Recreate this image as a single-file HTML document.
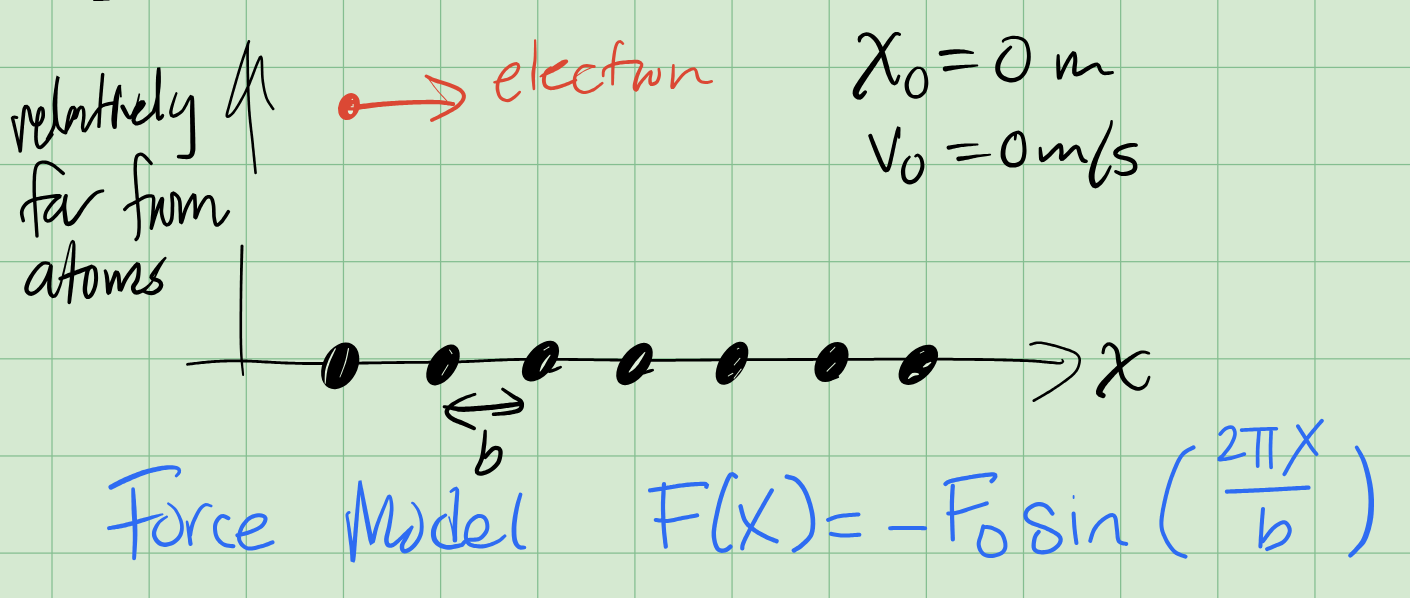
<!DOCTYPE html><html><head><meta charset="utf-8"><title>notes</title><style>html,body{margin:0;padding:0;background:#d5e9d1;overflow:hidden;font-family:"Liberation Sans",sans-serif}svg{display:block}</style></head><body>
<svg width="1410" height="598" viewBox="0 0 1410 598">
<rect width="1410" height="598" fill="#d5e9d1"/>
<rect x="51.38" y="0" width="1.25" height="598" fill="#84be90"/><rect x="148.53" y="0" width="1.25" height="598" fill="#84be90"/><rect x="245.68" y="0" width="1.25" height="598" fill="#84be90"/><rect x="342.83" y="0" width="1.25" height="598" fill="#84be90"/><rect x="439.98" y="0" width="1.25" height="598" fill="#84be90"/><rect x="537.12" y="0" width="1.25" height="598" fill="#84be90"/><rect x="634.28" y="0" width="1.25" height="598" fill="#84be90"/><rect x="731.43" y="0" width="1.25" height="598" fill="#84be90"/><rect x="828.58" y="0" width="1.25" height="598" fill="#84be90"/><rect x="925.73" y="0" width="1.25" height="598" fill="#84be90"/><rect x="1022.88" y="0" width="1.25" height="598" fill="#84be90"/><rect x="1120.03" y="0" width="1.25" height="598" fill="#84be90"/><rect x="1217.18" y="0" width="1.25" height="598" fill="#84be90"/><rect x="1314.33" y="0" width="1.25" height="598" fill="#84be90"/><rect x="0" y="66.78" width="1410" height="1.25" fill="#84be90"/><rect x="0" y="163.92" width="1410" height="1.25" fill="#84be90"/><rect x="0" y="261.06" width="1410" height="1.25" fill="#84be90"/><rect x="0" y="358.20" width="1410" height="1.25" fill="#84be90"/><rect x="0" y="455.34" width="1410" height="1.25" fill="#84be90"/><rect x="0" y="552.48" width="1410" height="1.25" fill="#84be90"/>
<rect x="102" y="0" width="7.5" height="1" fill="#3a3f3a" opacity="0.8"/>
<ellipse cx="349" cy="106.6" rx="10.5" ry="13.9" transform="rotate(22 349 106.6)" fill="#db4834"/>
<path fill="#e3f3dc" d="M352.3 98.6l1 1.4h-2zM352.6 104.1h1v3.2h-2.8v-1h1.8zM347.8 110.4h5.3c0 2-1.2 3.8-2.6 3.8s-2.7-1.8-2.7-3.8z"/>
<ellipse cx="340.2" cy="365.9" rx="17.2" ry="24.8" transform="rotate(28.0 340.2 365.9)" fill="#000000"/>
<ellipse cx="443.0" cy="365.0" rx="13.0" ry="23.0" transform="rotate(34.0 443.0 365.0)" fill="#000000"/>
<ellipse cx="540.5" cy="361.1" rx="13.5" ry="24.0" transform="rotate(40.0 540.5 361.1)" fill="#000000"/>
<ellipse cx="634.5" cy="364.0" rx="13.5" ry="24.5" transform="rotate(37.0 634.5 364.0)" fill="#000000"/>
<ellipse cx="732.0" cy="363.3" rx="12.5" ry="24.0" transform="rotate(31.0 732.0 363.3)" fill="#000000"/>
<ellipse cx="831.5" cy="362.0" rx="14.5" ry="22.0" transform="rotate(33.0 831.5 362.0)" fill="#000000"/>
<ellipse cx="918.3" cy="364.8" rx="14.0" ry="24.5" transform="rotate(44.0 918.3 364.8)" fill="#000000"/>
<path fill="#000000" d="M94.0 1.0 95.3 1.0 97.2 1.0 99.3 1.0 101.2 1.0 102.5 1.0 A1.0 1.0 0 0 0 102.5 -1.0 L102.5 -1.0 101.2 -1.0 99.3 -1.0 97.2 -1.0 95.3 -1.0 94.0 -1.0 A1.0 1.0 0 0 0 94.0 1.0 Z M16.9 115.9 14.6 115.6 12.2 115.9 10.7 117.7 11.0 119.0 11.9 122.4 12.2 123.3 12.4 124.5 12.7 125.9 13.1 127.3 13.5 129.0 13.9 130.7 14.3 132.5 14.7 134.3 15.1 136.2 15.6 138.0 16.0 139.9 16.4 141.7 16.8 143.4 17.2 145.1 17.6 146.6 17.9 148.1 18.2 149.3 18.4 150.4 18.6 151.3 A1.6 1.6 0 0 0 21.8 150.5 L21.8 150.5 21.6 149.7 21.3 148.6 21.0 147.3 20.7 145.9 20.3 144.4 19.9 142.7 19.5 141.0 19.1 139.2 18.7 137.3 18.2 135.4 17.8 133.6 17.4 131.7 17.0 129.9 16.6 128.2 16.2 126.6 15.9 125.1 15.6 123.8 15.3 122.6 15.1 121.6 14.1 118.1 13.9 117.8 13.0 119.1 14.6 118.8 16.5 119.1 A1.6 1.6 0 0 0 16.9 115.9 Z M22.0 151.1 22.1 150.2 22.2 149.1 22.3 147.8 22.4 146.4 22.5 144.9 22.6 143.2 22.8 141.5 22.9 139.7 23.1 137.9 23.2 136.0 23.4 134.2 23.6 132.3 23.7 130.5 23.9 128.8 24.0 127.2 24.1 125.6 24.3 124.2 24.4 123.0 24.6 120.7 24.8 118.7 25.0 116.8 25.2 115.1 25.3 113.6 25.5 112.2 25.7 111.1 25.8 110.0 26.0 109.4 26.7 107.7 26.1 108.1 26.3 108.3 27.3 110.6 27.6 111.7 27.9 113.2 28.2 114.9 28.5 116.7 28.9 118.5 29.2 120.2 29.7 121.7 31.2 124.5 32.4 125.8 A1.8 1.8 0 0 0 35.0 123.2 L35.0 123.2 34.1 122.4 32.9 120.3 32.7 119.3 32.4 117.8 32.1 116.1 31.8 114.3 31.4 112.5 31.1 110.8 30.7 109.4 29.4 106.4 27.3 104.7 24.2 105.1 22.6 108.0 22.3 109.3 22.1 110.5 21.9 111.8 21.7 113.2 21.6 114.7 21.4 116.4 21.2 118.3 21.0 120.4 20.8 122.6 20.7 123.9 20.6 125.3 20.4 126.8 20.3 128.5 20.1 130.2 20.0 132.0 19.8 133.9 19.7 135.7 19.5 137.6 19.3 139.4 19.2 141.2 19.1 142.9 18.9 144.6 18.8 146.1 18.7 147.5 18.6 148.8 18.5 149.9 18.4 150.7 A1.8 1.8 0 0 0 22.0 151.1 Z M33.4 126.3 34.8 126.6 37.3 126.9 39.9 126.1 41.4 124.6 42.5 123.0 43.4 121.2 44.2 119.3 44.8 117.4 45.0 115.4 45.0 113.2 44.9 111.2 44.6 109.4 43.8 107.5 40.8 106.1 38.1 108.1 37.4 109.7 36.9 111.1 36.5 112.7 36.1 114.6 35.7 116.7 35.4 119.1 35.3 120.3 35.1 121.8 35.0 123.3 34.8 124.9 34.7 126.6 34.5 128.4 34.4 130.1 34.3 131.8 34.2 133.5 34.2 135.2 34.1 136.7 34.2 138.1 34.2 139.4 34.5 142.1 35.0 144.4 35.8 146.3 36.8 147.9 38.4 149.1 40.7 149.2 42.7 148.2 44.4 146.7 46.1 145.1 47.2 143.8 48.3 142.4 49.5 140.8 50.7 139.2 51.7 137.7 52.6 136.4 53.3 135.6 A1.8 1.8 0 0 0 50.3 133.4 L50.3 133.4 49.7 134.3 48.8 135.6 47.8 137.1 46.6 138.7 45.5 140.2 44.4 141.5 43.5 142.5 42.0 144.1 40.6 145.2 39.8 145.7 39.6 145.7 39.5 145.5 39.0 144.7 38.5 143.4 38.1 141.5 37.8 139.0 37.8 138.0 37.7 136.7 37.8 135.3 37.8 133.7 37.9 132.0 38.0 130.3 38.1 128.6 38.3 126.9 38.4 125.2 38.6 123.6 38.7 122.1 38.8 120.7 39.0 119.5 39.3 117.2 39.6 115.2 40.0 113.5 40.4 112.1 40.7 110.9 40.9 110.5 41.5 109.6 41.2 109.9 41.1 110.2 41.3 111.6 41.4 113.4 41.4 115.1 41.2 116.6 40.8 118.1 40.2 119.7 39.4 121.2 38.5 122.4 38.1 122.9 37.0 123.3 35.4 123.0 34.0 122.7 A1.8 1.8 0 0 0 33.4 126.3 Z M49.0 139.8 49.4 139.0 49.9 138.1 50.5 137.0 51.3 135.8 52.0 134.4 52.9 132.9 53.6 131.3 54.4 129.6 55.1 127.9 55.6 126.1 56.1 124.3 56.3 122.9 56.4 121.4 56.5 119.9 56.5 118.3 56.5 116.7 56.5 115.1 56.4 113.5 56.3 111.9 56.2 110.3 56.1 108.7 56.1 107.2 56.0 105.6 56.0 104.1 56.1 102.7 56.2 101.1 56.4 99.5 56.5 97.8 56.7 96.1 56.9 94.4 57.1 92.7 57.4 91.1 57.6 89.5 57.8 87.9 58.0 86.5 58.2 85.2 58.4 83.9 58.6 82.9 59.1 80.0 59.5 77.9 59.7 77.0 56.4 76.6 56.2 77.6 55.9 79.0 55.5 80.8 55.2 82.9 54.8 85.1 54.6 87.4 54.5 88.7 54.4 90.1 54.3 91.5 54.3 93.0 54.2 94.6 54.1 96.2 54.1 97.9 54.0 99.6 54.0 101.2 54.0 102.9 53.9 104.5 53.9 106.0 54.0 107.5 54.0 109.0 54.1 110.8 54.2 112.7 54.3 114.6 54.4 116.4 54.6 118.2 54.7 119.8 55.0 121.5 55.2 123.0 55.5 124.4 55.9 125.8 56.8 128.0 58.1 129.8 59.4 131.1 60.6 132.0 61.7 132.9 63.9 134.1 65.4 134.4 A1.7 1.7 0 0 0 66.0 131.0 L66.0 131.0 65.1 130.9 63.5 130.1 62.7 129.4 61.7 128.6 60.7 127.6 59.8 126.4 59.1 124.6 58.8 123.6 58.6 122.3 58.3 120.9 58.1 119.4 57.9 117.8 57.8 116.1 57.7 114.4 57.6 112.6 57.5 110.7 57.4 108.8 57.4 107.5 57.3 106.0 57.3 104.5 57.4 102.9 57.4 101.3 57.4 99.6 57.5 98.0 57.5 96.4 57.6 94.7 57.7 93.2 57.7 91.7 57.8 90.3 57.9 88.9 58.0 87.8 58.2 85.5 58.5 83.4 58.9 81.4 59.2 79.7 59.5 78.3 59.8 77.2 56.6 75.6 56.2 77.1 55.7 79.3 55.2 82.3 55.1 83.4 54.9 84.7 54.7 86.0 54.5 87.4 54.2 89.0 54.0 90.6 53.8 92.3 53.5 94.0 53.3 95.7 53.1 97.4 53.0 99.1 52.8 100.8 52.7 102.5 52.6 104.1 52.6 105.7 52.7 107.3 52.7 108.9 52.8 110.5 52.9 112.1 53.0 113.7 53.1 115.3 53.1 116.8 53.1 118.3 53.1 119.8 53.0 121.1 52.9 122.5 52.7 123.7 52.4 125.2 51.9 126.7 51.3 128.3 50.6 129.8 49.8 131.3 49.1 132.7 48.3 134.1 47.6 135.3 47.0 136.4 46.4 137.4 46.0 138.2 A1.7 1.7 0 0 0 49.0 139.8 Z M67.4 133.0 67.5 132.0 67.8 130.7 68.0 129.2 68.3 127.5 68.6 125.6 68.9 123.8 69.2 121.9 69.5 120.0 69.9 118.3 70.2 116.8 70.4 115.6 71.1 113.4 71.7 111.6 72.2 110.3 72.8 109.3 72.6 109.2 73.2 108.9 73.6 109.6 73.4 109.9 73.2 111.2 72.8 112.8 72.2 114.7 71.7 115.9 71.2 117.4 70.5 118.9 69.8 120.4 69.1 121.9 68.5 123.2 67.7 124.8 66.8 126.4 65.9 127.9 65.1 129.2 64.5 130.1 A1.7 1.7 0 0 0 67.5 131.9 L67.5 131.9 68.0 130.9 68.8 129.7 69.7 128.1 70.6 126.4 71.5 124.8 72.2 123.3 72.9 121.8 73.6 120.2 74.3 118.7 74.9 117.1 75.4 115.7 76.0 113.8 76.5 112.0 76.8 110.2 76.6 108.2 74.5 105.8 71.4 106.0 69.9 107.5 69.2 108.8 68.5 110.4 67.8 112.4 67.2 114.8 66.8 116.1 66.5 117.7 66.2 119.4 65.9 121.3 65.5 123.2 65.2 125.1 64.9 126.9 64.6 128.7 64.4 130.2 64.2 131.5 64.0 132.4 A1.7 1.7 0 0 0 67.4 133.0 Z M72.0 119.6 74.1 120.1 76.7 119.1 77.8 117.3 78.4 115.6 78.9 113.8 79.4 112.1 79.9 110.7 80.2 110.0 81.4 108.8 81.8 109.1 81.5 109.1 81.8 110.1 82.0 111.6 82.1 113.3 82.2 115.2 82.1 116.5 82.0 118.0 81.8 119.7 81.5 121.5 81.2 123.3 81.0 124.9 80.9 126.5 80.9 128.0 82.0 131.9 85.6 132.4 87.0 131.1 87.7 130.0 88.5 128.8 89.3 127.3 90.1 125.8 91.0 124.2 91.8 122.6 92.6 121.1 93.3 119.8 94.0 118.6 95.0 117.1 95.9 115.7 96.8 114.3 97.7 113.1 98.6 112.0 99.4 110.9 100.2 110.0 101.3 108.7 102.2 107.9 103.0 107.3 104.5 106.7 105.7 106.3 107.4 105.9 109.2 105.5 111.1 105.1 112.9 104.8 114.4 104.5 115.5 104.3 A1.7 1.7 0 0 0 114.9 100.9 L114.9 100.9 113.8 101.1 112.3 101.4 110.5 101.8 108.6 102.1 106.6 102.6 104.8 103.0 103.3 103.5 101.4 104.3 100.0 105.3 98.9 106.4 97.6 107.8 96.8 108.8 95.9 109.9 95.0 111.1 94.1 112.4 93.1 113.8 92.1 115.2 91.2 116.8 90.4 118.1 89.6 119.5 88.8 121.0 87.9 122.6 87.1 124.2 86.3 125.7 85.5 127.1 84.9 128.3 84.3 129.1 84.6 129.2 84.6 129.8 84.3 127.4 84.3 126.6 84.4 125.3 84.6 123.7 84.9 122.0 85.1 120.2 85.4 118.4 85.5 116.7 85.6 115.2 85.5 113.1 85.4 111.2 85.1 109.4 84.6 107.9 83.4 106.1 80.3 105.6 77.6 107.8 76.8 109.4 76.2 111.1 75.6 112.9 75.1 114.6 74.7 116.0 74.7 116.3 73.7 116.7 73.0 116.4 A1.7 1.7 0 0 0 72.0 119.6 Z M101.0 74.3 100.9 75.1 100.8 76.1 100.7 77.2 100.6 78.5 100.5 79.9 100.4 81.4 100.2 82.9 100.1 84.6 99.9 86.2 99.8 88.0 99.6 89.7 99.5 91.5 99.3 93.2 99.2 95.0 99.1 96.7 98.9 98.3 98.8 99.9 98.7 101.5 98.6 103.1 98.5 104.8 98.4 106.6 98.2 108.4 98.1 110.2 98.0 112.0 97.9 113.8 97.8 115.6 97.7 117.3 97.6 118.9 97.5 120.4 97.5 121.9 97.4 123.2 97.3 124.4 97.3 125.4 97.2 126.3 A1.7 1.7 0 0 0 100.6 126.5 L100.6 126.5 100.6 125.6 100.7 124.6 100.8 123.4 100.9 122.1 100.9 120.6 101.0 119.1 101.1 117.5 101.2 115.8 101.3 114.0 101.4 112.2 101.5 110.4 101.6 108.6 101.7 106.8 101.9 105.1 102.0 103.3 102.1 101.7 102.2 100.1 102.3 98.6 102.4 96.9 102.6 95.2 102.7 93.5 102.9 91.8 103.0 90.0 103.2 88.3 103.3 86.5 103.5 84.9 103.6 83.2 103.8 81.7 103.9 80.2 104.0 78.8 104.1 77.5 104.2 76.4 104.3 75.4 104.4 74.5 A1.7 1.7 0 0 0 101.0 74.3 Z M120.3 84.7 118.6 84.9 117.6 86.3 117.1 87.5 116.5 88.9 115.9 90.6 115.3 92.4 114.8 94.3 114.2 96.2 113.9 97.7 113.6 99.3 113.4 100.9 113.1 102.6 112.9 104.3 112.6 105.9 112.4 107.5 112.2 109.0 112.1 110.7 111.9 112.4 111.8 114.1 111.6 115.7 111.5 117.2 111.4 118.7 111.4 120.2 111.6 122.4 111.8 124.4 112.1 126.0 112.4 127.1 A2.2 2.2 0 0 0 116.8 126.7 L116.8 126.7 116.9 125.6 116.9 124.0 116.9 122.2 117.0 120.2 117.1 119.0 117.2 117.6 117.3 116.1 117.4 114.6 117.6 112.9 117.8 111.3 118.0 109.6 118.1 108.1 118.2 106.5 118.3 104.9 118.5 103.2 118.6 101.6 118.8 100.1 119.0 98.6 119.2 97.2 119.4 95.3 119.7 93.5 120.0 91.7 120.4 90.0 120.7 88.6 120.8 87.7 121.0 86.8 119.9 87.1 A1.2 1.2 0 0 0 120.3 84.7 Z M119.2 86.0 119.3 87.0 119.4 88.6 119.5 90.4 119.7 92.3 119.8 94.2 119.9 95.7 120.0 96.8 A0.9 0.9 0 0 0 121.8 96.6 L121.8 96.6 121.7 95.6 121.6 94.0 121.5 92.2 121.3 90.3 121.2 88.4 121.1 86.9 121.0 85.8 A0.9 0.9 0 0 0 119.2 86.0 Z M120.6 107.8 121.2 109.1 122.3 111.1 123.1 112.5 124.0 114.2 125.0 115.8 126.0 117.2 127.8 119.0 130.5 119.4 132.4 118.1 133.6 116.3 134.8 114.2 135.4 113.0 135.9 111.6 136.4 110.2 136.9 108.7 137.4 107.1 137.9 105.4 138.2 103.8 138.6 102.1 139.0 100.2 139.4 98.4 139.7 96.8 139.9 95.4 140.1 94.4 A0.8 0.8 0 0 0 138.5 94.0 L138.5 94.0 138.3 95.0 137.9 96.4 137.5 98.0 137.1 99.8 136.7 101.6 136.2 103.3 135.7 104.8 135.2 106.3 134.6 107.8 134.0 109.2 133.4 110.6 132.8 111.8 132.2 112.8 131.0 114.5 130.0 115.7 129.7 116.0 129.9 115.9 129.2 114.8 128.6 113.7 127.8 112.1 127.0 110.5 126.3 109.1 125.2 107.1 124.6 105.8 A2.2 2.2 0 0 0 120.6 107.8 Z M135.1 114.3 135.7 113.3 136.6 111.8 137.6 110.2 138.6 108.9 139.7 107.7 141.1 106.4 142.3 105.3 142.8 104.9 142.1 104.7 141.0 103.3 140.9 103.4 140.2 104.7 139.2 106.2 138.5 107.2 137.5 108.3 136.4 109.6 135.3 111.0 134.3 112.5 133.3 114.3 132.4 116.3 131.7 118.3 131.4 120.5 132.6 123.6 135.3 125.5 137.5 125.6 139.2 125.1 141.0 124.4 142.7 123.6 144.2 122.7 145.6 121.6 147.1 120.4 148.4 119.3 149.7 118.2 151.2 116.7 152.7 115.2 154.0 113.9 154.8 113.0 A1.7 1.7 0 0 0 152.4 110.6 L152.4 110.6 151.5 111.5 150.2 112.8 148.8 114.1 147.3 115.4 146.1 116.4 144.7 117.5 143.4 118.5 142.0 119.4 140.9 120.0 139.4 120.7 138.0 121.2 136.9 121.4 136.7 121.5 135.9 121.1 135.6 119.9 135.7 119.2 136.2 117.7 136.9 116.1 137.7 114.5 138.5 113.5 139.5 112.4 140.6 111.3 141.8 110.1 142.8 109.0 144.1 107.2 145.2 105.6 146.0 103.5 144.2 100.2 140.8 100.3 139.1 101.6 137.7 103.0 136.3 104.6 135.0 106.3 134.0 108.1 133.1 109.9 132.4 111.6 131.9 112.7 A1.8 1.8 0 0 0 135.1 114.3 Z M155.3 112.4 155.6 111.4 156.1 110.1 156.6 108.5 157.1 106.8 157.7 105.0 158.2 103.1 158.7 101.3 159.0 99.7 159.2 98.1 159.5 96.4 159.7 94.7 159.9 93.1 160.1 91.5 160.2 90.0 160.4 88.6 160.6 86.7 160.7 85.0 160.8 83.4 160.9 81.8 160.9 80.0 160.9 78.3 160.9 76.5 160.8 74.6 160.8 72.7 160.7 71.2 160.6 69.9 160.3 67.2 157.2 67.5 157.0 68.6 156.8 69.7 156.6 71.1 156.5 72.7 156.3 74.4 156.1 76.2 156.0 78.1 155.9 79.9 155.9 81.3 155.8 82.7 155.8 84.2 155.8 85.7 155.8 87.3 155.8 88.9 155.8 90.4 155.8 92.0 155.8 93.6 155.8 95.2 155.8 96.7 155.8 98.3 155.8 99.9 155.7 101.6 155.7 103.2 155.7 104.9 155.7 106.6 155.7 108.2 155.7 109.7 155.7 111.1 155.7 112.4 155.7 113.6 155.9 116.7 156.3 118.9 158.5 121.1 161.3 120.0 163.3 118.0 164.0 116.6 164.2 115.6 A1.5 1.5 0 0 0 161.4 114.6 L161.4 114.6 161.1 115.0 160.5 115.6 159.2 117.1 158.7 117.5 159.9 117.9 159.8 116.4 159.7 113.4 159.7 112.3 159.6 111.1 159.6 109.7 159.6 108.2 159.6 106.6 159.6 105.0 159.6 103.3 159.6 101.6 159.6 99.9 159.6 98.3 159.6 96.7 159.6 95.2 159.6 93.6 159.5 92.0 159.5 90.4 159.5 88.8 159.5 87.3 159.5 85.7 159.5 84.2 159.5 82.8 159.5 81.4 159.5 80.1 159.5 78.3 159.6 76.4 159.7 74.7 159.8 73.0 159.9 71.4 159.9 70.1 160.0 69.0 160.0 68.5 157.6 68.0 157.8 70.1 157.9 71.3 157.9 72.9 157.9 74.6 158.0 76.5 157.9 78.3 157.9 80.0 157.8 81.6 157.6 83.1 157.4 84.6 157.1 86.3 156.8 88.2 156.7 89.6 156.5 91.1 156.3 92.7 156.1 94.3 155.9 95.9 155.7 97.5 155.4 99.1 155.1 100.5 154.7 102.2 154.3 103.9 153.7 105.7 153.2 107.4 152.6 109.0 152.2 110.3 151.9 111.2 A1.8 1.8 0 0 0 155.3 112.4 Z M175.5 92.6 175.1 93.5 174.6 94.7 174.0 96.2 173.4 97.8 172.8 99.4 172.2 101.1 171.7 102.6 171.1 104.3 170.5 106.1 170.0 107.9 169.6 109.6 169.2 111.3 169.1 113.0 170.1 116.5 173.2 118.0 175.2 117.6 176.8 116.9 178.4 116.0 180.2 114.8 181.9 113.5 183.4 111.9 184.4 110.6 185.3 109.2 186.2 107.6 187.1 106.0 187.9 104.4 188.6 102.8 189.3 101.4 189.9 100.2 190.5 99.4 191.9 97.3 190.5 97.8 190.3 97.9 190.4 98.9 190.3 100.0 190.3 101.4 190.3 103.0 190.2 104.7 190.1 106.6 190.1 108.5 190.0 110.6 190.0 112.7 190.0 114.0 190.0 115.4 190.0 116.8 190.1 118.3 190.1 119.9 190.1 121.6 190.1 123.3 190.2 125.0 190.2 126.7 190.2 128.4 190.2 130.1 190.2 131.7 190.3 133.3 190.3 134.8 190.3 136.3 190.3 137.6 190.3 138.9 190.3 140.0 190.3 142.6 190.4 144.6 190.4 146.3 190.4 147.7 190.4 148.8 190.3 149.8 190.2 150.8 189.8 152.5 189.5 153.5 189.2 154.0 188.4 154.5 187.8 154.7 186.4 154.8 184.8 154.8 183.0 154.8 181.3 154.7 179.8 154.7 178.8 154.7 A1.9 1.9 0 0 0 178.6 158.5 L178.6 158.5 179.6 158.6 181.0 158.8 182.8 158.9 184.6 159.1 186.6 159.2 188.4 159.1 190.2 158.7 192.2 157.6 193.7 155.8 194.5 153.9 195.0 151.8 195.3 150.5 195.4 149.1 195.4 147.7 195.4 146.2 195.4 144.5 195.3 142.5 195.3 140.0 195.3 138.8 195.3 137.6 195.2 136.2 195.2 134.7 195.2 133.2 195.1 131.6 195.1 130.0 195.0 128.3 195.0 126.6 194.9 124.9 194.9 123.2 194.8 121.5 194.8 119.8 194.8 118.3 194.7 116.7 194.7 115.3 194.6 113.9 194.6 112.7 194.5 110.6 194.5 108.5 194.4 106.6 194.4 104.7 194.3 103.0 194.3 101.4 194.2 99.9 194.1 98.6 193.9 97.5 193.5 96.0 190.2 94.7 188.1 97.8 187.5 98.8 186.8 100.1 186.1 101.5 185.3 103.1 184.5 104.7 183.6 106.2 182.8 107.7 182.0 108.9 181.2 109.9 179.9 111.1 178.4 112.2 176.8 113.1 175.3 113.8 174.1 114.2 173.8 114.4 172.8 114.3 172.5 112.4 172.5 111.6 172.7 110.3 173.0 108.6 173.4 106.9 173.9 105.1 174.3 103.4 174.8 101.9 175.3 100.3 175.8 98.6 176.3 97.0 176.8 95.5 177.2 94.3 177.5 93.4 A1.1 1.1 0 0 0 175.5 92.6 Z M247.6 41.0 247.5 41.6 247.3 42.0 247.0 42.8 246.8 44.1 246.5 45.9 246.4 48.7 246.3 52.6 246.3 53.6 246.3 54.6 246.3 55.7 246.3 56.9 246.3 58.1 246.3 59.4 246.4 60.7 246.4 62.1 246.4 63.6 246.4 65.1 246.4 66.6 246.5 68.2 246.5 69.8 246.5 71.4 246.5 73.1 246.6 74.7 246.6 76.4 246.7 78.1 246.7 79.8 246.7 81.6 246.8 83.3 246.8 85.0 246.9 86.7 246.9 88.4 247.0 90.1 247.0 91.8 247.1 93.4 247.1 95.0 247.2 96.6 247.3 98.2 247.3 99.7 247.4 101.1 247.5 102.6 247.5 103.9 247.6 105.3 247.7 107.1 247.8 108.8 247.9 110.6 248.1 112.3 248.2 113.9 248.3 115.6 248.5 117.2 248.6 118.8 248.8 120.3 248.9 121.9 249.1 123.4 249.3 124.9 249.4 126.3 249.6 127.8 249.8 129.2 249.9 130.7 250.1 132.1 250.3 133.5 250.4 134.9 250.6 136.2 250.7 137.6 250.9 139.0 251.0 140.3 251.2 141.7 251.3 143.0 251.5 144.7 251.6 146.5 251.8 148.2 252.0 150.0 252.2 151.8 252.4 153.6 252.5 155.3 252.7 157.1 252.9 158.8 253.0 160.4 253.2 162.1 253.4 163.6 253.5 165.1 253.6 166.6 253.8 167.9 253.9 169.2 254.0 170.3 254.1 171.4 254.2 172.3 254.3 173.1 A1.3 1.3 0 0 0 256.9 172.9 L256.9 172.9 256.8 172.1 256.7 171.1 256.6 170.1 256.5 168.9 256.4 167.6 256.2 166.3 256.1 164.9 255.9 163.4 255.8 161.8 255.6 160.2 255.5 158.5 255.3 156.8 255.1 155.1 254.9 153.3 254.8 151.5 254.6 149.8 254.4 148.0 254.2 146.2 254.1 144.5 253.9 142.8 253.8 141.4 253.6 140.0 253.5 138.7 253.3 137.3 253.2 135.9 253.0 134.6 252.8 133.2 252.7 131.8 252.5 130.4 252.3 128.9 252.2 127.5 252.0 126.0 251.9 124.6 251.7 123.1 251.5 121.6 251.4 120.1 251.2 118.5 251.1 116.9 250.9 115.3 250.8 113.7 250.7 112.1 250.5 110.4 250.4 108.7 250.3 106.9 250.2 105.1 250.1 103.8 250.1 102.4 250.0 101.0 249.9 99.6 249.9 98.1 249.8 96.5 249.7 94.9 249.7 93.3 249.6 91.7 249.6 90.0 249.5 88.3 249.5 86.6 249.4 84.9 249.4 83.2 249.3 81.5 249.3 79.8 249.3 78.1 249.2 76.4 249.2 74.7 249.1 73.0 249.1 71.4 249.1 69.7 249.1 68.1 249.0 66.6 249.0 65.0 249.0 63.5 249.0 62.1 249.0 60.7 248.9 59.4 248.9 58.1 248.9 56.8 248.9 55.7 248.9 54.6 248.9 53.5 248.9 52.6 249.0 48.8 249.1 46.1 249.3 44.5 249.5 43.5 249.8 43.0 250.0 42.3 250.2 41.6 A1.3 1.3 0 0 0 247.6 41.0 Z M247.7 40.9 247.4 41.7 247.1 42.6 246.7 43.6 246.3 44.8 245.9 46.0 245.4 47.4 244.9 48.8 244.4 50.3 243.9 51.8 243.4 53.4 242.8 55.1 242.2 56.8 241.6 58.5 241.1 60.3 240.5 62.0 239.9 63.8 239.4 65.5 238.9 67.2 238.5 68.5 238.0 69.9 237.6 71.3 237.2 72.8 236.7 74.3 236.3 75.9 235.8 77.5 235.3 79.1 234.8 80.7 234.4 82.3 233.9 83.9 233.4 85.6 233.0 87.2 232.5 88.8 232.1 90.4 231.6 91.9 231.2 93.4 230.8 94.9 230.4 96.3 230.0 97.6 229.7 98.9 229.3 100.2 229.0 101.3 228.7 102.4 228.0 104.9 227.4 107.2 226.8 109.3 226.3 111.1 225.9 112.6 225.6 113.9 225.5 115.1 225.5 116.2 226.1 117.4 227.6 118.1 229.2 117.7 230.8 116.7 232.5 115.3 234.3 113.4 236.0 111.1 236.7 110.1 237.4 109.1 238.1 108.0 238.8 106.8 239.6 105.6 240.3 104.3 241.1 102.9 241.9 101.5 242.7 100.1 243.5 98.6 244.3 97.1 245.1 95.6 245.9 94.1 246.6 92.6 247.4 91.1 248.1 89.7 248.8 88.3 249.4 86.9 250.1 85.4 250.7 83.9 251.3 82.4 251.9 80.8 252.6 79.2 253.2 77.7 253.8 76.1 254.4 74.5 254.9 73.0 255.5 71.5 256.0 70.0 256.6 68.6 257.1 67.3 257.5 66.1 258.0 65.0 258.4 64.0 258.8 63.1 260.2 59.8 261.2 57.8 260.3 57.7 260.2 58.1 260.3 58.5 260.4 59.4 260.5 60.5 260.6 61.8 260.6 63.3 260.7 64.9 260.7 66.6 260.8 68.4 260.8 70.2 260.9 72.1 260.9 73.9 261.0 75.6 261.1 77.3 261.3 78.9 261.4 80.4 261.6 82.2 261.9 84.0 262.2 85.7 262.5 87.4 262.8 89.1 263.1 90.7 263.5 92.3 263.8 93.8 264.3 95.3 264.7 96.8 265.2 98.2 266.0 100.0 266.9 101.9 267.9 103.6 269.0 105.2 269.9 106.6 270.8 107.9 271.6 108.9 272.1 109.7 A1.3 1.3 0 0 0 274.3 108.3 L274.3 108.3 273.7 107.4 273.0 106.4 272.1 105.1 271.1 103.7 270.1 102.2 269.2 100.6 268.3 98.9 267.6 97.2 267.2 96.0 266.8 94.6 266.4 93.2 266.0 91.7 265.6 90.2 265.3 88.6 265.0 87.0 264.7 85.3 264.5 83.6 264.2 81.8 264.0 80.0 263.8 78.7 263.7 77.1 263.6 75.5 263.5 73.8 263.5 72.0 263.4 70.2 263.4 68.4 263.3 66.6 263.3 64.9 263.2 63.2 263.2 61.7 263.1 60.3 263.0 59.1 262.8 58.1 262.6 57.1 261.2 55.2 258.9 56.4 257.9 58.8 256.4 62.1 256.0 63.0 255.6 64.0 255.1 65.2 254.6 66.4 254.1 67.7 253.6 69.1 253.1 70.6 252.5 72.1 251.9 73.6 251.3 75.2 250.7 76.7 250.1 78.3 249.5 79.9 248.9 81.4 248.3 82.9 247.7 84.4 247.0 85.8 246.4 87.1 245.7 88.6 245.0 90.0 244.3 91.5 243.6 92.9 242.8 94.4 242.0 95.9 241.2 97.4 240.4 98.8 239.6 100.3 238.9 101.6 238.1 103.0 237.3 104.3 236.6 105.5 235.9 106.6 235.2 107.7 234.6 108.7 234.0 109.5 232.3 111.7 230.7 113.4 229.2 114.6 228.1 115.3 227.7 115.5 227.9 115.6 228.1 115.8 228.1 115.3 228.2 114.4 228.5 113.2 228.8 111.7 229.3 110.0 229.9 107.9 230.5 105.6 231.3 103.0 231.5 102.0 231.9 100.8 232.2 99.6 232.5 98.3 232.9 97.0 233.3 95.6 233.7 94.1 234.1 92.6 234.6 91.1 235.0 89.5 235.5 87.9 235.9 86.3 236.4 84.7 236.9 83.0 237.3 81.4 237.8 79.8 238.3 78.2 238.7 76.6 239.2 75.1 239.7 73.6 240.1 72.1 240.5 70.7 240.9 69.3 241.3 68.0 241.9 66.3 242.4 64.5 243.0 62.8 243.5 61.1 244.1 59.3 244.7 57.6 245.3 55.9 245.8 54.3 246.4 52.7 246.9 51.1 247.4 49.6 247.9 48.2 248.4 46.9 248.8 45.6 249.2 44.5 249.5 43.4 249.9 42.5 250.1 41.7 A1.3 1.3 0 0 0 247.7 40.9 Z M64.4 172.2 63.7 171.6 62.7 170.8 61.6 169.8 60.3 168.7 58.9 167.6 57.5 166.4 56.1 165.3 54.8 164.3 53.6 163.5 51.9 162.6 50.3 161.9 48.7 161.3 47.1 160.8 45.6 160.5 44.1 160.4 42.1 160.4 40.0 160.9 38.1 161.7 36.5 163.0 35.5 164.3 34.7 165.8 34.1 167.4 33.6 169.4 33.2 171.9 33.1 173.1 32.9 174.3 32.8 175.7 32.7 177.1 32.7 178.6 32.6 180.2 32.5 181.8 32.5 183.5 32.5 185.2 32.5 187.0 32.5 188.7 32.5 190.5 32.5 191.9 32.6 193.3 32.6 194.8 32.7 196.3 32.8 197.8 32.9 199.4 33.0 200.9 33.1 202.5 33.2 204.1 33.3 205.7 33.4 207.3 33.5 208.8 33.6 210.4 33.7 211.9 33.8 213.4 33.9 214.8 34.0 216.5 34.1 218.2 34.2 219.9 34.3 221.7 34.5 223.5 34.6 225.3 34.7 227.0 34.8 228.6 34.9 230.2 35.0 231.7 35.1 233.0 35.2 234.2 35.2 235.3 35.3 236.1 A1.7 1.7 0 0 0 38.7 235.9 L38.7 235.9 38.6 235.0 38.6 234.0 38.5 232.8 38.4 231.4 38.3 230.0 38.2 228.4 38.1 226.7 38.0 225.0 37.9 223.3 37.7 221.5 37.6 219.7 37.5 218.0 37.4 216.3 37.3 214.6 37.2 213.1 37.1 211.7 37.0 210.1 36.9 208.6 36.8 207.0 36.7 205.5 36.6 203.9 36.5 202.3 36.4 200.7 36.3 199.2 36.2 197.6 36.1 196.1 36.0 194.6 36.0 193.2 35.9 191.8 35.9 190.5 35.9 188.7 35.9 187.0 35.9 185.3 35.9 183.6 35.9 181.9 36.0 180.3 36.1 178.8 36.1 177.3 36.2 176.0 36.3 174.6 36.5 173.4 36.6 172.3 36.9 170.1 37.3 168.4 37.8 167.1 38.3 166.2 38.9 165.4 39.9 164.6 41.0 164.1 42.4 163.8 44.1 163.8 45.1 163.9 46.3 164.1 47.6 164.5 48.9 165.0 50.4 165.7 51.8 166.5 52.9 167.1 54.1 168.0 55.4 169.1 56.8 170.2 58.1 171.3 59.4 172.4 60.5 173.4 61.5 174.2 62.2 174.8 A1.7 1.7 0 0 0 64.4 172.2 Z M25.1 220.6 24.8 219.4 24.4 217.7 23.9 215.9 23.6 214.1 23.5 212.7 23.7 211.2 24.2 209.6 24.9 208.2 25.7 206.9 26.5 205.9 27.6 204.9 28.8 204.1 30.1 203.3 31.5 202.6 32.9 202.0 34.6 201.4 36.4 200.9 37.9 200.6 39.5 200.2 41.2 199.9 42.9 199.6 44.6 199.3 46.3 199.0 47.9 198.7 49.6 198.5 51.2 198.3 52.8 198.1 54.6 197.9 56.5 197.7 58.2 197.5 59.3 197.5 58.5 196.5 58.6 195.3 57.4 196.1 55.6 197.4 53.9 198.8 52.8 199.9 51.7 201.1 50.7 202.3 49.6 203.5 48.7 204.8 47.7 206.1 46.7 207.5 45.8 209.0 44.9 210.5 44.2 212.0 43.5 214.4 43.2 216.7 43.4 219.0 44.8 221.5 47.2 222.7 49.3 222.6 51.1 221.9 52.9 220.8 54.1 219.7 55.3 218.6 56.6 217.3 57.8 215.9 59.0 214.6 60.1 213.3 61.2 212.0 62.3 210.6 63.4 209.1 64.3 207.5 65.1 205.9 65.7 204.1 66.2 202.4 66.6 200.9 66.9 199.7 67.5 197.5 67.8 196.3 A1.8 1.8 0 0 0 64.2 195.5 L64.2 195.5 64.0 196.7 63.5 198.7 63.1 200.0 62.7 201.4 62.3 203.0 61.7 204.5 61.1 205.9 60.4 207.1 59.4 208.4 58.4 209.7 57.3 211.0 56.2 212.2 55.1 213.5 53.9 214.8 52.8 216.0 51.7 217.1 50.7 217.8 49.4 218.7 48.4 219.2 48.0 219.3 47.3 219.0 46.8 218.0 46.8 216.9 47.0 215.1 47.6 213.2 48.1 212.1 48.8 210.9 49.7 209.6 50.6 208.2 51.5 207.0 52.5 205.8 53.4 204.6 54.4 203.5 55.4 202.4 56.3 201.4 57.7 200.3 59.5 199.1 61.1 197.9 61.9 195.3 59.7 193.9 58.0 193.9 56.1 194.1 54.2 194.3 52.4 194.5 50.8 194.7 49.1 194.9 47.4 195.2 45.7 195.4 44.0 195.7 42.3 196.0 40.5 196.3 38.8 196.7 37.1 197.0 35.4 197.5 33.5 198.0 31.7 198.6 30.0 199.3 28.3 200.1 26.8 201.1 25.3 202.1 23.9 203.4 22.7 204.9 21.7 206.5 20.9 208.3 20.2 210.3 19.9 212.5 20.0 214.5 20.4 216.6 20.9 218.6 21.4 220.3 21.7 221.4 A1.8 1.8 0 0 0 25.1 220.6 Z M63.5 196.7 63.3 197.8 63.0 199.5 62.7 201.5 62.4 203.7 62.3 205.8 62.3 207.4 62.3 209.1 62.4 210.8 62.6 212.5 62.7 214.2 62.9 215.7 63.0 217.1 63.3 219.2 63.5 221.3 64.0 223.3 65.5 225.4 68.2 226.2 70.9 225.7 73.1 224.6 74.4 223.5 75.5 222.3 76.5 221.0 77.6 219.6 78.7 218.1 79.4 217.0 80.3 215.7 81.1 214.4 81.9 213.0 82.8 211.7 83.6 210.3 84.4 209.1 85.2 207.9 86.2 206.6 87.1 205.3 88.0 204.1 89.0 203.0 89.9 201.8 90.8 200.8 91.8 199.8 93.0 198.4 94.3 197.0 95.6 195.8 96.8 194.8 97.8 194.0 99.2 193.4 100.7 192.9 102.0 192.6 103.1 192.4 A1.5 1.5 0 0 0 102.5 189.4 L102.5 189.4 101.5 189.5 100.0 189.7 98.1 190.2 96.2 191.0 94.6 191.9 93.2 193.0 91.7 194.3 90.3 195.6 88.8 197.0 87.9 198.1 86.9 199.2 85.9 200.4 84.9 201.7 83.9 202.9 83.0 204.2 82.0 205.5 81.1 206.8 80.2 208.1 79.3 209.4 78.4 210.8 77.5 212.1 76.7 213.4 75.9 214.5 75.1 215.5 74.0 217.0 73.0 218.3 72.1 219.3 71.3 220.1 70.7 220.6 69.3 221.4 68.3 221.6 68.1 221.6 68.2 221.6 67.9 220.5 67.7 218.7 67.4 216.5 67.2 215.2 67.0 213.7 66.8 212.1 66.6 210.5 66.4 208.9 66.3 207.3 66.3 206.0 66.4 204.0 66.7 202.1 67.0 200.2 67.3 198.5 67.5 197.3 A2.0 2.0 0 0 0 63.5 196.7 Z M152.4 162.4 151.7 161.6 150.7 160.4 149.5 159.1 148.3 157.6 147.0 156.2 145.8 154.9 144.5 153.9 142.4 152.7 140.3 152.5 138.5 152.9 136.9 153.7 135.4 155.3 134.5 157.8 134.2 159.0 134.0 160.2 133.9 161.5 133.7 162.9 133.6 164.5 133.6 166.2 133.5 168.2 133.5 170.3 133.6 172.7 133.6 173.8 133.7 175.1 133.8 176.5 133.9 177.9 134.0 179.4 134.1 180.9 134.2 182.5 134.3 184.1 134.5 185.7 134.6 187.4 134.8 189.1 134.9 190.7 135.0 192.4 135.2 194.0 135.3 195.6 135.4 197.2 135.6 198.7 135.7 200.1 135.8 201.5 135.9 202.7 136.1 204.6 136.2 206.4 136.4 208.1 136.5 209.8 136.6 211.3 136.8 212.8 136.9 214.3 137.0 215.7 137.1 217.1 137.2 218.4 137.3 219.7 137.4 221.0 137.4 222.2 137.4 224.0 137.4 225.8 137.4 227.4 137.3 229.1 137.2 230.6 137.1 232.0 136.9 233.3 136.8 234.4 136.7 235.1 135.6 237.6 134.8 238.3 A1.7 1.7 0 0 0 137.2 240.7 L137.2 240.7 138.6 239.3 139.9 236.3 140.1 234.9 140.3 233.7 140.5 232.3 140.6 230.8 140.7 229.2 140.8 227.6 140.8 225.8 140.8 224.0 140.8 222.2 140.8 220.9 140.7 219.5 140.6 218.2 140.5 216.8 140.4 215.4 140.3 214.0 140.2 212.5 140.0 211.0 139.9 209.4 139.7 207.8 139.6 206.1 139.4 204.3 139.3 202.5 139.2 201.2 139.1 199.8 139.0 198.4 138.8 196.9 138.7 195.3 138.6 193.7 138.4 192.1 138.3 190.4 138.1 188.8 138.0 187.1 137.9 185.5 137.7 183.8 137.6 182.2 137.5 180.6 137.4 179.1 137.3 177.6 137.2 176.2 137.1 174.9 137.0 173.7 137.0 172.5 136.9 170.2 136.9 168.2 137.0 166.3 137.0 164.7 137.1 163.2 137.2 161.9 137.4 160.7 137.6 159.6 137.7 158.8 138.4 156.9 138.9 156.4 139.7 156.1 140.5 155.8 141.3 155.9 142.7 156.7 143.4 157.4 144.5 158.5 145.7 159.9 147.0 161.3 148.1 162.6 149.1 163.8 149.8 164.6 A1.7 1.7 0 0 0 152.4 162.4 Z M126.1 210.5 126.9 209.6 127.9 208.4 129.5 207.1 130.5 206.5 132.0 205.7 133.6 205.0 135.2 204.2 136.9 203.4 138.4 202.6 140.1 201.6 141.6 200.6 143.1 199.7 144.4 198.9 145.6 198.4 147.1 197.9 148.7 197.7 150.0 197.6 151.1 197.7 151.7 197.4 151.9 198.8 152.0 199.5 152.0 200.7 151.9 202.1 151.8 203.7 151.7 205.4 151.6 207.1 151.5 208.9 151.3 210.7 151.2 212.4 151.1 213.9 150.9 215.6 150.7 217.4 150.6 219.2 150.4 221.1 150.2 222.8 150.0 224.4 149.8 225.9 149.7 227.1 149.6 228.0 A1.7 1.7 0 0 0 153.0 228.4 L153.0 228.4 153.1 227.4 153.2 226.2 153.4 224.8 153.6 223.2 153.7 221.4 153.9 219.6 154.1 217.8 154.3 215.9 154.5 214.2 154.6 212.6 154.7 210.9 154.9 209.2 155.0 207.4 155.1 205.6 155.2 203.9 155.3 202.2 155.4 200.7 155.4 199.4 155.3 198.0 154.1 195.1 151.5 194.3 150.0 194.2 148.3 194.3 146.4 194.6 144.4 195.2 142.8 195.9 141.3 196.8 139.8 197.8 138.3 198.7 136.8 199.6 135.4 200.3 133.8 201.1 132.1 201.9 130.4 202.7 128.9 203.5 127.5 204.3 125.6 205.9 124.3 207.4 123.5 208.3 A1.7 1.7 0 0 0 126.1 210.5 Z M153.0 228.7 153.3 227.8 153.6 226.7 154.1 225.3 154.5 223.8 155.0 222.1 155.5 220.3 156.1 218.6 156.6 216.8 157.2 215.1 157.7 213.4 158.2 211.9 158.7 210.6 159.4 208.7 160.2 206.7 161.0 204.7 161.7 202.9 162.4 201.4 163.0 200.2 163.2 199.8 161.5 200.0 160.7 199.0 160.7 199.8 160.5 201.1 160.4 202.9 160.1 204.8 159.9 206.9 159.7 209.0 159.6 210.9 159.7 212.7 160.0 214.6 160.3 216.6 160.8 218.4 161.4 220.2 161.9 221.8 162.5 223.3 163.4 224.8 166.3 226.7 169.4 225.9 170.8 224.8 171.9 223.4 172.8 221.5 173.5 219.2 173.7 217.8 173.8 216.4 174.0 214.8 174.1 213.0 174.2 211.3 174.2 209.5 174.2 207.8 174.3 206.2 174.3 204.7 174.3 202.8 174.1 200.8 174.0 198.9 173.8 197.2 173.7 195.7 173.7 194.7 173.4 194.8 173.0 194.8 173.9 195.4 175.2 196.5 176.0 197.3 176.7 198.3 177.3 199.5 177.9 201.1 178.1 202.3 178.2 203.8 178.3 205.5 178.4 207.3 178.4 209.1 178.5 210.9 178.6 212.6 178.7 214.6 178.7 216.9 178.8 219.3 178.9 221.3 179.1 223.0 181.8 224.4 183.2 223.0 183.6 221.8 184.1 220.2 184.7 218.5 185.2 216.5 185.8 214.5 186.4 212.6 187.0 210.8 187.6 209.3 188.3 207.7 189.1 206.1 189.9 204.4 190.8 202.8 191.6 201.3 192.4 199.9 193.1 198.7 193.7 197.8 194.7 195.9 192.9 196.1 192.9 196.4 193.0 197.7 193.1 199.4 193.2 201.3 193.3 203.3 193.4 205.2 193.4 207.1 193.5 208.6 193.5 210.6 193.4 212.7 193.3 214.7 193.2 216.5 193.3 218.0 195.8 219.7 197.3 218.4 197.9 217.0 198.6 215.3 199.3 213.3 200.1 211.3 200.9 209.4 201.6 207.8 202.4 206.4 203.3 204.8 204.2 203.3 205.1 201.9 206.0 200.6 206.8 199.6 207.3 199.1 208.5 198.4 209.1 198.4 209.8 198.9 210.2 199.6 210.7 200.9 211.2 202.7 211.6 205.0 211.8 206.3 211.9 207.8 212.0 209.6 212.0 211.4 212.1 213.3 212.1 215.1 212.2 216.8 212.4 218.3 212.8 220.8 213.3 223.1 214.1 225.2 215.8 226.8 218.2 226.7 220.1 225.6 221.8 224.1 223.4 222.4 224.4 221.1 225.4 219.6 226.5 218.0 227.5 216.4 228.5 214.8 229.3 213.6 229.8 212.7 A1.8 1.8 0 0 0 226.8 210.7 L226.8 210.7 226.2 211.7 225.4 212.9 224.5 214.4 223.5 216.0 222.4 217.6 221.5 219.0 220.6 220.0 219.2 221.6 217.9 222.8 217.0 223.3 217.2 223.4 217.2 223.3 216.8 222.1 216.4 220.1 216.0 217.7 215.8 216.4 215.7 214.9 215.7 213.1 215.6 211.3 215.6 209.4 215.5 207.6 215.4 205.9 215.2 204.4 214.7 201.9 214.2 199.8 213.4 197.9 212.2 196.3 210.2 195.0 207.6 194.9 205.3 196.1 204.1 197.2 203.1 198.5 202.1 199.9 201.1 201.4 200.2 203.0 199.3 204.6 198.4 206.2 197.6 207.9 196.7 210.0 195.9 212.0 195.2 214.0 194.6 215.6 194.1 216.6 194.8 216.3 196.8 217.3 196.8 216.5 196.9 214.9 197.0 212.9 197.1 210.7 197.1 208.6 197.0 207.0 197.0 205.1 196.9 203.1 196.8 201.1 196.7 199.2 196.6 197.4 196.5 195.9 196.1 194.3 192.7 192.9 190.7 195.8 190.1 196.8 189.3 198.1 188.5 199.5 187.6 201.1 186.7 202.7 185.8 204.4 185.0 206.2 184.2 207.9 183.6 209.6 183.0 211.5 182.3 213.5 181.8 215.5 181.2 217.5 180.7 219.2 180.3 220.6 179.9 221.4 180.6 221.0 182.5 221.8 182.4 221.0 182.4 219.2 182.3 216.9 182.3 214.5 182.2 212.4 182.1 210.8 182.0 209.0 182.0 207.2 181.9 205.3 181.8 203.5 181.6 201.8 181.3 200.3 180.7 198.1 179.7 196.4 178.7 195.0 177.6 193.9 175.9 192.4 173.4 191.3 170.8 192.4 170.1 194.3 170.1 195.8 170.2 197.5 170.4 199.2 170.5 201.1 170.7 202.9 170.7 204.7 170.7 206.2 170.6 207.8 170.6 209.4 170.6 211.2 170.5 212.9 170.4 214.5 170.3 216.0 170.1 217.4 169.9 218.4 169.4 220.3 168.8 221.5 168.2 222.3 167.8 222.7 167.0 223.2 166.0 222.2 165.8 221.7 165.3 220.5 164.8 219.1 164.3 217.5 163.9 215.8 163.5 214.0 163.3 212.3 163.2 210.9 163.3 209.2 163.5 207.3 163.7 205.2 163.9 203.3 164.1 201.5 164.3 200.0 164.2 198.7 163.1 196.8 160.6 197.3 159.9 198.4 159.2 199.8 158.4 201.5 157.6 203.4 156.8 205.4 156.0 207.4 155.3 209.4 154.8 210.8 154.3 212.3 153.8 214.0 153.2 215.7 152.6 217.5 152.1 219.3 151.6 221.1 151.1 222.7 150.6 224.3 150.2 225.6 149.9 226.8 149.6 227.7 A1.8 1.8 0 0 0 153.0 228.7 Z M49.7 262.3 48.2 261.8 45.7 261.2 43.0 261.4 41.4 262.1 40.1 263.0 38.8 264.0 37.5 265.1 36.2 266.4 35.0 267.8 34.0 268.9 33.0 270.2 32.0 271.5 31.0 272.9 30.0 274.4 29.1 275.8 28.3 277.2 27.5 278.6 26.7 280.3 25.9 282.1 25.2 283.9 24.7 285.6 24.3 287.3 24.2 289.1 24.9 291.9 26.5 294.1 28.6 295.6 31.2 295.9 33.7 295.3 36.1 294.1 37.5 293.1 38.8 292.1 40.1 290.8 41.4 289.5 42.6 288.1 43.8 286.5 44.7 285.3 45.5 284.0 46.3 282.6 47.1 281.1 47.9 279.7 48.6 278.3 49.2 276.9 49.9 275.5 50.6 273.5 51.2 271.4 51.8 269.3 52.2 267.6 52.5 266.5 50.6 267.3 49.2 265.9 49.1 266.8 48.9 268.3 48.6 270.1 48.3 272.1 48.0 274.0 47.8 275.8 47.7 277.5 47.5 279.2 47.3 281.0 47.2 282.8 47.1 284.6 47.1 286.3 47.1 287.8 47.4 290.2 47.8 292.4 48.4 294.3 49.4 296.1 52.3 298.2 55.8 297.5 57.1 296.1 57.8 294.9 58.5 293.5 59.2 291.9 59.8 290.3 60.4 288.6 61.0 286.9 61.5 285.5 61.9 283.9 62.3 282.4 62.7 280.8 63.1 279.1 63.5 277.4 63.9 275.7 64.3 273.9 64.6 272.5 65.0 271.0 65.3 269.5 65.7 267.9 66.0 266.3 66.4 264.8 66.7 263.2 67.1 261.6 67.4 260.1 67.8 258.6 68.2 256.9 68.6 255.2 69.0 253.5 69.4 251.7 69.8 250.0 70.2 248.5 70.6 247.0 70.9 245.7 71.2 244.7 72.5 242.1 72.7 242.0 72.3 242.0 72.4 244.6 72.4 245.5 72.3 246.7 72.2 248.1 72.1 249.6 72.0 251.3 71.8 253.0 71.7 254.7 71.6 256.5 71.4 258.3 71.3 259.8 71.2 261.3 71.1 262.9 71.0 264.5 70.8 266.2 70.7 267.8 70.6 269.5 70.4 271.1 70.3 272.7 70.2 274.3 70.0 275.8 69.9 277.4 69.7 279.0 69.5 280.6 69.3 282.2 69.2 283.7 69.0 285.2 68.8 286.7 68.6 288.2 68.5 289.6 68.3 291.0 68.2 292.9 68.0 294.9 67.8 296.9 67.7 298.7 67.6 300.3 67.5 301.7 67.5 302.7 A1.8 1.8 0 0 0 70.9 303.1 L70.9 303.1 71.1 302.1 71.3 300.7 71.5 299.1 71.7 297.3 72.0 295.3 72.2 293.4 72.5 291.4 72.6 290.1 72.8 288.7 73.0 287.2 73.2 285.7 73.3 284.2 73.5 282.7 73.7 281.1 73.9 279.5 74.0 277.8 74.2 276.2 74.3 274.6 74.4 273.1 74.5 271.4 74.6 269.8 74.7 268.1 74.8 266.4 74.9 264.8 75.0 263.1 75.1 261.5 75.1 260.0 75.2 258.5 75.3 256.7 75.3 255.0 75.4 253.2 75.4 251.4 75.5 249.8 75.5 248.2 75.5 246.8 75.5 245.5 75.4 244.2 74.7 241.1 72.7 239.8 70.9 241.0 69.6 244.1 69.2 245.2 68.8 246.5 68.5 248.0 68.1 249.6 67.7 251.3 67.2 253.0 66.8 254.8 66.4 256.5 66.0 258.2 65.7 259.7 65.3 261.2 64.9 262.8 64.5 264.3 64.2 265.9 63.8 267.5 63.4 269.0 63.1 270.6 62.7 272.0 62.3 273.5 61.9 275.2 61.4 276.9 61.0 278.6 60.5 280.2 60.1 281.8 59.6 283.3 59.1 284.7 58.6 286.1 58.0 287.6 57.2 289.2 56.5 290.7 55.8 292.1 55.0 293.3 54.4 294.1 54.4 294.3 53.4 294.5 52.6 293.3 52.3 292.7 51.9 291.4 51.7 289.6 51.5 287.6 51.4 286.3 51.5 284.7 51.5 283.1 51.6 281.3 51.7 279.6 51.9 277.8 52.0 276.2 52.1 274.5 52.3 272.6 52.5 270.6 52.7 268.8 52.8 267.2 52.9 266.0 51.4 263.7 49.1 265.3 48.7 266.6 48.2 268.4 47.6 270.4 47.0 272.3 46.3 274.1 45.8 275.3 45.2 276.6 44.5 278.0 43.8 279.3 43.0 280.7 42.3 282.0 41.5 283.2 40.8 284.3 39.7 285.6 38.6 286.9 37.4 288.1 36.3 289.2 35.2 290.1 34.3 290.7 32.4 291.6 31.0 291.8 30.2 291.6 29.5 291.1 28.8 290.2 28.6 288.7 28.7 287.9 28.9 286.7 29.3 285.2 29.9 283.7 30.5 282.1 31.3 280.4 31.9 279.2 32.6 277.9 33.4 276.5 34.3 275.1 35.2 273.8 36.1 272.5 37.0 271.3 37.8 270.2 39.0 269.0 40.1 267.8 41.2 266.7 42.2 265.9 43.2 265.2 43.8 264.8 45.6 264.5 47.4 264.8 48.9 265.1 A1.5 1.5 0 0 0 49.7 262.3 Z M60.5 280.5 61.4 280.2 62.8 279.8 64.3 279.2 66.0 278.7 67.7 278.1 69.1 277.6 70.6 277.0 72.2 276.4 73.8 275.8 75.4 275.2 77.0 274.6 78.6 274.0 80.2 273.4 81.9 272.7 83.5 272.1 85.0 271.5 86.4 271.0 88.2 270.2 89.9 269.4 91.2 268.8 92.1 268.3 A1.9 1.9 0 0 0 90.7 264.9 L90.7 264.9 89.7 265.2 88.3 265.7 86.7 266.4 84.8 267.0 83.5 267.5 82.0 268.1 80.4 268.6 78.7 269.2 77.0 269.8 75.4 270.4 73.8 271.0 72.2 271.6 70.6 272.2 69.0 272.8 67.5 273.3 66.1 273.9 64.4 274.7 62.8 275.4 61.3 276.2 60.0 276.8 59.1 277.3 A1.8 1.8 0 0 0 60.5 280.5 Z M90.3 264.9 89.3 265.6 87.6 266.9 86.1 269.2 85.6 270.6 85.2 272.1 84.8 273.6 84.5 275.3 84.2 276.9 83.9 278.6 83.6 280.2 83.4 281.6 83.2 283.4 83.0 285.1 82.8 286.7 82.7 288.4 82.7 289.9 82.8 291.5 83.2 293.6 83.9 295.6 84.8 297.4 86.5 298.9 89.2 299.0 91.3 297.8 93.0 295.9 93.9 294.4 94.8 292.7 95.6 290.9 96.3 288.9 96.9 287.0 97.3 285.4 97.6 283.7 97.8 282.1 98.0 280.4 98.1 278.8 98.1 277.2 98.0 275.3 97.9 273.3 97.6 271.5 97.3 269.8 96.8 268.0 95.0 266.1 93.4 265.3 A1.5 1.5 0 0 0 91.8 267.9 L91.8 267.9 92.5 268.5 93.2 270.0 93.4 270.7 93.7 272.1 93.9 273.8 94.0 275.5 94.1 277.2 94.1 278.6 94.0 280.1 93.9 281.6 93.7 283.1 93.4 284.6 93.1 286.0 92.6 287.7 91.9 289.4 91.2 291.0 90.5 292.5 89.8 293.5 88.7 294.7 87.9 295.2 88.1 295.3 88.2 295.2 87.8 294.1 87.4 292.6 87.2 290.9 87.1 289.8 87.1 288.5 87.2 287.1 87.4 285.5 87.6 283.9 87.8 282.2 88.0 280.8 88.2 279.3 88.4 277.6 88.6 276.0 88.9 274.4 89.2 273.0 89.5 271.8 89.7 271.0 90.6 269.5 91.6 268.8 92.5 268.3 A2.0 2.0 0 0 0 90.3 264.9 Z M103.7 271.1 104.0 272.2 104.3 273.7 104.7 275.5 104.8 276.7 105.0 278.2 105.2 279.8 105.3 281.5 105.5 283.3 105.6 285.0 105.7 287.1 105.9 289.3 106.0 291.3 106.2 293.0 108.0 295.3 111.0 293.6 111.5 291.8 112.0 289.7 112.5 287.5 113.0 285.7 113.6 284.1 114.2 282.5 114.8 280.8 115.4 279.2 116.0 277.8 116.7 275.6 117.3 273.9 116.9 273.9 115.7 273.8 116.2 274.8 116.5 275.9 116.7 277.5 116.9 279.4 117.1 281.3 117.2 283.1 117.3 285.0 117.3 286.9 117.4 288.4 118.0 291.1 121.8 291.7 122.8 290.2 123.4 288.9 124.0 287.4 124.7 285.7 125.4 284.0 126.1 282.4 126.9 281.1 127.6 279.8 128.4 278.5 129.3 277.1 130.2 275.8 131.1 274.6 132.0 273.4 132.8 272.3 133.9 270.9 135.0 269.5 136.0 268.3 136.9 267.3 137.6 266.5 138.4 265.6 136.6 265.2 136.5 265.6 136.7 267.1 136.8 269.0 136.7 271.0 136.6 272.3 136.4 273.8 136.2 275.3 135.9 276.8 135.5 278.1 135.1 279.3 134.5 280.6 133.6 281.9 132.6 283.3 131.6 284.8 130.9 286.8 131.0 289.6 132.1 292.3 134.0 294.2 136.4 294.7 138.4 294.4 140.3 293.8 142.0 293.0 143.6 292.1 145.2 291.0 146.7 289.7 148.2 288.2 149.2 287.1 150.2 286.0 151.2 284.8 152.2 283.5 153.1 282.1 154.0 280.6 154.8 279.3 155.5 277.9 156.2 276.5 156.9 275.0 157.6 273.5 158.3 272.0 159.0 270.5 159.8 269.1 160.6 267.6 161.5 266.0 162.4 264.4 163.3 262.9 164.1 261.5 164.8 260.4 165.3 259.5 A1.1 1.1 0 0 0 163.3 258.5 L163.3 258.5 162.9 259.3 162.3 260.5 161.5 261.9 160.7 263.4 159.8 265.1 159.0 266.7 158.1 268.3 157.4 269.7 156.6 271.2 155.9 272.7 155.2 274.2 154.5 275.7 153.8 277.1 153.1 278.4 152.4 279.6 151.4 280.8 150.4 282.0 149.3 283.1 148.3 284.2 147.2 285.1 146.2 286.0 144.7 287.1 143.2 288.1 141.8 288.8 140.4 289.4 139.0 289.8 137.5 290.2 136.5 290.2 136.4 290.2 136.0 289.8 135.5 288.7 135.5 287.4 135.7 286.9 136.4 285.8 137.3 284.4 138.4 282.7 139.3 280.9 139.7 279.2 140.1 277.6 140.3 275.9 140.5 274.3 140.6 272.7 140.7 271.2 140.8 269.0 140.7 266.8 140.5 264.9 139.8 263.0 136.6 262.0 134.8 263.7 133.9 264.6 133.0 265.7 131.9 267.0 130.7 268.4 129.6 269.9 128.8 271.0 127.9 272.3 126.9 273.5 126.0 274.9 125.1 276.3 124.2 277.7 123.3 279.1 122.5 280.7 121.8 282.4 121.0 284.2 120.3 285.8 119.7 287.3 119.2 288.4 119.4 288.5 121.7 289.2 121.8 287.8 121.6 286.5 121.4 284.8 121.3 282.8 121.1 280.9 120.9 279.0 120.7 277.0 120.4 275.1 120.0 273.4 118.6 270.9 115.3 270.3 113.6 272.3 113.0 274.3 112.2 276.4 111.7 277.8 111.1 279.4 110.4 281.0 109.8 282.8 109.2 284.5 108.6 286.5 108.0 288.7 107.4 290.7 107.0 291.9 109.2 291.1 110.5 292.1 110.3 290.9 110.2 289.0 110.0 286.9 109.9 284.7 109.7 282.9 109.5 281.1 109.3 279.4 109.1 277.7 108.8 276.1 108.5 274.7 107.8 272.6 107.1 271.0 106.5 270.1 A1.5 1.5 0 0 0 103.7 271.1 Z M164.4 257.2 163.5 258.0 162.3 259.2 161.0 260.6 159.8 262.0 158.7 263.1 157.8 264.3 156.8 265.5 155.7 267.0 154.8 268.1 153.8 269.4 152.7 270.9 151.6 272.4 150.6 273.9 149.8 275.3 149.3 277.7 151.4 280.5 154.4 281.4 156.5 282.1 157.9 282.8 158.7 283.8 159.0 285.1 158.7 285.9 157.9 287.2 156.7 288.5 155.9 289.1 154.7 289.8 153.5 290.4 152.2 290.9 151.1 291.1 149.8 291.1 148.2 290.9 146.4 290.4 144.8 290.0 143.7 289.8 A1.5 1.5 0 0 0 142.7 292.6 L142.7 292.6 143.8 293.1 145.3 293.8 147.2 294.5 149.2 295.1 151.3 295.3 153.3 295.0 155.1 294.4 156.8 293.6 158.3 292.7 159.7 291.7 161.4 289.9 162.7 287.7 163.4 285.1 162.6 281.9 160.5 279.4 157.9 278.3 155.6 277.6 153.5 277.1 153.1 276.5 153.4 277.0 153.9 275.9 154.8 274.6 155.8 273.2 156.9 271.7 157.9 270.4 158.7 269.2 159.8 267.6 160.6 266.3 161.4 265.2 162.2 264.0 163.3 262.6 164.5 261.1 165.5 259.8 166.2 258.8 A1.2 1.2 0 0 0 164.4 257.2 Z M240.5 245.9 240.5 246.7 240.5 247.6 240.5 248.6 240.4 249.6 240.4 250.8 240.4 252.0 240.4 253.3 240.3 254.6 240.3 256.0 240.3 257.5 240.2 259.0 240.2 260.6 240.2 262.2 240.2 263.8 240.1 265.5 240.1 267.2 240.0 268.9 240.0 270.7 240.0 272.4 240.0 274.2 239.9 276.0 239.9 277.8 239.9 279.6 239.8 281.4 239.8 283.2 239.8 284.9 239.8 286.7 239.7 288.4 239.7 290.2 239.7 291.8 239.7 293.5 239.7 294.9 239.7 296.4 239.7 297.9 239.6 299.5 239.6 301.0 239.6 302.6 239.6 304.2 239.6 305.8 239.6 307.5 239.6 309.1 239.6 310.7 239.5 312.4 239.5 314.0 239.5 315.7 239.5 317.3 239.5 319.0 239.5 320.7 239.5 322.3 239.5 323.9 239.5 325.5 239.5 327.2 239.5 328.7 239.5 330.3 239.5 331.9 239.5 333.4 239.5 334.9 239.5 336.4 239.5 337.8 239.6 339.3 239.6 340.7 239.6 342.0 239.6 343.3 239.6 344.6 239.7 345.8 239.7 347.0 239.8 349.3 239.9 351.4 240.0 353.5 240.1 355.5 240.3 357.5 240.4 359.3 240.6 361.1 240.7 362.8 240.9 364.4 241.1 366.0 241.2 367.4 241.4 368.8 241.5 370.1 241.7 371.3 241.8 372.4 241.9 373.4 242.0 374.3 242.1 375.1 A1.0 1.0 0 0 0 244.1 374.9 L244.1 374.9 244.0 374.1 244.0 373.2 243.9 372.1 243.8 371.0 243.7 369.8 243.6 368.6 243.4 367.2 243.3 365.8 243.2 364.2 243.1 362.6 242.9 360.9 242.8 359.2 242.7 357.3 242.6 355.4 242.5 353.4 242.4 351.3 242.4 349.2 242.3 347.0 242.3 345.8 242.2 344.6 242.2 343.3 242.2 342.0 242.2 340.6 242.2 339.2 242.1 337.8 242.1 336.4 242.1 334.9 242.1 333.4 242.1 331.9 242.1 330.3 242.1 328.7 242.1 327.2 242.1 325.5 242.1 323.9 242.1 322.3 242.1 320.7 242.1 319.0 242.1 317.4 242.1 315.7 242.1 314.1 242.1 312.4 242.2 310.8 242.2 309.1 242.2 307.5 242.2 305.9 242.2 304.2 242.2 302.6 242.2 301.1 242.2 299.5 242.3 298.0 242.3 296.5 242.3 295.0 242.3 293.5 242.3 291.9 242.4 290.2 242.4 288.5 242.4 286.7 242.4 285.0 242.5 283.2 242.5 281.4 242.6 279.6 242.6 277.9 242.6 276.1 242.7 274.3 242.7 272.5 242.8 270.7 242.8 269.0 242.9 267.2 242.9 265.5 243.0 263.9 243.0 262.2 243.1 260.6 243.1 259.1 243.2 257.6 243.2 256.1 243.2 254.7 243.3 253.3 243.3 252.1 243.4 250.8 243.4 249.7 243.4 248.6 243.4 247.7 243.5 246.7 243.5 245.9 A1.5 1.5 0 0 0 240.5 245.9 Z M187.7 365.7 188.5 365.6 189.5 365.5 190.7 365.3 192.0 365.2 193.3 365.0 194.8 364.8 196.4 364.6 198.1 364.4 199.8 364.2 201.5 364.0 203.3 363.9 205.1 363.7 206.9 363.5 208.6 363.4 210.4 363.2 212.1 363.1 213.5 363.0 214.9 362.9 216.3 362.8 217.7 362.8 219.1 362.7 220.5 362.6 221.9 362.5 223.3 362.5 224.8 362.4 226.2 362.4 227.7 362.3 229.3 362.3 230.9 362.3 232.5 362.3 234.2 362.2 235.9 362.2 237.7 362.3 239.5 362.3 241.5 362.3 242.7 362.3 244.1 362.4 245.4 362.4 246.8 362.4 248.2 362.5 249.7 362.6 251.2 362.6 252.7 362.7 254.2 362.8 255.8 362.8 257.4 362.9 259.0 363.0 260.6 363.1 262.2 363.2 263.8 363.3 265.5 363.4 267.1 363.4 268.7 363.5 270.4 363.6 272.0 363.7 273.6 363.8 275.2 363.9 276.7 364.0 278.3 364.0 279.8 364.1 281.3 364.2 282.8 364.2 284.2 364.3 285.6 364.4 287.0 364.4 288.6 364.5 290.2 364.5 291.7 364.6 293.1 364.6 294.4 364.6 295.7 364.7 296.9 364.7 298.1 364.8 299.3 364.8 300.5 364.8 301.7 364.8 302.9 364.9 304.1 364.9 305.4 364.9 306.8 364.9 308.3 364.9 309.8 364.9 311.5 364.9 313.2 364.9 315.1 364.9 317.1 364.9 319.3 364.9 321.7 364.9 322.8 364.9 324.0 364.9 325.1 364.9 326.4 364.9 327.6 364.9 328.9 364.9 330.2 364.8 331.6 364.8 332.9 364.8 334.3 364.8 335.8 364.8 337.2 364.8 338.7 364.7 340.2 364.7 341.7 364.7 343.2 364.7 344.8 364.7 346.4 364.7 347.9 364.6 349.5 364.6 351.1 364.6 352.8 364.6 354.4 364.5 356.0 364.5 357.7 364.5 359.4 364.5 361.0 364.5 362.7 364.4 364.3 364.4 366.0 364.4 367.7 364.4 369.3 364.3 371.0 364.3 372.6 364.3 374.3 364.3 375.9 364.2 377.6 364.2 379.2 364.2 380.8 364.2 382.4 364.1 384.0 364.1 385.5 364.1 387.1 364.1 388.6 364.1 390.1 364.0 391.6 364.0 393.1 364.0 394.5 364.0 395.9 364.0 397.3 363.9 398.7 363.9 400.0 363.9 401.8 363.9 403.5 363.9 405.2 363.8 406.8 363.8 408.4 363.8 410.0 363.8 411.6 363.8 413.2 363.8 414.7 363.8 416.2 363.7 417.7 363.7 419.2 363.7 420.7 363.7 422.1 363.7 423.6 363.7 425.0 363.7 426.4 363.7 427.8 363.7 429.3 363.6 430.7 363.6 432.1 363.6 433.5 363.6 434.9 363.6 436.3 363.6 437.7 363.6 439.2 363.6 440.6 363.5 442.1 363.5 443.5 363.5 445.0 363.5 446.5 363.5 448.0 363.4 449.5 363.4 451.0 363.4 452.6 363.3 454.2 363.3 455.8 363.3 457.4 363.2 459.0 363.2 460.4 363.2 461.8 363.1 463.1 363.1 464.5 363.0 465.8 363.0 467.2 362.9 468.5 362.9 469.9 362.8 471.2 362.8 472.5 362.7 473.8 362.7 475.2 362.6 476.5 362.5 477.8 362.5 479.1 362.4 480.5 362.3 481.8 362.3 483.2 362.2 484.5 362.1 485.9 362.1 487.3 362.0 488.7 361.9 490.1 361.9 491.5 361.8 492.9 361.7 494.3 361.7 495.8 361.6 497.3 361.5 498.8 361.5 500.3 361.4 501.8 361.4 503.4 361.3 504.9 361.2 506.5 361.2 508.2 361.1 509.8 361.1 511.5 361.0 513.2 361.0 514.9 360.9 516.7 360.9 518.5 360.9 520.3 360.8 522.2 360.8 524.1 360.8 526.0 360.7 528.0 360.7 530.0 360.7 531.2 360.7 532.4 360.7 533.7 360.7 534.9 360.7 536.2 360.7 537.5 360.7 538.8 360.7 540.1 360.7 541.4 360.7 542.8 360.7 544.2 360.7 545.5 360.7 546.9 360.7 548.3 360.7 549.7 360.7 551.2 360.7 552.6 360.7 554.1 360.7 555.5 360.7 557.0 360.7 558.5 360.8 560.0 360.8 561.5 360.8 563.0 360.8 564.5 360.8 566.1 360.8 567.6 360.8 569.2 360.9 570.7 360.9 572.3 360.9 573.8 360.9 575.4 360.9 577.0 360.9 578.6 361.0 580.2 361.0 581.8 361.0 583.4 361.0 585.0 361.0 586.6 361.1 588.2 361.1 589.8 361.1 591.4 361.1 593.0 361.1 594.6 361.2 596.2 361.2 597.8 361.2 599.5 361.2 601.1 361.2 602.7 361.3 604.3 361.3 605.9 361.3 607.5 361.3 609.1 361.3 610.7 361.4 612.3 361.4 613.9 361.4 615.5 361.4 617.1 361.4 618.7 361.5 620.2 361.5 621.8 361.5 623.4 361.5 624.9 361.5 626.5 361.5 628.0 361.6 629.6 361.6 631.1 361.6 632.6 361.6 634.1 361.6 635.6 361.6 637.1 361.6 638.6 361.6 640.0 361.7 641.5 361.7 643.0 361.7 644.4 361.7 645.8 361.7 647.2 361.7 648.6 361.7 650.0 361.7 651.6 361.7 653.3 361.7 654.9 361.7 656.4 361.7 658.0 361.7 659.5 361.7 661.0 361.7 662.5 361.7 663.9 361.7 665.4 361.7 666.8 361.7 668.2 361.7 669.6 361.7 670.9 361.7 672.3 361.7 673.6 361.7 675.0 361.7 676.3 361.6 677.6 361.6 678.9 361.6 680.2 361.6 681.5 361.6 682.8 361.6 684.1 361.6 685.3 361.6 686.6 361.6 687.9 361.6 689.2 361.6 690.5 361.5 691.7 361.5 693.0 361.5 694.3 361.5 695.6 361.5 696.9 361.5 698.3 361.5 699.6 361.5 700.9 361.4 702.3 361.4 703.7 361.4 705.0 361.4 706.4 361.4 707.9 361.4 709.3 361.4 710.8 361.4 712.2 361.3 713.7 361.3 715.2 361.3 716.8 361.3 718.4 361.3 720.0 361.3 721.6 361.3 723.2 361.2 724.9 361.2 726.6 361.2 728.4 361.2 730.1 361.2 732.0 361.2 733.8 361.2 735.7 361.2 737.6 361.2 739.6 361.1 741.6 361.1 743.6 361.1 745.7 361.1 747.8 361.1 750.0 361.1 751.2 361.1 752.3 361.1 753.5 361.1 754.8 361.1 756.0 361.1 757.2 361.1 758.5 361.1 759.8 361.1 761.1 361.1 762.4 361.1 763.7 361.0 765.0 361.0 766.4 361.0 767.8 361.0 769.1 361.0 770.5 361.0 772.0 361.0 773.4 361.0 774.8 361.0 776.3 361.0 777.7 361.0 779.2 361.0 780.7 361.0 782.2 361.0 783.7 361.0 785.2 361.0 786.7 361.0 788.3 360.9 789.8 360.9 791.4 360.9 792.9 360.9 794.5 360.9 796.1 360.9 797.7 360.9 799.3 360.9 800.9 360.9 802.5 360.9 804.1 360.9 805.8 360.9 807.4 360.9 809.0 360.9 810.7 360.9 812.3 360.9 814.0 360.8 815.7 360.8 817.3 360.8 819.0 360.8 820.7 360.8 822.4 360.8 824.1 360.8 825.7 360.8 827.4 360.8 829.1 360.8 830.8 360.8 832.5 360.8 834.2 360.8 835.9 360.8 837.6 360.8 839.3 360.8 841.0 360.7 842.7 360.7 844.4 360.7 846.2 360.7 847.9 360.7 849.6 360.7 851.3 360.7 853.0 360.7 854.7 360.7 856.4 360.7 858.1 360.7 859.7 360.7 861.4 360.7 863.1 360.7 864.8 360.7 866.5 360.7 868.2 360.7 869.8 360.7 871.5 360.7 873.2 360.7 874.8 360.6 876.5 360.6 878.1 360.6 879.7 360.6 881.4 360.6 883.0 360.6 884.6 360.6 886.2 360.6 887.8 360.6 889.4 360.6 891.0 360.6 892.6 360.6 894.1 360.6 895.7 360.6 897.2 360.6 898.8 360.6 900.3 360.6 901.8 360.6 903.3 360.6 904.8 360.6 906.3 360.6 907.8 360.6 909.3 360.6 910.7 360.6 912.1 360.6 913.6 360.6 915.0 360.6 916.4 360.6 917.8 360.6 919.1 360.6 920.5 360.6 921.8 360.6 923.2 360.6 924.5 360.6 925.8 360.6 927.0 360.6 928.3 360.6 929.6 360.6 930.8 360.6 932.0 360.6 933.2 360.6 934.4 360.6 935.5 360.6 936.7 360.6 937.8 360.6 938.9 360.6 940.0 360.6 942.5 360.6 944.9 360.6 947.3 360.6 949.6 360.6 951.9 360.6 954.1 360.7 956.3 360.7 958.4 360.7 960.5 360.7 962.5 360.7 964.5 360.7 966.4 360.8 968.3 360.8 970.2 360.8 972.0 360.8 973.8 360.8 975.5 360.9 977.2 360.9 978.8 360.9 980.5 360.9 982.0 360.9 983.6 361.0 985.1 361.0 986.6 361.0 988.1 361.0 989.5 361.1 990.9 361.1 992.2 361.1 993.6 361.1 994.9 361.2 996.2 361.2 997.5 361.2 998.7 361.3 999.9 361.3 1001.1 361.3 1002.3 361.3 1003.5 361.4 1004.6 361.4 1005.8 361.4 1006.9 361.5 1008.0 361.5 1009.1 361.5 1010.2 361.6 1011.2 361.6 1012.3 361.6 1013.3 361.7 1014.4 361.7 1015.4 361.7 1016.5 361.7 1017.5 361.8 1018.5 361.8 1019.5 361.8 1020.5 361.9 1021.6 361.9 1024.5 362.0 1027.1 362.1 1029.6 362.2 1031.8 362.3 1033.8 362.4 1035.6 362.6 1037.2 362.7 1038.8 362.8 1040.1 362.9 1041.4 363.1 1042.6 363.2 1043.7 363.3 1044.8 363.4 1045.8 363.5 1046.8 363.6 1047.8 363.7 1048.8 363.8 1049.9 363.9 1052.7 364.1 1054.8 364.3 1056.4 364.4 1057.8 364.5 1058.9 364.6 1060.3 364.5 1062.9 363.6 1064.3 361.8 1063.6 359.9 1062.6 359.0 A0.8 0.8 0 0 0 1061.4 360.0 L1061.4 360.0 1062.0 360.9 1062.1 361.2 1061.7 361.5 1059.7 361.9 1058.9 361.9 1057.9 361.9 1056.7 361.7 1055.1 361.6 1052.9 361.3 1050.1 361.1 1049.1 361.0 1048.1 360.9 1047.1 360.8 1046.1 360.7 1045.1 360.6 1044.0 360.5 1042.9 360.4 1041.7 360.3 1040.4 360.1 1039.0 360.0 1037.5 359.9 1035.8 359.8 1033.9 359.6 1031.9 359.5 1029.7 359.4 1027.2 359.3 1024.6 359.2 1021.6 359.1 1020.6 359.1 1019.6 359.0 1018.6 359.0 1017.6 359.0 1016.5 358.9 1015.5 358.9 1014.5 358.9 1013.4 358.9 1012.4 358.8 1011.3 358.8 1010.2 358.8 1009.2 358.7 1008.1 358.7 1007.0 358.7 1005.8 358.6 1004.7 358.6 1003.6 358.6 1002.4 358.5 1001.2 358.5 1000.0 358.5 998.8 358.5 997.5 358.4 996.3 358.4 995.0 358.4 993.6 358.3 992.3 358.3 990.9 358.3 989.5 358.3 988.1 358.2 986.6 358.2 985.2 358.2 983.6 358.2 982.1 358.1 980.5 358.1 978.9 358.1 977.2 358.1 975.5 358.1 973.8 358.0 972.0 358.0 970.2 358.0 968.4 358.0 966.5 358.0 964.5 357.9 962.5 357.9 960.5 357.9 958.4 357.9 956.3 357.9 954.1 357.9 951.9 357.8 949.6 357.8 947.3 357.8 944.9 357.8 942.5 357.8 940.0 357.8 938.9 357.8 937.8 357.8 936.7 357.8 935.5 357.8 934.4 357.8 933.2 357.8 932.0 357.8 930.8 357.8 929.6 357.8 928.3 357.8 927.0 357.8 925.8 357.8 924.5 357.8 923.2 357.8 921.8 357.8 920.5 357.8 919.1 357.8 917.8 357.8 916.4 357.8 915.0 357.8 913.6 357.8 912.1 357.8 910.7 357.8 909.3 357.8 907.8 357.8 906.3 357.8 904.8 357.8 903.3 357.8 901.8 357.8 900.3 357.8 898.8 357.8 897.2 357.8 895.7 357.8 894.1 357.8 892.6 357.8 891.0 357.8 889.4 357.8 887.8 357.8 886.2 357.8 884.6 357.8 883.0 357.8 881.4 357.8 879.7 357.8 878.1 357.8 876.4 357.8 874.8 357.8 873.1 357.9 871.5 357.9 869.8 357.9 868.2 357.9 866.5 357.9 864.8 357.9 863.1 357.9 861.4 357.9 859.7 357.9 858.0 357.9 856.4 357.9 854.7 357.9 853.0 357.9 851.3 357.9 849.6 357.9 847.8 357.9 846.1 357.9 844.4 357.9 842.7 357.9 841.0 357.9 839.3 358.0 837.6 358.0 835.9 358.0 834.2 358.0 832.5 358.0 830.8 358.0 829.1 358.0 827.4 358.0 825.7 358.0 824.0 358.0 822.4 358.0 820.7 358.0 819.0 358.0 817.3 358.0 815.7 358.0 814.0 358.0 812.3 358.1 810.7 358.1 809.0 358.1 807.4 358.1 805.7 358.1 804.1 358.1 802.5 358.1 800.9 358.1 799.3 358.1 797.7 358.1 796.1 358.1 794.5 358.1 792.9 358.1 791.4 358.1 789.8 358.1 788.2 358.1 786.7 358.2 785.2 358.2 783.7 358.2 782.2 358.2 780.7 358.2 779.2 358.2 777.7 358.2 776.2 358.2 774.8 358.2 773.4 358.2 771.9 358.2 770.5 358.2 769.1 358.2 767.7 358.2 766.4 358.2 765.0 358.2 763.7 358.2 762.4 358.3 761.1 358.3 759.8 358.3 758.5 358.3 757.2 358.3 756.0 358.3 754.7 358.3 753.5 358.3 752.3 358.3 751.2 358.3 750.0 358.3 747.8 358.3 745.7 358.3 743.6 358.3 741.6 358.3 739.6 358.3 737.6 358.4 735.7 358.4 733.8 358.4 731.9 358.4 730.1 358.4 728.3 358.4 726.6 358.4 724.9 358.4 723.2 358.4 721.6 358.5 719.9 358.5 718.3 358.5 716.8 358.5 715.2 358.5 713.7 358.5 712.2 358.5 710.7 358.6 709.3 358.6 707.8 358.6 706.4 358.6 705.0 358.6 703.6 358.6 702.3 358.6 700.9 358.6 699.6 358.7 698.2 358.7 696.9 358.7 695.6 358.7 694.3 358.7 693.0 358.7 691.7 358.7 690.4 358.7 689.2 358.8 687.9 358.8 686.6 358.8 685.3 358.8 684.0 358.8 682.8 358.8 681.5 358.8 680.2 358.8 678.9 358.8 677.6 358.8 676.3 358.8 675.0 358.9 673.6 358.9 672.3 358.9 670.9 358.9 669.6 358.9 668.2 358.9 666.8 358.9 665.4 358.9 663.9 358.9 662.5 358.9 661.0 358.9 659.5 358.9 658.0 358.9 656.4 358.9 654.9 358.9 653.3 358.9 651.7 358.9 650.0 358.9 648.6 358.9 647.2 358.9 645.8 358.9 644.4 358.9 643.0 358.9 641.5 358.9 640.1 358.9 638.6 358.8 637.1 358.8 635.6 358.8 634.1 358.8 632.6 358.8 631.1 358.8 629.6 358.8 628.1 358.8 626.5 358.7 625.0 358.7 623.4 358.7 621.8 358.7 620.3 358.7 618.7 358.7 617.1 358.6 615.5 358.6 613.9 358.6 612.3 358.6 610.8 358.6 609.1 358.5 607.5 358.5 605.9 358.5 604.3 358.5 602.7 358.5 601.1 358.4 599.5 358.4 597.9 358.4 596.3 358.4 594.7 358.4 593.0 358.3 591.4 358.3 589.8 358.3 588.2 358.3 586.6 358.3 585.0 358.2 583.4 358.2 581.8 358.2 580.2 358.2 578.6 358.2 577.0 358.1 575.4 358.1 573.9 358.1 572.3 358.1 570.7 358.1 569.2 358.1 567.6 358.0 566.1 358.0 564.6 358.0 563.0 358.0 561.5 358.0 560.0 358.0 558.5 358.0 557.0 357.9 555.6 357.9 554.1 357.9 552.6 357.9 551.2 357.9 549.8 357.9 548.3 357.9 546.9 357.9 545.5 357.9 544.2 357.9 542.8 357.9 541.4 357.9 540.1 357.9 538.8 357.9 537.5 357.9 536.2 357.9 534.9 357.9 533.7 357.9 532.4 357.9 531.2 357.9 530.0 357.9 528.0 357.9 526.0 357.9 524.1 358.0 522.1 358.0 520.3 358.0 518.4 358.1 516.6 358.1 514.9 358.1 513.1 358.2 511.4 358.2 509.7 358.3 508.1 358.3 506.4 358.4 504.8 358.4 503.2 358.5 501.7 358.6 500.2 358.6 498.6 358.7 497.1 358.7 495.7 358.8 494.2 358.9 492.8 358.9 491.3 359.0 489.9 359.1 488.5 359.1 487.1 359.2 485.8 359.3 484.4 359.3 483.0 359.4 481.7 359.5 480.3 359.6 479.0 359.6 477.7 359.7 476.3 359.7 475.0 359.8 473.7 359.9 472.4 359.9 471.1 360.0 469.7 360.0 468.4 360.1 467.1 360.1 465.7 360.2 464.4 360.2 463.1 360.3 461.7 360.3 460.3 360.4 459.0 360.4 457.3 360.4 455.7 360.5 454.1 360.5 452.5 360.5 451.0 360.6 449.4 360.6 447.9 360.6 446.4 360.7 444.9 360.7 443.5 360.7 442.0 360.7 440.6 360.7 439.1 360.8 437.7 360.8 436.3 360.8 434.9 360.8 433.5 360.8 432.1 360.8 430.7 360.8 429.2 360.8 427.8 360.9 426.4 360.9 425.0 360.9 423.5 360.9 422.1 360.9 420.6 360.9 419.2 360.9 417.7 360.9 416.2 360.9 414.7 361.0 413.1 361.0 411.6 361.0 410.0 361.0 408.4 361.0 406.8 361.0 405.1 361.0 403.4 361.1 401.7 361.1 400.0 361.1 398.6 361.1 397.3 361.1 395.9 361.2 394.5 361.2 393.0 361.2 391.6 361.2 390.1 361.2 388.6 361.3 387.0 361.3 385.5 361.3 383.9 361.3 382.3 361.3 380.7 361.4 379.1 361.4 377.5 361.4 375.9 361.4 374.2 361.5 372.6 361.5 370.9 361.5 369.3 361.5 367.6 361.6 366.0 361.6 364.3 361.6 362.6 361.6 361.0 361.7 359.3 361.7 357.7 361.7 356.0 361.7 354.4 361.7 352.7 361.8 351.1 361.8 349.5 361.8 347.9 361.8 346.3 361.9 344.7 361.9 343.2 361.9 341.7 361.9 340.1 361.9 338.6 361.9 337.2 362.0 335.7 362.0 334.3 362.0 332.9 362.0 331.5 362.0 330.2 362.0 328.9 362.1 327.6 362.1 326.3 362.1 325.1 362.1 323.9 362.1 322.8 362.1 321.7 362.1 319.3 362.1 317.1 362.1 315.1 362.1 313.2 362.1 311.5 362.1 309.8 362.1 308.3 362.1 306.8 362.1 305.5 362.1 304.2 362.1 302.9 362.1 301.7 362.0 300.5 362.0 299.4 362.0 298.2 362.0 297.0 361.9 295.8 361.9 294.5 361.8 293.2 361.8 291.8 361.8 290.3 361.7 288.7 361.7 287.0 361.6 285.7 361.6 284.3 361.5 282.9 361.4 281.4 361.4 279.9 361.3 278.4 361.2 276.9 361.2 275.3 361.1 273.7 361.0 272.1 360.9 270.5 360.8 268.9 360.7 267.3 360.6 265.6 360.6 264.0 360.5 262.4 360.4 260.8 360.3 259.1 360.2 257.5 360.1 256.0 360.0 254.4 360.0 252.8 359.9 251.3 359.8 249.8 359.8 248.3 359.7 246.9 359.6 245.5 359.6 244.1 359.6 242.8 359.5 241.5 359.5 239.6 359.5 237.7 359.5 235.9 359.4 234.1 359.4 232.5 359.5 230.8 359.5 229.2 359.5 227.7 359.5 226.1 359.6 224.7 359.6 223.2 359.7 221.8 359.8 220.3 359.8 218.9 359.9 217.5 360.0 216.1 360.0 214.7 360.1 213.3 360.2 211.9 360.3 210.2 360.4 208.4 360.6 206.6 360.7 204.8 360.9 203.0 361.1 201.2 361.3 199.5 361.5 197.7 361.7 196.1 361.9 194.5 362.0 193.0 362.2 191.6 362.4 190.3 362.6 189.2 362.7 188.2 362.8 187.3 362.9 A1.4 1.4 0 0 0 187.7 365.7 Z M1030.8 345.8 1031.7 345.5 1032.8 345.2 1034.0 344.7 1035.4 344.4 1037.0 344.1 1038.8 344.0 1041.0 344.1 1042.1 344.2 1043.4 344.5 1044.8 344.7 1046.3 345.1 1047.9 345.4 1049.5 345.8 1051.2 346.2 1052.9 346.7 1054.6 347.1 1056.3 347.6 1057.9 348.0 1059.5 348.5 1061.0 348.9 1062.4 349.3 1063.6 349.7 1065.5 350.4 1067.3 351.0 1069.0 351.6 1070.5 352.2 1072.0 352.7 1073.2 353.3 1074.3 354.0 1075.3 354.6 1076.1 355.2 1077.3 356.5 1077.9 357.7 1078.3 359.0 1078.4 360.5 1078.2 362.2 1078.0 363.4 1077.7 364.6 1077.3 365.9 1076.8 367.2 1076.2 368.5 1075.3 369.9 1074.2 371.4 1072.8 372.9 1072.1 373.7 1071.2 374.5 1070.2 375.4 1069.1 376.3 1067.9 377.2 1066.7 378.1 1065.5 379.1 1064.2 380.0 1062.8 381.0 1061.5 382.0 1060.1 382.9 1058.7 383.9 1057.4 384.8 1056.1 385.7 1054.7 386.6 1053.5 387.4 1052.1 388.3 1050.7 389.2 1049.2 390.2 1047.6 391.1 1046.0 392.1 1044.5 393.0 1042.9 393.9 1041.4 394.8 1039.9 395.7 1038.5 396.5 1037.2 397.3 1035.9 398.0 1034.9 398.6 1033.9 399.1 1033.1 399.6 A1.3 1.3 0 0 0 1034.5 401.8 L1034.5 401.8 1035.2 401.4 1036.2 400.8 1037.2 400.2 1038.4 399.5 1039.8 398.8 1041.2 397.9 1042.7 397.1 1044.2 396.2 1045.8 395.3 1047.4 394.3 1049.0 393.4 1050.5 392.4 1052.1 391.4 1053.5 390.5 1054.9 389.6 1056.2 388.7 1057.5 387.8 1058.9 386.9 1060.2 386.0 1061.6 385.0 1063.0 384.1 1064.3 383.1 1065.7 382.2 1067.0 381.2 1068.3 380.2 1069.5 379.3 1070.7 378.3 1071.8 377.4 1072.9 376.5 1073.9 375.6 1074.8 374.7 1076.2 373.0 1077.5 371.4 1078.5 369.8 1079.2 368.2 1079.8 366.7 1080.2 365.3 1080.5 363.9 1080.8 362.6 1081.0 360.6 1080.9 358.6 1080.3 356.7 1079.3 354.9 1077.9 353.4 1076.8 352.5 1075.7 351.7 1074.4 351.0 1073.0 350.4 1071.5 349.7 1069.9 349.1 1068.2 348.5 1066.3 347.9 1064.4 347.3 1063.1 346.9 1061.7 346.4 1060.2 346.0 1058.6 345.5 1057.0 345.1 1055.3 344.6 1053.6 344.1 1051.9 343.7 1050.2 343.3 1048.5 342.9 1046.9 342.5 1045.3 342.2 1043.8 341.9 1042.5 341.7 1041.2 341.5 1038.8 341.4 1036.7 341.5 1034.9 341.8 1033.3 342.3 1032.0 342.7 1031.0 343.0 1030.2 343.2 A1.3 1.3 0 0 0 1030.8 345.8 Z M1104.5 352.9 1104.8 351.4 1105.2 349.4 1105.8 347.9 1107.0 346.7 1108.3 345.8 1109.5 345.8 1109.9 346.1 1110.9 346.7 1111.9 347.5 1112.9 348.5 1113.8 349.6 1114.5 351.0 1114.8 351.8 1115.1 353.0 1115.4 354.3 1115.6 355.7 1115.7 357.3 1115.9 358.9 1116.1 360.5 1116.3 362.2 1116.7 363.9 1117.0 365.4 1117.3 366.8 1117.7 368.4 1118.0 370.0 1118.4 371.6 1118.8 373.2 1119.2 374.7 1119.7 376.2 1120.3 377.7 1121.0 379.1 1122.0 380.8 1123.3 382.4 1124.6 383.8 1125.9 385.0 1127.3 386.1 1128.6 387.1 1129.9 388.0 1131.6 389.0 1133.5 389.8 1135.4 390.4 1137.3 390.7 1139.2 390.7 1141.0 390.3 1142.8 389.5 1144.4 388.5 1145.8 387.3 1147.1 385.9 1148.1 384.1 1148.9 382.1 1149.6 380.1 1150.1 378.4 1150.4 377.2 A1.3 1.3 0 0 0 1148.0 376.4 L1148.0 376.4 1147.5 377.5 1146.9 379.2 1146.2 381.0 1145.4 382.7 1144.5 383.9 1143.6 384.8 1142.4 385.7 1141.2 386.3 1140.0 386.7 1138.8 386.9 1137.7 386.9 1136.4 386.6 1135.0 386.1 1133.6 385.4 1132.1 384.4 1131.1 383.7 1129.9 382.8 1128.8 381.8 1127.7 380.7 1126.7 379.5 1125.8 378.3 1125.0 376.9 1124.6 375.9 1124.1 374.7 1123.7 373.4 1123.3 372.0 1122.9 370.5 1122.6 369.0 1122.3 367.4 1122.0 365.9 1121.7 364.3 1121.3 362.9 1121.0 361.4 1120.7 359.9 1120.5 358.3 1120.2 356.7 1120.0 355.1 1119.7 353.5 1119.3 351.9 1118.9 350.5 1118.3 349.0 1117.2 347.3 1115.8 345.8 1114.4 344.5 1112.9 343.5 1111.5 342.7 1109.7 342.2 1107.0 342.6 1104.8 344.2 1103.2 346.1 1102.2 348.5 1101.7 350.9 1101.5 352.5 A1.5 1.5 0 0 0 1104.5 352.9 Z M1149.6 352.2 1148.6 351.8 1147.3 351.3 1145.6 350.7 1143.6 350.4 1141.6 350.4 1139.9 350.8 1138.2 351.4 1136.6 352.1 1134.9 353.0 1133.2 354.0 1131.4 355.1 1130.2 355.9 1129.0 356.6 1127.8 357.5 1126.5 358.4 1125.2 359.3 1123.9 360.3 1122.6 361.2 1121.3 362.2 1120.1 363.2 1118.8 364.2 1117.6 365.2 1116.4 366.3 1115.3 367.3 1114.1 368.4 1112.9 369.5 1111.8 370.6 1110.7 371.7 1109.6 372.7 1108.6 373.8 1107.6 374.8 1106.4 376.0 1105.2 377.2 1104.0 378.4 1102.9 379.7 1101.8 380.8 1100.8 382.0 1099.8 383.2 1098.9 384.4 1097.7 386.6 1096.7 388.7 1096.0 391.0 1096.1 393.9 1098.3 396.5 1100.7 397.5 1102.1 397.9 A2.5 2.5 0 0 0 1104.1 393.3 L1104.1 393.3 1103.0 392.6 1102.1 391.9 1102.3 391.9 1102.5 392.2 1102.8 391.2 1103.6 389.8 1104.7 388.0 1105.2 387.1 1105.9 386.1 1106.8 385.0 1107.7 383.8 1108.7 382.6 1109.8 381.4 1110.9 380.1 1112.0 378.8 1112.9 377.8 1113.9 376.7 1114.8 375.6 1115.8 374.5 1116.9 373.4 1117.9 372.3 1119.0 371.1 1120.0 370.1 1121.1 369.0 1122.2 368.0 1123.3 367.0 1124.4 365.9 1125.6 364.9 1126.8 363.9 1128.0 362.9 1129.2 361.9 1130.3 360.9 1131.5 360.1 1132.6 359.2 1133.6 358.5 1135.3 357.3 1136.8 356.2 1138.3 355.3 1139.7 354.6 1140.9 354.0 1142.0 353.6 1143.4 353.4 1144.9 353.6 1146.4 354.0 1147.8 354.4 1148.8 354.6 A1.3 1.3 0 0 0 1149.6 352.2 Z M474.6 392.9 473.7 393.1 472.5 393.5 471.1 393.9 469.5 394.4 467.8 395.0 466.0 395.6 464.3 396.2 462.7 396.9 461.1 397.6 459.5 398.3 457.9 399.1 456.2 400.0 454.6 400.9 453.1 401.7 451.7 402.6 450.4 403.5 448.7 404.9 447.2 406.4 445.9 408.0 444.9 409.7 444.5 411.8 444.9 413.9 445.8 415.7 447.1 417.4 448.6 418.9 450.4 420.3 451.7 421.1 453.2 421.9 454.7 422.5 456.3 423.2 458.0 423.8 459.5 424.4 461.1 425.0 462.5 425.6 464.2 426.3 466.0 427.1 467.8 427.8 469.6 428.6 471.2 429.3 472.5 429.8 473.5 430.2 A1.9 1.9 0 0 0 475.1 426.8 L475.1 426.8 474.1 426.3 472.8 425.6 471.3 424.8 469.6 424.0 467.8 423.1 466.0 422.2 464.3 421.4 462.8 420.7 461.2 420.1 459.6 419.5 458.0 418.9 456.5 418.3 455.2 417.7 454.0 417.1 453.0 416.5 451.6 415.4 450.4 414.3 449.5 413.3 449.0 412.4 448.9 411.8 449.0 411.2 449.4 410.3 450.3 409.2 451.5 408.0 453.0 406.7 454.0 405.8 455.2 405.0 456.6 404.1 458.0 403.2 459.6 402.3 461.1 401.5 462.7 400.7 464.1 399.9 465.6 399.3 467.2 398.6 468.8 398.0 470.5 397.4 472.0 396.8 473.5 396.3 474.6 395.9 475.6 395.5 A1.4 1.4 0 0 0 474.6 392.9 Z M443.9 408.2 444.9 408.5 446.3 408.8 447.9 409.2 449.6 409.6 451.4 410.0 453.2 410.4 454.7 410.7 456.1 411.0 457.3 411.4 458.7 411.7 460.6 411.8 463.4 411.9 464.6 411.9 465.9 411.8 467.3 411.7 468.7 411.7 470.3 411.6 471.9 411.5 473.6 411.4 475.3 411.3 477.0 411.1 478.8 411.0 480.5 410.9 482.3 410.7 484.0 410.6 485.6 410.5 487.2 410.3 488.7 410.2 490.4 410.0 492.1 409.9 493.8 409.7 495.5 409.5 497.2 409.3 498.9 409.1 500.5 408.9 502.1 408.7 503.6 408.5 505.1 408.3 506.6 408.1 508.0 407.9 509.3 407.7 510.5 407.6 512.8 407.2 515.0 406.8 516.9 406.5 518.6 406.2 520.1 405.9 521.3 405.6 522.3 405.4 A2.0 2.0 0 0 0 521.7 401.4 L521.7 401.4 520.7 401.5 519.5 401.6 518.0 401.8 516.2 402.0 514.3 402.2 512.2 402.4 509.9 402.6 508.6 402.8 507.3 402.9 506.0 403.1 504.5 403.3 503.0 403.5 501.5 403.6 499.9 403.8 498.3 404.0 496.6 404.2 495.0 404.4 493.3 404.5 491.6 404.7 489.9 404.9 488.3 405.0 486.8 405.1 485.2 405.3 483.6 405.4 481.9 405.5 480.1 405.7 478.4 405.8 476.7 405.9 474.9 406.1 473.2 406.2 471.6 406.3 470.0 406.4 468.4 406.5 467.0 406.6 465.6 406.6 464.4 406.7 463.4 406.7 460.7 406.8 459.2 406.8 458.2 406.7 457.0 406.5 455.3 406.3 453.8 406.2 452.1 406.0 450.3 405.8 448.5 405.6 446.9 405.4 445.5 405.3 444.5 405.2 A1.5 1.5 0 0 0 443.9 408.2 Z M501.8 390.4 502.7 391.1 503.8 391.9 505.2 393.0 506.7 394.1 508.3 395.2 509.8 396.4 511.2 397.4 512.5 398.4 514.1 399.4 515.7 400.3 517.1 401.0 518.1 401.7 518.8 402.3 519.2 402.7 519.5 403.6 519.6 404.8 519.5 406.0 519.1 407.0 518.6 407.8 518.2 408.1 517.4 408.6 516.3 409.0 514.9 409.4 513.4 409.8 511.7 410.2 509.8 410.5 508.6 410.8 507.1 411.0 505.5 411.2 503.7 411.5 501.9 411.7 500.2 411.9 498.5 412.0 496.9 412.2 495.5 412.3 494.3 412.5 493.3 412.6 A1.7 1.7 0 0 0 493.7 416.0 L493.7 416.0 494.6 415.9 495.8 415.9 497.2 415.8 498.8 415.7 500.5 415.6 502.3 415.5 504.1 415.4 505.9 415.2 507.6 415.0 509.2 414.9 510.6 414.7 512.5 414.3 514.3 414.0 516.0 413.6 517.7 413.2 519.2 412.7 520.6 411.9 522.0 410.8 523.2 409.0 523.9 406.9 524.1 404.7 523.8 402.6 523.0 400.7 521.9 399.2 520.5 398.2 519.1 397.4 517.6 396.6 516.2 395.9 514.7 395.0 513.4 394.2 511.9 393.3 510.3 392.2 508.7 391.2 507.1 390.2 505.7 389.3 504.5 388.5 503.6 388.0 A1.5 1.5 0 0 0 501.8 390.4 Z M483.6 430.9 483.5 431.9 483.4 433.1 483.2 434.6 483.1 436.2 482.9 437.9 482.7 439.7 482.5 441.5 482.2 443.3 482.0 444.7 481.8 446.1 481.6 447.7 481.4 449.2 481.2 450.8 481.0 452.3 480.7 453.8 480.4 455.3 480.1 456.7 479.7 458.0 479.2 459.5 478.6 461.1 477.8 462.7 477.0 464.2 476.2 465.7 475.5 467.2 475.0 468.6 474.7 470.3 475.1 473.2 477.4 475.3 480.0 475.7 481.6 475.7 483.1 475.4 484.7 475.0 486.4 474.4 488.1 473.8 489.8 473.0 491.3 472.1 492.8 471.1 494.2 470.0 495.7 468.8 497.0 467.5 498.3 466.0 499.5 464.5 500.4 462.9 501.2 461.0 501.8 459.0 502.2 457.0 502.5 454.9 502.7 452.9 502.6 451.1 502.1 449.2 500.5 447.1 498.0 446.0 495.3 445.8 492.7 446.5 491.0 447.5 489.5 448.9 488.0 450.4 486.6 451.9 485.4 453.4 484.3 454.6 483.6 455.5 A2.1 2.1 0 0 0 486.8 458.3 L486.8 458.3 487.6 457.5 488.6 456.2 489.9 454.8 491.2 453.3 492.5 452.0 493.6 451.0 494.3 450.5 495.7 450.1 497.0 450.2 497.8 450.5 498.3 451.2 498.3 451.6 498.4 452.9 498.3 454.5 498.0 456.2 497.6 458.0 497.1 459.6 496.6 460.9 495.9 462.1 495.0 463.3 493.9 464.5 492.8 465.6 491.5 466.7 490.3 467.7 489.1 468.5 487.8 469.2 486.4 469.8 485.0 470.4 483.5 470.8 482.2 471.2 481.0 471.4 480.4 471.5 479.1 471.3 479.0 471.3 478.9 470.3 479.1 469.9 479.5 468.9 480.1 467.6 480.8 466.2 481.7 464.6 482.5 462.8 483.2 461.0 483.9 459.2 484.2 457.7 484.6 456.2 484.9 454.6 485.2 453.0 485.4 451.4 485.6 449.8 485.8 448.2 486.0 446.7 486.2 445.2 486.4 443.7 486.5 441.9 486.6 440.1 486.7 438.2 486.8 436.4 486.8 434.8 486.8 433.3 486.8 432.0 486.8 431.1 A1.6 1.6 0 0 0 483.6 430.9 Z M860.9 41.1 861.2 39.9 861.8 38.8 862.5 38.0 863.9 36.8 865.2 36.1 866.5 35.9 867.7 36.1 869.3 36.8 870.0 37.3 871.0 38.1 872.0 39.0 873.1 40.0 874.1 41.2 875.0 42.4 875.7 43.6 876.4 44.9 877.1 46.3 877.8 47.8 878.5 49.4 879.1 51.0 879.8 52.7 880.2 54.0 880.7 55.4 881.2 56.9 881.6 58.5 882.1 60.0 882.5 61.6 882.9 63.1 883.3 64.6 883.7 65.9 884.2 67.7 884.7 69.3 885.2 70.8 885.6 72.3 886.1 73.8 886.7 75.3 887.4 76.8 888.1 78.5 888.8 80.0 889.6 81.5 890.4 82.8 891.6 84.2 894.6 85.4 897.4 83.9 898.5 82.0 899.3 79.8 899.9 77.8 900.3 76.4 A1.5 1.5 0 0 0 897.5 75.4 L897.5 75.4 897.0 76.8 896.2 78.7 895.5 80.5 895.0 81.3 894.6 81.7 894.0 81.0 893.9 80.6 893.3 79.6 892.7 78.2 892.0 76.7 891.4 75.2 890.9 73.7 890.5 72.3 890.1 71.0 889.7 69.6 889.4 68.0 889.0 66.3 888.5 64.5 888.1 63.2 887.7 61.8 887.3 60.3 886.9 58.7 886.4 57.1 886.0 55.5 885.5 53.9 885.0 52.4 884.4 50.9 883.7 49.2 883.0 47.4 882.2 45.8 881.3 44.2 880.5 42.6 879.6 41.2 878.6 39.8 877.4 38.3 876.2 37.0 874.9 35.8 873.6 34.8 872.3 33.9 870.9 33.2 868.6 32.4 866.3 32.3 864.2 32.7 862.0 33.6 860.0 34.9 858.2 36.6 857.6 39.3 857.9 41.1 A1.5 1.5 0 0 0 860.9 41.1 Z M900.1 33.0 898.1 32.1 895.1 32.0 893.4 33.0 892.2 34.1 891.1 35.4 889.9 36.8 888.6 38.5 887.8 39.6 886.9 40.8 886.0 42.1 885.1 43.4 884.1 44.8 883.2 46.3 882.2 47.7 881.2 49.1 880.2 50.5 879.3 51.8 878.4 53.1 877.4 54.4 876.5 55.7 875.5 57.0 874.5 58.3 873.5 59.7 872.5 61.0 871.5 62.3 870.5 63.6 869.6 64.9 868.6 66.3 867.6 67.6 866.6 69.0 865.6 70.3 864.6 71.7 863.6 73.0 862.7 74.3 861.8 75.6 860.9 76.8 859.9 78.3 858.8 79.8 857.8 81.3 856.9 82.7 856.0 84.1 855.1 85.5 854.4 86.7 853.7 88.1 852.8 90.8 852.6 93.4 853.3 95.9 854.9 98.0 857.3 99.5 860.4 99.8 862.5 98.5 863.9 97.0 865.1 95.4 866.1 94.0 866.7 93.1 A1.8 1.8 0 0 0 864.1 90.7 L864.1 90.7 863.2 91.5 862.0 92.7 860.7 93.9 859.6 94.8 859.6 94.8 859.4 94.6 859.0 94.0 858.7 93.3 858.7 93.1 858.9 92.4 859.7 90.5 860.1 89.7 860.7 88.6 861.3 87.4 862.1 86.1 863.0 84.7 863.9 83.2 864.9 81.7 865.9 80.2 866.7 79.0 867.5 77.7 868.4 76.4 869.3 75.0 870.3 73.7 871.2 72.3 872.2 70.9 873.2 69.5 874.1 68.1 875.1 66.8 876.0 65.4 876.9 64.0 877.8 62.6 878.7 61.2 879.6 59.9 880.5 58.5 881.4 57.1 882.3 55.7 883.1 54.4 884.0 53.1 884.9 51.6 885.9 50.1 886.8 48.6 887.7 47.2 888.6 45.7 889.5 44.4 890.3 43.1 891.1 41.9 891.8 40.9 893.0 39.2 894.1 37.7 895.0 36.6 895.7 35.7 895.9 35.4 897.6 35.3 898.9 35.8 A1.5 1.5 0 0 0 900.1 33.0 Z M920.3 66.8 919.1 66.7 917.1 66.6 915.0 67.3 913.6 68.2 912.3 69.3 911.0 70.6 909.8 72.1 908.7 73.5 907.7 75.1 906.8 76.8 906.0 78.6 905.3 80.4 904.8 82.3 904.6 84.1 904.6 86.0 904.8 87.9 905.1 89.7 905.6 91.3 906.5 93.2 907.6 94.9 909.0 96.4 910.7 97.6 912.6 98.3 914.7 98.7 916.8 98.7 918.8 98.3 920.4 97.7 922.0 96.7 923.4 95.6 924.7 94.3 925.8 92.9 926.7 91.2 927.3 89.4 927.8 87.6 928.1 85.8 928.3 84.0 928.3 82.3 928.2 80.5 928.0 78.7 927.7 77.1 927.3 75.5 926.7 73.6 925.9 71.8 925.1 70.3 924.1 68.8 922.2 67.4 920.8 66.9 A1.0 1.0 0 0 0 919.8 68.7 L919.8 68.7 920.7 69.4 921.9 70.8 922.3 71.7 922.9 73.1 923.5 74.7 923.9 76.3 924.1 77.7 924.3 79.2 924.4 80.7 924.4 82.3 924.3 83.8 924.2 85.3 924.0 86.9 923.7 88.4 923.3 89.8 922.8 90.9 922.0 91.9 921.0 92.9 919.9 93.8 918.8 94.4 917.8 94.9 916.4 95.1 915.0 95.1 913.6 94.9 912.5 94.4 911.6 93.7 910.8 92.6 910.1 91.3 909.6 89.9 909.2 88.7 909.0 87.3 908.8 85.8 908.8 84.4 909.0 82.9 909.2 81.5 909.7 80.0 910.3 78.4 911.0 76.9 911.7 75.5 912.5 74.1 913.5 72.7 914.5 71.5 915.5 70.4 916.2 69.7 917.6 69.1 919.1 68.9 920.3 68.8 A1.0 1.0 0 0 0 920.3 66.8 Z M941.7 56.0 942.7 55.8 944.1 55.5 945.7 55.2 947.5 54.9 949.4 54.6 951.2 54.4 952.8 54.2 954.4 54.0 956.0 53.9 957.6 53.8 959.2 53.7 960.8 53.6 962.3 53.6 963.8 53.6 965.4 53.6 967.2 53.7 968.9 53.8 970.4 53.9 971.7 54.0 972.7 54.0 A1.1 1.1 0 0 0 973.1 51.8 L973.1 51.8 972.2 51.5 970.9 51.1 969.4 50.7 967.6 50.3 965.8 49.9 964.0 49.6 962.5 49.5 960.9 49.4 959.2 49.3 957.5 49.3 955.8 49.3 954.1 49.3 952.4 49.4 950.6 49.6 948.7 49.8 946.8 50.0 945.0 50.3 943.3 50.5 941.9 50.7 940.9 50.8 A2.6 2.6 0 0 0 941.7 56.0 Z M945.8 71.5 947.0 71.2 948.7 70.8 950.7 70.4 952.9 70.0 954.2 69.8 955.7 69.6 957.3 69.3 958.9 69.1 960.6 68.8 962.3 68.6 964.1 68.3 965.5 68.1 967.1 67.9 968.9 67.6 970.6 67.4 972.3 67.2 973.9 67.0 975.4 66.8 976.6 66.6 977.5 66.4 A0.9 0.9 0 0 0 977.3 64.6 L977.3 64.6 976.4 64.6 975.2 64.6 973.7 64.6 972.1 64.6 970.4 64.7 968.6 64.7 966.9 64.8 965.2 64.8 963.7 64.9 962.0 65.0 960.2 65.1 958.5 65.2 956.8 65.3 955.2 65.4 953.7 65.5 952.3 65.6 950.0 65.8 947.9 66.0 946.2 66.2 945.0 66.3 A2.6 2.6 0 0 0 945.8 71.5 Z M1009.5 46.0 1008.8 46.7 1007.7 47.6 1006.4 48.7 1005.1 49.9 1003.7 51.2 1002.4 52.5 1001.2 53.7 1000.2 55.1 999.2 56.5 998.2 57.9 997.4 59.4 996.7 60.8 996.1 62.4 995.6 64.2 995.3 66.1 995.2 68.0 995.3 69.9 995.6 71.7 996.3 73.8 997.4 75.8 998.8 77.5 1000.5 79.0 1002.2 80.0 1004.0 80.9 1005.9 81.6 1007.8 82.1 1009.8 82.4 1011.7 82.5 1013.6 82.3 1015.5 81.9 1017.3 81.3 1019.0 80.6 1020.6 79.7 1022.1 78.6 1023.4 77.3 1024.7 75.8 1025.8 74.2 1026.6 72.9 1027.3 71.5 1028.0 70.0 1028.6 68.4 1029.2 66.8 1029.7 65.1 1030.1 63.5 1030.3 61.9 1030.6 60.2 1030.7 58.5 1030.8 56.8 1030.7 55.2 1030.7 53.5 1030.5 51.9 1030.2 50.3 1029.9 48.6 1029.5 46.9 1029.0 45.3 1028.5 43.8 1027.8 42.3 1027.0 41.0 1025.7 39.5 1024.3 38.4 1022.7 37.6 1021.1 36.9 1019.5 36.5 1017.9 36.1 1016.1 35.9 1014.3 35.8 1012.6 35.8 1010.9 36.0 1009.2 36.4 1007.4 37.0 1005.8 37.6 1004.4 38.2 1003.2 38.9 1002.0 40.2 1001.8 41.4 A1.2 1.2 0 0 0 1004.2 41.6 L1004.2 41.6 1004.2 41.6 1004.8 41.1 1005.6 40.8 1006.9 40.3 1008.4 39.7 1009.9 39.3 1011.3 39.0 1012.8 38.9 1014.3 38.9 1015.8 39.0 1017.3 39.2 1018.7 39.5 1020.0 40.0 1021.3 40.6 1022.4 41.2 1023.4 42.0 1024.2 43.0 1024.7 43.9 1025.1 45.1 1025.6 46.4 1026.0 47.8 1026.3 49.3 1026.5 50.9 1026.7 52.3 1026.8 53.8 1026.9 55.2 1026.9 56.8 1026.8 58.3 1026.6 59.8 1026.4 61.3 1026.1 62.7 1025.8 64.1 1025.4 65.5 1024.9 67.0 1024.3 68.4 1023.7 69.7 1023.1 70.9 1022.4 72.0 1021.5 73.3 1020.5 74.4 1019.4 75.4 1018.3 76.2 1017.2 76.8 1015.9 77.3 1014.5 77.7 1013.0 78.0 1011.6 78.0 1010.2 78.0 1008.8 77.7 1007.3 77.2 1005.9 76.6 1004.5 75.9 1003.5 75.2 1002.4 74.2 1001.5 73.0 1000.9 71.8 1000.4 70.5 1000.2 69.4 1000.2 68.1 1000.3 66.7 1000.5 65.3 1000.9 63.8 1001.3 62.7 1001.8 61.5 1002.4 60.3 1003.1 59.0 1003.9 57.8 1004.8 56.5 1005.6 55.3 1006.7 54.0 1007.8 52.6 1009.0 51.3 1010.1 50.0 1011.0 49.0 1011.7 48.2 A1.5 1.5 0 0 0 1009.5 46.0 Z M1056.7 55.6 1056.6 56.6 1056.5 57.9 1056.4 59.5 1056.3 61.3 1056.2 63.2 1056.2 65.2 1056.3 66.8 1056.3 68.6 1056.4 70.6 1056.5 72.7 1056.6 74.6 1056.7 76.3 1056.9 77.8 1057.8 79.7 1061.4 79.3 1062.3 77.3 1063.1 75.0 1063.9 72.9 1064.5 71.7 1065.2 70.3 1065.9 68.8 1066.6 67.3 1067.4 65.8 1068.1 64.3 1068.9 63.0 1069.7 61.5 1070.6 60.0 1071.5 58.6 1072.4 57.2 1073.2 56.1 1073.8 55.3 1074.4 54.4 1072.8 54.2 1072.8 54.7 1073.1 56.2 1073.2 58.1 1073.3 60.1 1073.2 61.5 1073.0 63.2 1072.7 65.0 1072.4 66.8 1072.2 68.6 1072.1 70.1 1072.2 73.3 1074.0 75.9 1076.7 76.5 1078.9 76.1 1081.2 75.2 1082.6 74.4 1084.0 73.5 1085.4 72.6 1086.8 71.6 1088.1 70.7 1089.4 69.9 1090.8 69.1 1092.3 68.2 1093.7 67.5 1095.0 66.9 1095.8 66.5 1096.8 66.2 1096.9 66.3 1097.2 67.2 1097.8 69.1 1098.7 71.1 1100.3 73.3 1102.6 74.8 1104.9 75.2 1106.9 75.1 1108.6 75.0 1110.9 74.5 1112.6 74.1 A1.5 1.5 0 0 0 1112.2 71.1 L1112.2 71.1 1110.5 71.2 1108.2 71.2 1106.6 71.4 1105.0 71.4 1104.2 71.4 1103.0 70.5 1101.9 69.1 1101.4 67.8 1100.8 65.8 1099.7 63.9 1097.4 62.4 1094.8 62.7 1093.4 63.2 1091.9 63.8 1090.4 64.6 1088.8 65.4 1087.2 66.3 1085.9 67.1 1084.4 68.0 1083.0 68.9 1081.6 69.8 1080.4 70.6 1079.4 71.0 1077.6 71.8 1076.4 72.0 1076.6 72.3 1076.6 72.2 1076.5 70.1 1076.6 68.9 1076.7 67.4 1076.9 65.6 1077.1 63.7 1077.3 61.8 1077.3 60.1 1077.2 57.8 1076.9 55.6 1076.5 53.8 1075.8 52.0 1072.7 51.0 1070.8 52.9 1070.1 53.9 1069.2 55.1 1068.3 56.5 1067.4 58.0 1066.4 59.6 1065.5 61.2 1064.8 62.6 1064.0 64.1 1063.2 65.6 1062.5 67.2 1061.8 68.6 1061.1 70.0 1060.5 71.3 1059.4 73.6 1058.6 75.8 1058.2 76.7 1060.6 76.5 1061.0 76.9 1060.8 75.9 1060.7 74.3 1060.6 72.5 1060.4 70.5 1060.4 68.5 1060.3 66.6 1060.2 65.0 1060.1 63.2 1060.0 61.3 1059.9 59.6 1059.8 58.0 1059.8 56.6 1059.7 55.6 A1.5 1.5 0 0 0 1056.7 55.6 Z M868.4 136.5 868.8 137.5 869.2 138.8 869.8 140.4 870.5 142.3 871.2 144.2 871.7 145.5 872.2 146.9 872.8 148.3 873.4 149.9 874.0 151.4 874.6 153.0 875.2 154.5 875.8 156.0 876.5 157.6 877.2 159.3 877.9 160.9 878.6 162.5 879.3 164.1 880.0 165.5 880.6 166.8 882.0 169.2 883.4 171.2 885.6 172.6 888.4 171.8 889.9 169.9 890.8 167.6 891.3 166.3 891.6 165.0 892.0 163.6 892.3 162.0 892.7 160.4 893.0 158.8 893.4 157.1 893.8 155.5 894.1 154.0 894.4 152.5 894.7 150.9 895.0 149.3 895.4 147.7 895.7 146.1 896.0 144.5 896.3 143.0 896.7 141.5 897.0 139.9 897.4 138.2 897.8 136.5 898.2 134.9 898.5 133.4 898.9 132.0 899.2 130.8 899.4 129.9 899.9 128.0 897.6 128.0 897.6 128.7 897.7 130.4 897.7 132.5 897.7 134.5 897.7 136.4 897.8 137.6 A1.2 1.2 0 0 0 900.2 137.6 L900.2 137.6 900.3 136.4 900.4 134.6 900.4 132.5 900.5 130.4 900.5 128.7 900.4 127.2 897.2 126.3 896.2 128.9 895.9 129.9 895.5 131.1 895.2 132.5 894.8 134.1 894.4 135.7 893.9 137.4 893.5 139.1 893.1 140.7 892.8 142.2 892.5 143.7 892.1 145.3 891.8 146.9 891.4 148.5 891.1 150.1 890.7 151.7 890.4 153.2 890.0 154.7 889.7 156.3 889.3 158.0 888.9 159.6 888.5 161.2 888.2 162.6 887.8 164.0 887.5 165.1 887.2 166.0 886.2 167.9 885.8 168.4 886.6 168.2 886.7 168.1 885.8 166.8 884.6 164.6 884.0 163.5 883.4 162.2 882.7 160.7 882.0 159.1 881.4 157.5 880.7 155.9 880.0 154.2 879.4 152.8 878.7 151.3 878.1 149.8 877.5 148.2 876.9 146.7 876.3 145.3 875.7 143.9 875.2 142.6 874.4 140.7 873.7 139.0 873.1 137.4 872.6 136.1 872.2 135.1 A2.0 2.0 0 0 0 868.4 136.5 Z M908.6 156.1 907.7 156.9 906.4 158.1 905.1 159.6 903.8 161.4 903.1 163.0 902.4 164.7 901.8 166.5 901.3 168.4 901.0 170.2 900.9 172.1 901.0 174.1 901.3 176.0 901.6 177.8 902.2 179.6 903.6 181.7 905.6 183.3 907.7 184.2 909.7 184.4 911.6 184.2 913.5 183.6 915.3 182.7 916.7 181.7 918.0 180.5 919.2 179.1 920.3 177.6 921.3 176.1 922.2 174.4 922.9 172.7 923.6 170.8 924.1 168.9 924.4 167.0 924.4 165.1 924.2 163.1 923.9 161.2 923.4 159.5 922.8 157.9 921.5 155.9 919.8 154.5 917.9 153.6 915.7 154.3 914.6 155.4 A1.2 1.2 0 0 0 916.2 157.2 L916.2 157.2 917.0 156.7 917.5 156.6 917.9 157.0 918.9 158.0 919.6 159.5 919.9 160.5 920.2 162.0 920.4 163.6 920.5 165.1 920.4 166.6 920.1 168.0 919.7 169.6 919.1 171.1 918.4 172.6 917.7 173.9 916.9 175.2 916.0 176.4 915.0 177.5 914.0 178.4 913.1 179.1 911.9 179.7 910.8 180.0 909.7 180.1 908.9 180.0 907.8 179.6 906.9 178.8 906.2 177.6 905.8 176.7 905.5 175.3 905.3 173.7 905.2 172.1 905.2 170.6 905.3 169.1 905.6 167.5 906.0 165.9 906.5 164.3 907.0 163.0 907.7 161.5 908.7 160.0 909.7 158.7 910.4 157.7 A1.2 1.2 0 0 0 908.6 156.1 Z M949.1 149.8 950.1 149.5 951.4 149.2 952.9 148.8 954.6 148.4 956.4 148.0 958.3 147.7 960.3 147.3 961.7 147.1 963.3 146.9 965.0 146.7 966.8 146.5 968.7 146.3 970.5 146.2 972.3 146.0 973.9 145.8 975.4 145.7 976.6 145.5 977.6 145.4 A1.0 1.0 0 0 0 977.4 143.4 L977.4 143.4 976.5 143.4 975.2 143.4 973.8 143.4 972.1 143.4 970.3 143.5 968.5 143.5 966.6 143.6 964.8 143.6 963.0 143.7 961.4 143.8 959.9 143.9 957.8 144.1 955.8 144.4 953.8 144.7 952.1 145.0 950.5 145.3 949.3 145.5 948.3 145.6 A2.1 2.1 0 0 0 949.1 149.8 Z M959.0 161.2 960.0 161.0 961.5 160.7 963.3 160.4 965.2 160.1 967.1 159.8 968.6 159.4 970.2 159.1 971.8 158.7 973.4 158.3 975.2 157.9 977.0 157.6 978.6 157.3 980.4 157.0 982.3 156.8 984.2 156.5 986.1 156.2 987.8 156.0 989.2 155.8 990.3 155.6 A0.9 0.9 0 0 0 990.1 153.8 L990.1 153.8 989.0 153.8 987.6 153.9 985.9 154.0 984.0 154.1 982.0 154.2 980.1 154.4 978.2 154.5 976.6 154.6 974.7 154.8 972.9 155.0 971.2 155.3 969.5 155.5 968.0 155.7 966.5 155.8 964.7 156.0 962.8 156.2 961.0 156.3 959.5 156.4 958.4 156.4 A2.4 2.4 0 0 0 959.0 161.2 Z M1016.3 139.5 1016.6 138.1 1016.9 136.1 1017.2 134.2 1017.1 133.9 1017.9 133.9 1019.4 134.9 1020.1 135.7 1020.7 137.0 1021.4 139.3 1021.6 140.4 1021.8 141.8 1022.0 143.4 1022.2 145.0 1022.4 146.7 1022.5 148.4 1022.5 149.9 1022.5 151.3 1022.3 153.1 1022.1 154.8 1021.8 156.5 1021.3 158.0 1020.8 159.2 1020.3 160.2 1019.5 161.1 1018.5 161.8 1017.3 162.3 1016.0 162.7 1014.7 163.0 1013.5 163.1 1012.1 163.0 1010.9 162.8 1009.8 162.5 1008.9 162.0 1008.1 161.2 1007.3 160.2 1006.6 158.9 1006.0 157.5 1005.7 155.9 1005.5 154.8 1005.4 153.4 1005.5 151.9 1005.6 150.3 1005.9 148.7 1006.2 147.2 1006.5 145.8 1007.1 144.3 1007.8 142.8 1008.6 141.4 1009.5 140.0 1010.5 138.7 1011.3 137.7 1012.7 136.4 1014.3 135.4 1015.8 134.5 1017.0 133.8 A1.5 1.5 0 0 0 1015.6 131.2 L1015.6 131.2 1014.5 131.6 1012.7 132.3 1010.6 133.4 1008.7 134.9 1007.5 136.2 1006.3 137.6 1005.2 139.1 1004.1 140.7 1003.1 142.5 1002.3 144.4 1001.7 146.0 1001.3 147.8 1001.0 149.6 1000.7 151.5 1000.6 153.3 1000.6 155.1 1000.7 156.9 1001.3 159.0 1002.2 161.1 1003.3 162.9 1004.6 164.5 1006.1 165.8 1007.9 166.8 1009.8 167.4 1011.8 167.6 1013.7 167.6 1015.5 167.4 1017.2 167.0 1019.0 166.4 1020.7 165.5 1022.4 164.2 1023.7 162.6 1024.6 161.0 1025.3 159.3 1025.8 157.4 1026.1 155.5 1026.4 153.5 1026.5 151.5 1026.5 149.9 1026.4 148.2 1026.3 146.4 1026.1 144.6 1025.9 142.8 1025.6 141.2 1025.3 139.7 1025.0 138.3 1024.2 135.6 1023.1 133.6 1021.6 132.1 1018.7 130.6 1015.5 131.1 1014.3 133.5 1014.0 135.7 1013.9 137.8 1013.9 139.3 A1.2 1.2 0 0 0 1016.3 139.5 Z M1038.7 148.3 1038.7 149.6 1038.7 151.5 1038.7 153.5 1038.8 155.3 1038.9 157.5 1039.2 159.9 1041.2 162.2 1043.9 161.9 1045.7 160.8 1047.4 159.5 1049.1 158.0 1050.2 157.0 1051.3 155.9 1052.4 154.7 1053.6 153.4 1054.7 152.3 1055.7 151.2 1056.6 150.3 1058.2 148.9 1059.4 147.7 1060.2 147.1 1059.3 147.0 1058.9 146.7 1059.1 147.9 1059.3 149.7 1059.4 151.5 1059.4 152.9 1059.1 154.7 1058.9 156.6 1058.9 158.6 1060.6 161.0 1063.4 160.7 1064.9 159.6 1066.4 158.2 1067.8 156.7 1069.2 155.4 1070.5 154.1 1071.9 152.6 1073.2 151.2 1074.3 150.0 1075.0 149.4 1076.1 148.8 1076.4 149.2 1076.4 149.5 1076.9 150.8 1077.3 152.5 1077.8 154.2 1078.3 155.8 1079.1 157.9 1080.0 159.9 1081.4 161.9 1084.2 163.0 1086.3 163.1 A1.8 1.8 0 0 0 1086.9 159.7 L1086.9 159.7 1085.5 159.2 1084.2 158.3 1083.8 157.7 1083.1 156.2 1082.3 154.4 1081.8 153.0 1081.4 151.4 1080.9 149.6 1080.3 147.8 1079.2 146.0 1076.1 144.6 1073.0 145.8 1071.5 146.9 1070.1 148.3 1068.8 149.7 1067.5 151.2 1066.2 152.4 1064.9 153.7 1063.4 155.0 1062.1 156.2 1061.3 156.7 1062.4 156.8 1063.3 157.8 1063.3 156.9 1063.4 155.1 1063.6 153.1 1063.6 151.3 1063.4 149.3 1063.2 147.2 1062.8 145.2 1061.1 143.2 1058.4 143.3 1056.7 144.5 1055.3 145.8 1053.8 147.3 1052.8 148.2 1051.7 149.3 1050.5 150.6 1049.4 151.8 1048.3 152.9 1047.2 154.0 1046.3 154.8 1044.7 156.1 1043.2 157.3 1042.2 157.8 1042.8 158.0 1043.3 158.4 1043.1 157.0 1042.8 154.9 1042.5 153.2 1042.2 151.2 1041.9 149.4 1041.7 148.1 A1.5 1.5 0 0 0 1038.7 148.3 Z M1110.4 121.1 1110.2 122.1 1110.0 123.5 1109.6 125.1 1109.0 127.0 1108.5 128.1 1108.0 129.3 1107.3 130.6 1106.7 132.1 1105.9 133.5 1105.2 135.0 1104.4 136.5 1103.7 138.0 1103.0 139.3 1102.3 140.6 1101.6 142.0 1100.8 143.4 1100.0 144.8 1099.2 146.2 1098.5 147.6 1097.8 149.0 1097.1 150.5 1096.3 152.0 1095.5 153.6 1094.8 155.1 1094.1 156.7 1093.3 158.3 1092.7 159.9 1092.0 161.5 1091.5 163.1 1091.0 164.7 1090.5 166.4 1090.0 168.1 1089.6 169.8 1089.2 171.5 1088.9 173.1 1088.7 174.8 1088.6 176.4 1088.8 178.5 1089.1 180.5 1089.6 182.5 1090.3 184.2 1091.1 185.8 1092.5 187.5 1095.5 188.4 1098.3 187.4 1100.4 185.8 1101.6 184.7 1102.7 183.4 1103.8 182.0 1104.9 180.5 1105.9 178.9 1106.9 177.3 1107.7 175.8 1108.5 174.2 1109.3 172.4 1110.0 170.7 1110.6 169.2 1111.2 167.9 1111.5 166.9 A1.2 1.2 0 0 0 1109.3 165.9 L1109.3 165.9 1108.8 166.8 1108.1 168.0 1107.3 169.5 1106.5 171.1 1105.6 172.7 1104.8 174.2 1103.9 175.5 1102.9 176.8 1101.8 178.2 1100.7 179.5 1099.6 180.6 1098.6 181.6 1097.8 182.2 1096.2 183.1 1095.6 183.2 1095.7 182.9 1095.9 182.9 1095.5 182.1 1095.1 180.8 1094.8 179.4 1094.6 177.9 1094.6 176.4 1094.6 175.2 1094.7 173.9 1094.9 172.5 1095.2 171.0 1095.5 169.4 1095.9 167.8 1096.3 166.3 1096.7 164.7 1097.1 163.2 1097.6 161.7 1098.1 160.1 1098.7 158.6 1099.3 157.1 1099.9 155.5 1100.5 153.9 1101.1 152.3 1101.7 150.9 1102.4 149.5 1103.1 148.1 1103.7 146.7 1104.4 145.3 1105.1 143.8 1105.8 142.4 1106.5 141.0 1107.1 139.6 1107.8 138.1 1108.5 136.5 1109.1 135.0 1109.8 133.4 1110.4 132.0 1110.9 130.6 1111.4 129.2 1111.8 128.0 1112.4 125.8 1112.7 123.9 1112.8 122.5 1112.8 121.5 A1.2 1.2 0 0 0 1110.4 121.1 Z M1136.8 143.4 1135.8 143.2 1134.3 143.0 1132.4 142.9 1130.2 143.0 1128.7 143.3 1127.2 143.6 1125.6 144.1 1123.9 144.5 1122.3 145.0 1120.8 145.6 1119.4 146.2 1117.4 147.3 1115.6 148.7 1114.2 150.1 1113.2 152.1 1113.3 154.6 1114.7 156.8 1116.9 158.2 1118.6 158.9 1120.4 159.4 1122.3 159.8 1124.2 160.2 1125.9 160.6 1127.2 161.0 1129.1 161.7 1130.6 162.5 1131.7 163.2 1132.3 163.8 1132.7 164.7 1132.9 165.9 1132.9 167.2 1132.7 168.0 1132.2 169.0 1131.2 169.8 1129.6 170.6 1128.4 171.0 1126.8 171.4 1125.0 171.7 1123.3 171.9 1122.0 171.9 1120.4 171.7 1118.7 171.1 1117.2 170.5 1116.1 170.1 A1.5 1.5 0 0 0 1114.7 172.7 L1114.7 172.7 1115.7 173.4 1117.3 174.3 1119.2 175.3 1121.4 175.9 1123.4 176.0 1125.5 175.9 1127.6 175.7 1129.5 175.3 1131.4 174.8 1133.7 173.6 1135.6 171.9 1136.9 169.8 1137.4 167.7 1137.4 165.6 1137.0 163.4 1136.1 161.4 1134.6 159.7 1132.8 158.6 1130.9 157.6 1128.8 156.8 1127.0 156.3 1125.1 155.9 1123.1 155.5 1121.3 155.2 1119.8 154.8 1118.9 154.6 1117.7 153.7 1117.5 153.3 1117.6 153.1 1117.8 152.9 1118.6 152.0 1119.8 151.1 1121.4 150.2 1122.5 149.7 1123.8 149.2 1125.2 148.7 1126.8 148.2 1128.3 147.8 1129.7 147.4 1130.8 147.2 1132.6 146.9 1134.1 146.8 1135.5 146.9 1136.6 146.8 A1.8 1.8 0 0 0 1136.8 143.4 Z M549.4 373.0 550.8 372.7 552.8 372.2 554.7 371.6 556.6 370.7 558.2 369.9 559.9 369.0 561.2 368.2 A1.2 1.2 0 0 0 560.2 366.0 L560.2 366.0 558.7 366.4 556.8 367.1 555.2 367.9 553.5 368.6 551.9 369.1 550.0 369.6 548.6 370.0 A1.6 1.6 0 0 0 549.4 373.0 Z M643.4 374.5 644.8 374.2 646.8 373.6 648.6 373.1 650.0 372.7 651.0 372.3 652.2 371.8 653.1 371.3 A1.2 1.2 0 0 0 652.3 368.9 L652.3 368.9 651.3 369.0 650.0 369.3 649.0 369.6 647.6 370.1 646.0 370.5 644.0 371.1 642.6 371.5 A1.6 1.6 0 0 0 643.4 374.5 Z M828.3 380.4 829.5 380.3 831.4 380.0 833.3 379.7 835.2 379.2 837.1 378.5 838.4 378.1 A1.0 1.0 0 0 0 837.8 376.1 L837.8 376.1 836.5 376.4 834.6 376.9 832.7 377.3 831.0 377.6 829.2 377.8 827.9 378.0 A1.2 1.2 0 0 0 828.3 380.4 Z"/>
<path fill="#db4834" d="M357.3 109.9 358.2 109.8 359.2 109.7 360.4 109.5 361.7 109.3 363.2 109.1 364.7 108.9 366.3 108.7 368.0 108.5 369.8 108.2 371.6 108.0 373.4 107.8 375.2 107.6 377.0 107.3 378.7 107.1 380.5 106.9 382.1 106.8 383.7 106.6 385.3 106.4 386.8 106.3 388.4 106.2 390.0 106.0 391.5 105.9 393.1 105.8 394.7 105.7 396.2 105.6 397.8 105.4 399.4 105.3 401.0 105.3 402.5 105.2 404.1 105.1 405.7 105.0 407.2 104.9 408.8 104.8 410.4 104.7 412.0 104.7 413.6 104.6 415.2 104.6 416.9 104.5 418.5 104.4 420.2 104.4 421.9 104.3 423.5 104.3 425.2 104.3 426.8 104.2 428.4 104.2 429.9 104.2 431.4 104.2 432.9 104.2 434.3 104.2 435.6 104.2 436.9 104.2 439.0 104.3 441.0 104.5 442.9 104.7 444.7 104.9 446.4 105.1 448.0 105.4 449.4 105.6 450.7 105.8 451.9 106.0 452.8 106.1 A2.0 2.0 0 0 0 453.4 102.1 L453.4 102.1 452.5 102.0 451.4 101.8 450.1 101.6 448.7 101.3 447.0 101.0 445.3 100.8 443.4 100.5 441.4 100.3 439.3 100.1 437.1 100.0 435.8 99.9 434.4 99.9 432.9 99.8 431.5 99.8 429.9 99.8 428.3 99.8 426.7 99.8 425.1 99.9 423.4 99.9 421.8 99.9 420.1 100.0 418.4 100.0 416.7 100.0 415.1 100.1 413.4 100.1 411.8 100.2 410.2 100.3 408.6 100.3 407.1 100.3 405.5 100.4 403.9 100.5 402.3 100.5 400.7 100.6 399.1 100.6 397.5 100.7 396.0 100.8 394.4 100.9 392.8 101.0 391.2 101.1 389.6 101.2 388.0 101.3 386.4 101.4 384.9 101.5 383.3 101.6 381.7 101.7 380.0 101.9 378.2 102.1 376.4 102.2 374.6 102.4 372.8 102.6 370.9 102.8 369.1 103.0 367.4 103.2 365.7 103.4 364.0 103.6 362.5 103.8 361.1 104.0 359.7 104.1 358.6 104.3 357.5 104.4 356.7 104.5 A2.8 2.8 0 0 0 357.3 109.9 Z M425.5 77.5 426.4 78.1 427.7 78.9 429.3 79.9 431.3 80.9 433.6 82.0 434.8 82.4 436.2 82.9 437.6 83.4 439.2 83.8 440.8 84.3 442.4 84.8 444.0 85.3 445.6 85.8 447.0 86.3 448.4 86.8 449.7 87.3 451.5 88.0 453.3 88.7 455.0 89.5 456.5 90.2 457.8 90.9 458.9 91.6 459.7 92.2 460.9 93.5 461.6 94.7 461.9 95.9 461.8 97.2 461.6 98.1 461.0 99.2 460.3 100.4 459.3 101.6 458.3 102.8 457.0 104.0 456.1 104.8 455.1 105.6 453.9 106.4 452.7 107.1 451.3 107.9 449.9 108.7 448.4 109.6 446.7 110.4 445.5 111.2 444.0 111.9 442.4 112.8 440.7 113.6 439.0 114.5 437.4 115.4 435.8 116.2 434.3 116.9 432.9 117.6 431.8 118.2 430.9 118.6 A1.8 1.8 0 0 0 432.5 121.8 L432.5 121.8 433.4 121.4 434.5 120.8 435.8 120.2 437.4 119.5 439.0 118.7 440.7 117.9 442.5 117.1 444.2 116.2 445.8 115.4 447.3 114.7 448.7 114.0 450.3 113.1 451.8 112.2 453.3 111.4 454.7 110.6 456.1 109.7 457.4 108.9 458.6 108.0 459.8 107.0 461.1 105.6 462.4 104.1 463.6 102.6 464.6 101.1 465.3 99.5 465.8 97.8 465.9 95.5 465.3 93.2 464.1 91.2 462.5 89.4 461.2 88.3 459.8 87.4 458.3 86.6 456.6 85.8 454.9 85.1 453.0 84.3 451.1 83.5 449.8 83.0 448.3 82.5 446.8 82.0 445.2 81.5 443.6 81.0 442.0 80.5 440.4 80.0 438.9 79.5 437.4 79.1 436.1 78.6 435.0 78.2 432.8 77.4 431.0 76.6 429.4 75.8 428.1 75.2 427.1 74.7 A1.6 1.6 0 0 0 425.5 77.5 Z M427.6 78.3 428.1 79.0 428.8 79.9 429.6 81.0 430.5 82.3 431.5 83.6 432.5 85.0 433.5 86.4 434.6 87.8 435.6 89.1 436.6 90.3 437.7 91.7 439.0 93.1 440.3 94.5 441.6 95.9 442.8 97.3 444.0 98.5 445.1 99.7 446.0 100.6 446.6 101.3 A0.5 0.5 0 0 0 447.4 100.7 L447.4 100.7 446.7 99.9 445.8 99.0 444.7 97.8 443.6 96.6 442.3 95.2 441.0 93.8 439.7 92.4 438.5 91.0 437.4 89.7 436.4 88.5 435.4 87.2 434.3 85.8 433.3 84.4 432.3 83.0 431.3 81.7 430.4 80.5 429.6 79.4 428.9 78.4 428.4 77.7 A0.5 0.5 0 0 0 427.6 78.3 Z M494.4 83.6 495.4 83.5 496.9 83.3 498.6 83.0 500.4 82.6 502.1 82.3 503.7 81.9 505.4 81.5 507.2 81.0 509.0 80.5 510.6 79.8 512.1 78.9 513.5 78.0 514.8 77.0 516.0 75.8 517.1 74.6 518.1 73.1 518.9 71.4 519.6 69.8 520.1 68.2 520.3 66.4 519.3 63.5 516.7 62.1 514.7 62.2 512.8 62.7 510.9 63.6 509.0 64.6 507.8 65.5 506.5 66.5 505.2 67.6 503.9 68.8 502.7 70.2 501.6 71.5 500.6 73.0 499.6 74.6 498.6 76.3 497.8 78.0 497.1 79.7 496.5 81.3 496.0 83.2 495.7 85.0 495.6 86.8 495.6 88.5 495.8 90.3 496.2 92.0 496.7 93.8 497.3 95.6 498.2 97.2 499.3 98.7 500.7 99.9 502.3 100.9 504.0 101.6 505.9 102.1 507.7 102.2 509.5 101.9 511.2 101.2 512.8 100.2 514.2 99.3 515.6 98.3 517.2 96.8 518.7 95.2 520.0 93.7 520.8 92.7 A1.3 1.3 0 0 0 519.0 90.9 L519.0 90.9 518.0 91.8 516.6 93.2 515.1 94.6 513.6 95.7 512.4 96.6 511.1 97.5 509.8 98.3 508.6 98.8 507.5 99.0 506.4 98.9 505.1 98.6 503.8 98.0 502.6 97.3 501.7 96.5 501.0 95.5 500.4 94.3 500.0 92.8 499.6 91.3 499.4 89.7 499.2 88.3 499.2 86.9 499.3 85.4 499.5 83.9 499.9 82.3 500.4 80.9 501.0 79.4 501.7 77.8 502.5 76.3 503.3 74.8 504.2 73.5 505.2 72.3 506.2 71.1 507.4 70.0 508.5 69.0 509.7 68.1 510.8 67.4 512.4 66.5 513.9 65.8 515.3 65.4 515.9 65.3 516.8 65.6 517.1 66.8 516.9 67.4 516.5 68.7 516.0 70.1 515.3 71.5 514.5 72.6 513.7 73.6 512.7 74.5 511.6 75.4 510.4 76.2 509.2 76.8 507.8 77.4 506.3 77.9 504.7 78.3 503.0 78.7 501.3 79.1 499.7 79.6 497.9 80.1 496.3 80.5 494.8 80.9 493.8 81.2 A1.3 1.3 0 0 0 494.4 83.6 Z M534.0 40.3 534.0 41.2 534.0 42.3 534.0 43.6 534.0 45.1 534.0 46.7 533.9 48.4 533.9 50.2 533.9 51.9 533.8 53.6 533.8 55.3 533.7 56.9 533.6 58.3 533.5 59.9 533.3 61.4 533.0 62.9 532.8 64.4 532.5 65.9 532.2 67.4 532.0 68.9 531.7 70.4 531.5 71.9 531.4 73.5 531.4 75.2 531.5 76.9 531.6 78.7 531.7 80.5 531.9 82.3 532.1 84.0 532.2 85.5 532.4 86.9 532.5 88.1 532.6 89.0 A1.3 1.3 0 0 0 535.2 88.8 L535.2 88.8 535.2 87.9 535.2 86.7 535.2 85.3 535.1 83.8 535.1 82.1 535.1 80.4 535.0 78.6 535.1 76.9 535.1 75.2 535.2 73.7 535.3 72.2 535.4 70.8 535.5 69.4 535.7 67.9 535.8 66.4 536.0 64.9 536.2 63.4 536.4 61.8 536.5 60.2 536.6 58.5 536.6 57.0 536.6 55.4 536.6 53.7 536.6 51.9 536.5 50.1 536.5 48.4 536.4 46.7 536.4 45.1 536.3 43.6 536.3 42.3 536.2 41.2 536.2 40.3 A1.1 1.1 0 0 0 534.0 40.3 Z M540.7 77.3 541.8 77.0 543.4 76.5 545.2 75.8 546.9 75.2 548.5 74.5 550.2 73.8 551.8 73.1 553.4 72.4 554.9 71.6 556.5 70.8 558.1 69.9 559.7 69.1 561.1 68.1 562.4 67.1 563.6 66.2 564.5 65.5 566.2 64.0 567.3 62.9 A1.9 1.9 0 0 0 565.7 59.5 L565.7 59.5 564.0 59.7 561.5 60.5 560.2 61.4 558.9 62.2 557.6 63.1 556.3 63.9 555.0 64.8 553.6 65.7 552.1 66.7 550.6 67.6 549.2 68.7 547.8 69.8 546.4 70.8 545.1 71.8 543.6 72.9 542.1 74.1 540.8 75.1 539.9 75.9 A0.8 0.8 0 0 0 540.7 77.3 Z M550.2 66.5 549.3 67.0 547.9 67.9 546.4 69.1 545.0 70.5 544.0 72.1 543.2 73.9 542.5 75.8 542.1 77.8 541.9 79.9 542.0 82.1 542.5 84.3 543.4 86.4 544.8 87.9 546.6 89.1 548.6 89.8 550.7 90.2 552.4 90.1 554.0 89.9 555.7 89.6 557.4 89.2 559.1 88.7 560.7 88.2 562.3 87.7 564.0 87.1 565.7 86.5 567.3 85.8 568.9 85.2 570.3 84.6 572.2 83.6 574.1 82.7 575.6 81.9 576.7 81.3 A1.5 1.5 0 0 0 575.3 78.7 L575.3 78.7 574.2 79.1 572.7 79.8 570.9 80.6 568.9 81.4 567.6 82.0 566.0 82.6 564.5 83.2 562.8 83.8 561.2 84.3 559.7 84.8 558.1 85.2 556.5 85.6 554.9 86.0 553.5 86.3 552.1 86.4 551.1 86.4 549.6 86.2 548.3 85.7 547.3 85.0 546.6 84.2 546.2 83.2 545.9 81.7 545.8 79.9 545.9 78.2 546.2 76.7 546.6 75.2 547.3 73.8 548.0 72.5 548.8 71.4 549.9 70.3 551.0 69.3 551.8 68.5 A1.3 1.3 0 0 0 550.2 66.5 Z M594.4 65.1 593.4 65.0 592.1 64.8 590.5 64.5 588.7 64.3 586.8 64.1 584.9 64.2 583.2 64.5 581.5 65.3 580.0 66.3 578.6 67.5 577.3 68.9 576.2 70.3 575.3 71.7 574.4 73.3 573.8 75.0 573.2 76.7 572.9 78.5 572.6 80.2 572.5 81.8 572.7 84.1 573.2 86.2 574.0 88.3 575.2 90.0 576.6 91.3 578.1 92.3 579.8 93.1 581.7 93.7 583.6 93.9 585.2 93.9 586.9 93.7 588.6 93.3 590.3 92.8 592.0 92.1 593.7 91.4 595.2 90.4 596.8 89.3 598.4 88.1 599.9 86.8 601.3 85.7 602.4 84.7 603.2 84.0 A1.3 1.3 0 0 0 601.6 82.0 L601.6 82.0 600.7 82.7 599.5 83.6 598.2 84.7 596.6 85.8 595.1 86.9 593.6 87.9 592.3 88.6 590.8 89.3 589.3 89.9 587.8 90.4 586.4 90.7 585.0 90.9 583.8 90.9 582.4 90.6 581.1 90.1 579.9 89.4 578.8 88.6 578.0 87.8 577.1 86.6 576.6 85.2 576.2 83.6 576.1 81.8 576.1 80.5 576.2 79.0 576.5 77.5 576.8 76.0 577.3 74.5 577.9 73.3 578.7 72.1 579.6 70.9 580.7 69.7 581.8 68.8 583.0 68.0 584.2 67.5 585.3 67.2 586.7 67.2 588.4 67.3 590.0 67.5 591.6 67.8 593.0 68.0 594.0 68.1 A1.5 1.5 0 0 0 594.4 65.1 Z M576.9 76.4 577.8 75.8 579.0 74.9 580.5 73.9 582.1 72.8 583.7 71.8 585.2 70.9 586.8 70.2 588.5 69.4 590.3 68.7 592.0 68.0 593.4 67.5 594.4 67.1 A0.5 0.5 0 0 0 594.0 66.1 L594.0 66.1 593.0 66.5 591.6 67.1 589.9 67.7 588.1 68.5 586.4 69.3 584.8 70.1 583.2 71.0 581.6 72.0 579.9 73.1 578.5 74.1 577.2 75.0 576.3 75.6 A0.5 0.5 0 0 0 576.9 76.4 Z M624.0 42.9 622.7 41.4 620.6 39.9 617.9 40.4 616.0 42.3 615.2 43.8 614.5 45.4 613.9 47.5 613.4 49.9 613.1 51.1 612.9 52.5 612.6 53.9 612.4 55.4 612.2 57.0 612.0 58.7 611.7 60.5 611.6 62.3 611.4 64.2 611.3 65.6 611.3 67.2 611.3 68.9 611.2 70.6 611.2 72.4 611.2 74.2 611.2 76.0 611.2 77.7 611.2 79.3 611.2 80.8 611.2 82.2 611.2 83.3 611.2 84.2 A1.4 1.4 0 0 0 614.0 84.2 L614.0 84.2 614.0 83.3 614.0 82.2 614.1 80.9 614.1 79.4 614.2 77.8 614.2 76.0 614.3 74.3 614.4 72.5 614.4 70.7 614.5 69.0 614.6 67.3 614.7 65.8 614.8 64.4 614.9 62.6 615.1 60.8 615.2 59.1 615.4 57.4 615.6 55.9 615.8 54.4 616.0 53.0 616.2 51.7 616.4 50.5 616.9 48.2 617.4 46.4 618.0 45.0 618.4 44.1 619.4 43.0 619.8 42.9 620.9 43.6 622.2 44.7 A1.3 1.3 0 0 0 624.0 42.9 Z M604.5 76.0 604.6 74.4 604.7 72.4 605.3 70.8 605.9 70.0 606.8 69.1 608.1 68.3 609.7 67.5 610.9 66.9 612.3 66.5 613.8 66.0 615.4 65.6 617.0 65.2 618.7 64.9 620.3 64.6 621.9 64.4 623.6 64.2 625.4 64.1 627.1 64.0 628.7 63.9 630.2 63.8 632.1 63.7 633.9 63.6 635.5 63.6 636.9 63.6 637.7 63.7 639.6 64.3 640.3 64.8 640.1 65.2 639.1 67.1 638.5 68.4 637.7 70.0 636.9 71.7 636.0 73.5 635.3 75.4 634.7 77.0 634.2 78.6 633.7 80.4 633.3 82.1 632.9 83.7 632.7 85.2 632.7 87.9 633.4 90.3 636.1 92.1 638.3 90.4 639.2 88.6 640.0 86.7 640.9 85.1 641.6 84.0 642.5 82.9 643.3 81.8 644.3 80.6 645.4 79.4 646.5 78.0 647.8 76.5 649.1 74.9 650.4 73.5 651.2 72.7 650.7 72.5 650.1 72.0 649.8 73.4 649.2 75.4 648.6 77.5 648.3 79.4 648.3 81.8 648.7 84.0 650.4 85.9 652.7 86.0 654.7 85.4 656.6 84.4 658.3 82.9 659.4 81.1 660.2 79.0 660.7 76.9 661.0 74.9 660.9 72.4 660.4 70.2 660.1 68.8 A1.3 1.3 0 0 0 657.5 69.2 L657.5 69.2 657.7 70.7 657.9 72.7 657.8 74.7 657.5 76.2 657.0 78.0 656.4 79.6 655.7 80.7 654.7 81.4 653.4 82.1 652.1 82.4 652.0 82.5 652.1 82.5 651.8 81.4 651.7 79.6 651.8 78.1 652.2 76.1 652.6 73.9 652.8 72.0 651.7 70.1 649.7 70.5 648.4 71.5 647.0 72.9 645.5 74.5 644.2 76.0 643.0 77.2 641.9 78.5 640.8 79.7 639.9 80.9 639.0 82.1 638.1 83.3 637.0 85.1 635.9 86.9 635.0 88.2 635.9 87.9 637.2 88.5 637.0 87.3 636.9 85.4 637.0 84.3 637.3 82.9 637.6 81.4 638.0 79.7 638.5 78.1 638.9 76.6 639.5 74.9 640.2 73.1 640.9 71.4 641.6 69.8 642.1 68.5 643.2 66.2 643.3 63.8 641.6 61.4 638.9 60.1 637.2 59.8 635.5 59.8 633.8 59.8 631.9 59.9 630.0 60.0 628.5 60.1 626.8 60.2 625.1 60.4 623.3 60.6 621.5 60.8 619.7 61.0 618.1 61.3 616.3 61.8 614.5 62.2 612.8 62.7 611.2 63.3 609.7 63.9 608.3 64.5 606.5 65.5 604.9 66.6 603.5 67.8 602.3 69.4 601.8 71.9 601.8 74.4 601.9 76.0 A1.3 1.3 0 0 0 604.5 76.0 Z M672.1 65.4 672.0 66.3 671.9 67.6 671.8 69.1 671.7 70.8 671.6 72.5 671.4 74.3 671.3 75.9 671.2 77.6 670.9 79.6 670.7 81.7 670.5 83.7 670.3 85.5 670.3 87.1 671.0 88.9 673.7 89.1 674.9 87.7 676.0 86.1 677.1 84.3 678.2 82.7 679.1 81.7 680.0 80.5 681.0 79.2 682.0 78.0 683.0 76.8 684.0 75.7 685.0 74.8 686.2 73.8 687.6 72.9 689.0 72.1 690.4 71.4 691.6 70.8 692.4 70.5 693.8 70.2 694.5 71.0 694.7 71.8 695.1 73.5 695.4 75.4 695.8 77.3 696.4 79.1 697.6 81.0 699.1 82.3 700.9 83.2 703.1 83.8 705.4 84.0 707.5 83.9 709.5 83.5 711.3 82.9 712.4 82.4 A1.3 1.3 0 0 0 711.6 80.0 L711.6 80.0 710.4 80.3 708.9 80.7 707.3 80.9 705.5 80.9 703.6 80.8 702.1 80.4 701.1 79.7 700.3 78.9 699.6 77.5 699.2 76.4 698.7 74.7 698.2 72.7 697.7 70.9 696.9 69.2 694.7 67.3 691.8 67.5 690.4 68.0 689.0 68.6 687.5 69.4 686.0 70.3 684.4 71.3 683.0 72.4 681.8 73.5 680.7 74.7 679.6 76.0 678.6 77.3 677.6 78.6 676.7 79.8 675.8 80.9 674.5 82.5 673.3 84.3 672.3 85.7 671.8 86.3 673.4 86.5 673.7 86.8 673.7 85.7 673.9 84.0 674.1 82.1 674.3 80.0 674.5 77.9 674.7 76.1 674.7 74.4 674.7 72.6 674.7 70.9 674.7 69.2 674.7 67.7 674.7 66.4 674.7 65.4 A1.3 1.3 0 0 0 672.1 65.4 Z"/>
<path fill="#2e6cf2" d="M112.1 489.4 113.0 489.0 114.0 488.4 115.2 487.9 116.5 487.2 118.0 486.5 119.6 485.7 121.2 484.9 122.8 484.1 124.5 483.4 126.2 482.6 127.5 482.1 128.8 481.5 130.1 480.9 131.5 480.3 132.9 479.6 134.3 479.0 135.8 478.4 137.3 477.8 138.7 477.2 140.2 476.6 141.7 476.0 143.1 475.5 144.6 475.0 145.9 474.5 147.5 474.0 149.0 473.6 150.6 473.1 152.2 472.7 153.8 472.3 155.4 471.9 157.0 471.5 158.5 471.2 160.1 470.9 161.5 470.6 162.9 470.3 164.2 470.1 165.5 469.9 167.3 469.7 169.1 469.5 170.7 469.4 172.2 469.4 173.6 469.5 174.8 469.6 175.8 469.8 176.3 469.8 177.4 470.4 177.6 470.9 177.6 471.6 177.2 472.6 176.0 474.0 175.1 475.1 A1.5 1.5 0 0 0 177.3 477.1 L177.3 477.1 178.3 476.1 179.9 474.5 181.0 472.6 181.1 470.3 180.3 468.0 178.1 466.4 176.7 465.9 175.4 465.7 174.0 465.4 172.4 465.3 170.7 465.2 168.9 465.2 167.0 465.3 164.9 465.5 163.6 465.7 162.2 465.8 160.7 466.1 159.2 466.3 157.6 466.6 156.0 466.9 154.4 467.2 152.7 467.6 151.0 468.0 149.4 468.4 147.7 468.8 146.1 469.2 144.5 469.7 143.0 470.1 141.4 470.6 139.9 471.2 138.4 471.7 136.8 472.3 135.3 472.9 133.8 473.5 132.3 474.1 130.8 474.7 129.3 475.3 127.9 475.9 126.6 476.5 125.2 477.0 124.0 477.6 122.2 478.4 120.5 479.2 118.8 480.1 117.2 480.9 115.6 481.7 114.1 482.5 112.8 483.2 111.6 483.9 110.6 484.4 109.9 484.8 A2.5 2.5 0 0 0 112.1 489.4 Z M131.3 489.2 131.3 490.0 131.3 491.1 131.3 492.3 131.3 493.6 131.3 495.1 131.3 496.6 131.4 498.2 131.4 499.9 131.4 501.7 131.5 503.4 131.5 505.2 131.5 507.0 131.5 508.7 131.6 510.3 131.7 511.7 131.7 513.2 131.8 514.7 131.9 516.2 132.0 517.6 132.1 519.2 132.2 520.7 132.3 522.2 132.4 523.7 132.5 525.2 132.6 526.8 132.6 528.3 132.7 529.8 132.7 531.3 132.8 532.8 132.8 534.3 132.8 535.8 132.8 537.4 132.8 539.1 132.8 540.8 132.7 542.5 132.7 544.3 132.6 546.0 132.5 547.7 132.5 549.4 132.4 550.9 132.4 552.5 132.3 553.9 132.3 555.2 132.2 556.3 132.2 557.4 132.2 558.2 A1.9 1.9 0 0 0 136.0 558.4 L136.0 558.4 136.1 557.6 136.2 556.6 136.3 555.4 136.3 554.1 136.4 552.7 136.6 551.2 136.7 549.6 136.8 547.9 136.9 546.2 137.0 544.5 137.1 542.7 137.2 540.9 137.3 539.2 137.3 537.5 137.4 535.9 137.4 534.3 137.4 532.8 137.4 531.2 137.4 529.7 137.3 528.1 137.3 526.6 137.3 525.0 137.2 523.5 137.1 521.9 137.1 520.4 137.0 518.9 136.9 517.4 136.9 515.9 136.8 514.4 136.7 512.9 136.7 511.5 136.6 510.1 136.5 508.4 136.4 506.7 136.2 505.0 136.1 503.2 136.0 501.5 135.9 499.7 135.7 498.0 135.6 496.4 135.5 494.9 135.3 493.4 135.2 492.1 135.1 490.9 135.0 489.9 134.9 489.0 A1.8 1.8 0 0 0 131.3 489.2 Z M109.3 530.1 110.3 530.0 111.5 529.8 112.9 529.6 114.4 529.4 116.2 529.1 118.0 528.9 119.9 528.5 121.8 528.2 123.7 527.8 125.6 527.4 127.1 527.1 128.7 526.6 130.3 526.2 131.9 525.7 133.6 525.2 135.3 524.7 137.0 524.2 138.7 523.7 140.3 523.2 141.8 522.8 143.2 522.3 144.6 521.9 145.8 521.5 148.0 520.8 149.9 520.1 151.5 519.6 152.8 519.1 154.1 518.6 155.5 518.1 157.2 517.4 158.9 516.8 160.5 516.1 161.8 515.6 162.8 515.2 A0.9 0.9 0 0 0 162.2 513.4 L162.2 513.4 161.2 513.6 159.8 513.8 158.1 514.2 156.3 514.5 154.5 514.9 153.1 515.3 151.7 515.6 150.3 516.0 148.7 516.4 146.9 516.9 144.6 517.5 143.4 517.8 142.0 518.2 140.6 518.6 139.0 519.1 137.4 519.5 135.8 520.0 134.1 520.5 132.4 520.9 130.7 521.4 129.1 521.8 127.5 522.2 126.0 522.6 124.6 523.0 122.8 523.4 120.9 523.8 119.1 524.2 117.2 524.6 115.4 525.0 113.7 525.3 112.2 525.6 110.8 525.9 109.6 526.1 108.7 526.3 A1.9 1.9 0 0 0 109.3 530.1 Z M166.5 515.6 165.4 516.2 163.8 517.0 162.0 518.1 160.2 519.3 158.6 520.6 157.2 522.0 156.0 523.5 154.9 525.1 154.0 526.7 153.2 528.3 152.5 530.1 152.0 532.0 151.9 533.9 152.0 536.0 152.7 538.0 153.6 540.1 154.9 542.0 156.3 543.6 158.0 544.9 159.9 545.9 162.0 546.6 164.1 546.9 166.0 546.9 168.0 546.6 169.9 546.1 171.8 545.5 173.6 544.7 175.2 543.7 176.8 542.6 178.2 541.3 179.5 539.9 180.6 538.5 181.6 537.0 182.4 535.4 183.0 533.8 183.4 532.0 183.7 530.2 183.8 528.7 183.8 527.1 183.7 525.5 183.5 523.8 183.1 522.1 182.6 520.3 182.1 518.9 181.4 517.4 180.8 515.9 180.0 514.4 179.2 512.9 178.3 511.4 177.5 510.1 176.6 508.8 175.2 507.3 173.7 506.0 172.2 504.8 170.7 503.8 169.5 503.0 168.7 502.4 A1.2 1.2 0 0 0 167.3 504.2 L167.3 504.2 168.1 504.9 169.2 505.8 170.5 506.8 171.9 508.0 173.2 509.3 174.2 510.6 174.9 511.7 175.7 513.0 176.4 514.3 177.1 515.8 177.8 517.2 178.3 518.7 178.8 520.1 179.2 521.3 179.6 522.9 179.9 524.4 180.0 525.8 180.1 527.2 180.0 528.5 179.9 529.8 179.6 531.2 179.2 532.5 178.7 533.8 178.1 535.0 177.4 536.1 176.4 537.2 175.4 538.3 174.2 539.3 172.9 540.2 171.6 540.9 170.3 541.5 168.7 542.0 167.2 542.3 165.7 542.5 164.5 542.5 163.0 542.3 161.7 541.8 160.5 541.1 159.5 540.2 158.5 539.2 157.5 537.8 156.8 536.4 156.4 535.0 156.2 533.9 156.2 532.6 156.5 531.3 157.0 529.7 157.5 528.4 158.2 527.0 159.0 525.5 159.9 524.1 160.8 522.8 162.1 521.7 163.6 520.4 165.2 519.3 166.7 518.3 167.7 517.6 A1.2 1.2 0 0 0 166.5 515.6 Z M185.8 521.4 185.8 522.6 186.0 524.1 186.2 526.0 186.5 528.1 186.7 530.3 186.9 531.7 187.1 533.3 187.3 535.0 187.5 536.8 187.8 538.6 188.0 540.3 188.1 541.9 188.3 543.1 188.4 544.1 A2.1 2.1 0 0 0 192.6 543.5 L192.6 543.5 192.4 542.6 192.2 541.3 192.0 539.8 191.7 538.1 191.4 536.3 191.1 534.5 190.8 532.7 190.6 531.1 190.3 529.7 189.8 527.5 189.3 525.4 188.8 523.6 188.4 522.1 188.0 521.0 A1.2 1.2 0 0 0 185.8 521.4 Z M192.1 535.4 192.3 534.4 192.5 533.0 192.8 531.3 193.2 529.6 193.5 527.9 193.9 526.5 194.3 525.1 194.7 523.8 195.1 522.6 195.7 521.2 196.4 519.7 197.0 518.4 197.7 516.9 198.5 515.3 199.3 513.7 200.1 512.2 200.9 510.9 201.6 509.9 202.8 508.4 203.9 507.4 205.0 506.7 205.9 506.3 207.5 506.2 209.3 506.8 210.7 507.2 A1.3 1.3 0 0 0 211.7 504.8 L211.7 504.8 210.2 504.2 208.0 503.3 205.5 503.1 203.6 503.8 202.0 504.7 200.4 506.0 198.8 507.7 197.9 509.0 197.0 510.4 196.1 512.0 195.3 513.6 194.4 515.3 193.7 516.8 193.0 518.1 192.3 519.7 191.6 521.2 191.1 522.5 190.6 523.9 190.1 525.5 189.7 527.0 189.3 528.8 188.9 530.6 188.6 532.2 188.3 533.6 188.1 534.6 A2.0 2.0 0 0 0 192.1 535.4 Z M229.3 516.4 228.0 515.8 226.0 514.8 223.5 514.0 220.8 514.3 219.0 515.3 217.6 516.6 216.3 518.1 215.1 519.8 214.1 521.7 213.4 523.7 213.1 525.3 213.0 526.9 213.0 528.7 213.1 530.4 213.3 532.2 213.6 533.9 214.0 535.5 214.5 537.1 215.3 538.7 216.2 540.2 217.3 541.6 218.4 542.9 219.7 544.1 221.0 545.1 222.5 546.1 224.4 546.9 226.5 547.5 228.6 547.8 230.5 548.0 232.1 548.2 233.1 548.3 A2.0 2.0 0 0 0 233.7 544.3 L233.7 544.3 232.5 544.1 230.9 544.0 229.1 543.8 227.3 543.5 225.7 543.1 224.3 542.5 223.4 541.9 222.3 541.0 221.3 540.1 220.4 539.0 219.6 537.9 218.8 536.8 218.3 535.5 217.9 534.4 217.5 533.0 217.3 531.6 217.1 530.1 217.0 528.6 217.0 527.1 217.2 525.8 217.4 524.7 217.8 523.3 218.6 521.9 219.5 520.6 220.5 519.4 221.5 518.5 222.0 518.1 223.0 518.1 224.5 518.6 226.2 519.4 227.5 520.0 A2.0 2.0 0 0 0 229.3 516.4 Z M237.9 537.3 238.8 537.1 240.0 536.8 241.5 536.5 243.2 536.1 244.9 535.7 246.7 535.2 248.5 534.7 250.2 534.1 251.8 533.5 253.5 532.8 255.2 532.1 256.9 531.3 258.5 530.5 260.1 529.6 261.5 528.7 262.9 527.7 264.5 525.9 265.9 523.9 266.9 521.9 267.5 519.8 267.5 517.7 266.2 515.5 264.2 514.2 261.9 513.4 259.6 513.2 257.9 513.3 256.0 513.5 254.1 513.9 252.1 514.6 250.2 515.4 248.4 516.5 247.0 517.6 245.8 518.7 244.6 520.0 243.4 521.4 242.3 522.8 241.2 524.3 240.3 525.8 239.6 527.3 238.9 528.9 238.3 530.5 237.8 532.2 237.4 534.0 237.1 535.8 237.0 537.5 237.1 539.2 237.5 540.9 238.2 542.6 239.1 544.3 240.3 545.9 241.7 547.3 243.3 548.5 245.1 549.5 246.9 550.2 248.6 550.5 250.3 550.6 252.1 550.5 253.8 550.2 255.6 549.9 257.3 549.5 259.0 549.0 260.5 548.6 262.0 548.3 263.9 547.7 265.8 547.1 267.7 546.4 269.5 545.7 271.0 545.1 272.3 544.6 273.2 544.2 A2.0 2.0 0 0 0 271.8 540.4 L271.8 540.4 270.8 540.8 269.5 541.3 268.0 542.0 266.3 542.6 264.5 543.3 262.7 543.9 261.0 544.3 259.5 544.7 258.0 545.1 256.4 545.5 254.7 545.9 253.1 546.2 251.6 546.4 250.2 546.5 249.0 546.5 248.1 546.4 246.8 545.9 245.6 545.2 244.4 544.3 243.4 543.2 242.5 542.0 241.8 540.9 241.3 539.7 241.1 538.7 241.1 537.5 241.2 536.2 241.4 534.8 241.7 533.3 242.2 531.8 242.7 530.4 243.2 529.1 243.9 527.8 244.7 526.5 245.5 525.2 246.5 523.9 247.6 522.7 248.6 521.6 249.7 520.6 250.6 519.9 252.0 519.0 253.6 518.4 255.2 517.8 256.8 517.5 258.2 517.3 259.4 517.2 261.1 517.4 262.5 517.8 263.3 518.4 263.5 518.7 263.5 519.2 263.1 520.4 262.4 521.9 261.4 523.4 260.1 524.7 259.2 525.4 258.0 526.2 256.7 526.9 255.1 527.7 253.5 528.4 251.9 529.1 250.3 529.7 248.8 530.3 247.3 530.8 245.7 531.3 243.9 531.7 242.2 532.2 240.6 532.5 239.1 532.8 237.9 533.1 236.9 533.3 A2.0 2.0 0 0 0 237.9 537.3 Z M348.8 511.1 347.1 511.8 345.6 514.1 345.5 515.6 345.6 516.8 345.8 518.1 346.0 519.6 346.3 521.3 346.6 523.1 346.9 525.3 347.0 526.5 347.2 527.8 347.3 529.2 347.5 530.8 347.7 532.3 347.9 534.0 348.1 535.7 348.3 537.4 348.5 539.0 348.7 540.7 348.9 542.3 349.1 543.9 349.3 545.3 349.5 546.7 349.6 547.9 349.8 550.3 350.0 552.9 350.2 555.5 350.3 557.9 350.4 559.9 350.6 561.4 354.3 562.8 355.1 561.0 355.3 560.2 355.4 559.4 355.5 558.5 355.6 557.4 355.8 556.2 355.9 554.9 356.0 553.4 356.1 551.9 356.3 550.3 356.4 548.6 356.5 546.9 356.7 545.0 356.8 543.2 357.0 541.3 357.1 539.5 357.2 537.6 357.4 535.7 357.5 533.8 357.7 532.0 357.8 530.2 357.9 528.5 358.1 526.9 358.2 525.3 358.3 523.7 358.4 522.1 358.6 520.5 358.7 518.8 358.8 517.1 358.9 515.4 359.0 513.7 359.2 512.0 359.3 510.3 359.4 508.6 359.5 506.9 359.7 505.3 359.8 503.6 359.9 502.0 360.0 500.5 360.1 498.9 360.2 497.5 360.3 496.1 360.4 494.7 360.5 493.5 360.6 492.3 360.7 491.2 360.7 490.1 361.0 486.9 361.2 484.6 361.3 483.0 361.3 481.9 361.4 481.3 358.7 480.7 359.0 484.7 359.1 485.7 359.3 486.8 359.4 488.0 359.6 489.2 359.8 490.6 360.0 492.1 360.2 493.6 360.5 495.2 360.7 496.8 361.0 498.5 361.2 500.2 361.5 501.9 361.7 503.7 362.0 505.4 362.3 507.2 362.6 508.9 362.8 510.5 363.1 512.0 363.4 513.5 363.7 515.1 364.0 516.7 364.3 518.4 364.6 520.1 364.9 521.9 365.3 523.6 365.6 525.4 365.9 527.1 366.2 528.8 366.6 530.5 366.9 532.1 367.2 533.6 367.5 535.1 367.7 536.4 368.0 537.7 368.2 538.9 368.4 539.9 368.6 540.8 370.2 545.6 374.8 542.4 375.0 541.6 375.3 540.4 375.7 539.1 376.0 537.6 376.3 536.0 376.7 534.4 377.1 532.6 377.5 530.8 378.0 529.1 378.4 527.4 378.9 525.7 379.4 524.3 379.9 522.8 380.5 521.2 381.0 519.6 381.6 518.0 382.2 516.4 382.9 514.8 383.5 513.2 384.1 511.6 384.7 510.1 385.2 508.7 385.7 507.4 386.2 506.2 387.1 504.1 387.8 502.1 388.5 500.2 389.1 498.7 389.6 497.6 389.9 497.2 389.0 497.3 388.6 497.2 388.9 498.0 389.2 499.5 389.5 501.3 389.7 503.4 389.8 505.5 389.9 507.6 389.8 508.9 389.7 510.3 389.5 511.8 389.3 513.4 389.1 515.1 388.8 516.7 388.5 518.4 388.2 520.1 387.9 521.7 387.6 523.3 387.3 524.7 387.0 526.4 386.6 528.1 386.2 529.8 385.7 531.5 385.3 533.2 384.9 534.7 384.5 536.3 384.3 537.7 384.1 539.1 384.2 541.6 384.7 543.8 385.5 545.5 386.8 546.9 389.0 547.8 391.5 547.8 393.7 546.9 395.1 546.1 396.3 545.2 397.6 544.1 398.8 542.9 400.0 541.7 401.2 540.6 402.4 539.4 403.6 538.2 404.8 536.9 406.0 535.6 407.1 534.4 408.1 533.3 409.7 531.8 411.1 530.2 412.4 528.9 413.3 528.0 A1.6 1.6 0 0 0 411.1 525.8 L411.1 525.8 410.2 526.6 408.8 527.9 407.3 529.3 405.7 530.9 404.6 531.9 403.4 533.1 402.2 534.3 401.0 535.5 399.8 536.7 398.6 537.8 397.4 538.9 396.1 540.0 394.9 541.0 393.8 541.9 392.8 542.7 392.1 543.1 390.7 543.5 390.0 543.5 389.6 543.1 389.3 542.9 389.0 542.2 388.7 541.1 388.7 539.3 388.8 538.3 389.0 537.1 389.3 535.7 389.6 534.2 390.0 532.6 390.4 530.9 390.8 529.1 391.2 527.3 391.5 525.5 391.7 524.0 392.0 522.4 392.2 520.8 392.5 519.1 392.7 517.4 393.0 515.6 393.2 513.9 393.3 512.2 393.5 510.6 393.5 509.1 393.5 507.6 393.4 505.3 393.2 503.0 392.8 500.8 392.4 498.8 391.9 497.0 391.2 495.6 389.8 494.5 387.9 494.9 387.0 496.0 386.3 497.4 385.6 499.0 384.8 500.9 384.0 502.9 383.2 505.0 382.7 506.1 382.1 507.4 381.5 508.8 380.9 510.3 380.2 511.9 379.6 513.5 378.9 515.1 378.2 516.7 377.6 518.3 377.0 519.9 376.4 521.5 375.8 523.0 375.3 524.5 374.7 526.2 374.1 528.0 373.6 529.8 373.1 531.6 372.6 533.4 372.2 535.0 371.8 536.6 371.4 538.0 371.0 539.2 370.7 540.2 370.4 541.0 373.7 542.2 373.6 539.6 373.4 538.8 373.1 537.8 372.9 536.7 372.6 535.4 372.3 534.1 372.0 532.6 371.7 531.1 371.3 529.5 371.0 527.9 370.7 526.2 370.3 524.5 370.0 522.7 369.6 521.0 369.3 519.3 368.9 517.5 368.6 515.8 368.3 514.2 367.9 512.6 367.6 511.1 367.4 509.7 367.0 508.0 366.7 506.3 366.3 504.6 366.0 502.9 365.6 501.2 365.3 499.5 364.9 497.8 364.6 496.2 364.3 494.5 364.0 493.0 363.7 491.4 363.4 490.0 363.1 488.6 362.8 487.4 362.6 486.2 362.4 485.2 362.2 484.3 361.5 480.3 358.6 480.7 358.4 481.5 358.2 482.7 358.0 484.3 357.8 486.6 357.5 489.9 357.3 490.9 357.2 492.0 357.1 493.2 357.0 494.4 356.8 495.8 356.7 497.2 356.5 498.6 356.4 500.1 356.2 501.7 356.1 503.3 355.9 504.9 355.8 506.6 355.6 508.3 355.4 510.0 355.3 511.7 355.1 513.4 354.9 515.1 354.8 516.8 354.6 518.5 354.5 520.1 354.3 521.8 354.1 523.4 354.0 524.9 353.9 526.5 353.7 528.2 353.6 529.9 353.4 531.7 353.3 533.5 353.2 535.4 353.0 537.2 352.9 539.1 352.7 541.0 352.6 542.9 352.5 544.7 352.3 546.5 352.2 548.3 352.1 550.0 351.9 551.6 351.8 553.1 351.7 554.5 351.5 555.8 351.4 557.0 351.3 558.0 351.2 558.9 351.1 559.6 351.1 560.0 351.4 559.7 354.7 560.5 354.6 559.5 354.4 557.6 354.3 555.2 354.1 552.6 353.9 549.9 353.6 547.5 353.4 546.2 353.2 544.8 353.0 543.4 352.8 541.8 352.5 540.2 352.3 538.5 352.0 536.8 351.7 535.2 351.5 533.5 351.2 531.9 351.0 530.3 350.8 528.8 350.5 527.3 350.3 526.0 350.1 524.9 349.8 522.6 349.4 520.7 349.1 519.0 348.8 517.6 348.6 516.5 348.5 515.5 348.4 515.1 349.0 513.9 349.8 513.7 A1.4 1.4 0 0 0 348.8 511.1 Z M410.8 526.2 410.3 527.1 409.6 528.3 408.7 529.7 407.8 531.3 406.9 532.9 406.0 534.5 405.2 535.8 404.3 537.2 403.4 538.6 402.4 540.0 401.5 541.4 400.7 542.9 400.0 544.5 399.7 546.8 399.9 549.0 400.6 551.1 402.1 552.8 404.3 553.5 406.5 553.3 408.5 552.6 410.4 551.6 411.8 550.6 413.1 549.5 414.4 548.2 415.7 546.9 416.9 545.4 418.0 543.9 418.9 542.7 419.7 541.4 420.5 540.0 421.3 538.5 421.9 537.0 422.5 535.4 423.0 533.8 423.3 532.1 423.5 530.3 423.6 528.5 423.7 526.7 423.6 524.9 423.5 523.1 423.3 521.4 423.1 519.7 422.7 518.0 422.3 516.4 421.8 514.8 421.2 513.3 420.6 511.8 420.0 510.4 419.0 508.6 417.9 506.9 416.8 505.4 415.7 504.2 414.8 503.1 413.4 502.0 412.4 501.8 A1.1 1.1 0 0 0 412.0 504.0 L412.0 504.0 412.1 504.0 413.0 504.9 413.6 505.8 414.5 507.1 415.5 508.5 416.4 510.1 417.2 511.8 417.6 513.0 418.1 514.4 418.5 515.8 418.9 517.3 419.3 518.8 419.5 520.3 419.7 521.8 419.8 523.4 419.8 525.0 419.8 526.6 419.7 528.3 419.6 529.9 419.4 531.4 419.0 532.8 418.6 534.1 418.1 535.4 417.5 536.7 416.9 538.0 416.2 539.2 415.4 540.3 414.6 541.5 413.6 542.7 412.5 544.0 411.3 545.2 410.2 546.3 409.1 547.2 408.2 547.8 406.8 548.5 405.5 548.9 404.7 549.0 404.7 549.0 404.6 548.9 404.3 548.1 404.2 546.8 404.4 545.5 404.6 544.7 405.1 543.6 405.9 542.3 406.8 540.9 407.7 539.3 408.6 537.8 409.3 536.3 410.1 534.7 411.0 533.0 411.8 531.3 412.5 529.8 413.1 528.6 413.6 527.6 A1.6 1.6 0 0 0 410.8 526.2 Z M444.6 513.8 443.6 514.4 442.1 515.2 440.4 516.2 438.5 517.5 436.9 519.0 435.9 520.3 434.9 521.6 434.0 523.0 433.2 524.5 432.4 526.1 431.8 527.7 431.3 529.3 431.0 531.1 430.9 533.0 430.9 534.9 431.1 536.7 431.5 538.5 432.0 540.2 432.9 541.9 434.1 543.5 435.5 544.9 436.9 546.1 438.5 547.1 440.2 547.9 442.0 548.6 443.9 549.1 445.9 549.5 447.8 549.7 449.7 549.7 451.6 549.4 453.4 549.1 455.1 548.7 456.5 548.4 458.9 547.9 460.9 547.3 462.3 547.0 A2.0 2.0 0 0 0 461.5 543.0 L461.5 543.0 460.0 543.3 458.0 543.7 455.7 544.0 454.2 544.3 452.5 544.7 450.9 544.9 449.4 545.1 448.0 545.1 446.6 544.9 445.0 544.6 443.5 544.1 442.1 543.6 440.9 542.9 439.8 542.2 438.8 541.3 438.0 540.3 437.3 539.3 436.8 538.2 436.5 537.2 436.2 535.9 436.0 534.6 436.0 533.1 436.1 531.7 436.3 530.3 436.6 529.2 437.0 527.9 437.5 526.6 438.1 525.2 438.7 524.0 439.4 522.8 440.1 521.8 441.2 520.5 442.6 519.3 444.1 518.2 445.4 517.3 446.4 516.6 A1.6 1.6 0 0 0 444.6 513.8 Z M451.9 492.6 453.5 491.4 455.3 490.4 455.5 489.9 455.4 490.7 455.3 491.0 455.3 492.1 455.2 493.5 455.1 495.0 454.9 496.7 454.7 498.5 454.6 500.3 454.4 502.2 454.2 504.0 454.0 505.8 453.9 507.4 453.8 509.0 453.7 510.7 453.5 512.3 453.4 513.9 453.3 515.5 453.1 517.1 453.0 518.7 452.9 520.3 452.8 521.9 452.7 523.5 452.6 525.0 452.6 526.7 452.5 528.5 452.5 530.3 452.5 532.1 452.5 533.8 452.5 535.5 452.6 537.0 452.6 538.3 452.6 539.4 452.6 540.3 A2.3 2.3 0 0 0 457.2 540.3 L457.2 540.3 457.2 539.4 457.2 538.2 457.2 536.9 457.1 535.4 457.1 533.8 457.1 532.1 457.1 530.3 457.1 528.6 457.2 526.8 457.2 525.2 457.3 523.7 457.3 522.2 457.4 520.6 457.5 519.1 457.6 517.5 457.7 515.9 457.9 514.2 458.0 512.6 458.1 511.0 458.2 509.4 458.3 507.8 458.4 506.1 458.5 504.4 458.6 502.5 458.8 500.7 458.9 498.8 459.0 497.0 459.1 495.3 459.2 493.7 459.2 492.2 459.2 490.9 459.0 489.3 456.8 486.6 453.7 487.6 451.7 489.0 450.1 490.4 A1.4 1.4 0 0 0 451.9 492.6 Z M448.2 517.2 448.5 518.2 448.9 519.6 449.3 521.2 449.9 522.9 450.4 524.7 450.8 526.5 451.2 528.2 451.5 529.8 451.8 531.6 452.1 533.5 452.3 535.3 452.6 536.9 452.7 538.3 452.9 539.3 A0.8 0.8 0 0 0 454.5 539.1 L454.5 539.1 454.4 538.1 454.2 536.7 454.0 535.1 453.7 533.3 453.4 531.4 453.1 529.5 452.8 527.8 452.4 526.1 452.0 524.3 451.4 522.5 450.9 520.7 450.5 519.1 450.1 517.8 449.8 516.8 A0.8 0.8 0 0 0 448.2 517.2 Z M463.4 546.3 464.3 545.4 465.3 544.1 466.6 542.9 468.2 542.1 469.0 541.9 470.2 541.8 471.7 541.7 473.4 541.7 475.1 541.7 476.9 541.5 478.7 541.2 480.4 540.5 482.1 539.5 483.6 538.2 485.0 536.8 486.3 535.3 487.4 533.7 488.3 532.0 488.9 530.3 489.3 528.5 489.4 526.6 489.3 524.7 489.0 522.8 488.6 521.0 488.0 519.4 487.1 517.9 485.8 516.3 484.0 515.1 482.0 514.2 479.7 513.9 477.6 514.1 475.9 514.7 474.3 515.6 472.7 516.6 471.1 517.9 469.6 519.3 468.3 520.9 467.2 522.6 466.4 524.1 465.8 525.6 465.2 527.3 464.8 529.1 464.4 530.9 464.1 532.6 463.9 534.3 463.8 535.9 463.9 537.4 464.2 539.6 464.9 541.7 466.0 543.6 467.5 545.3 469.4 546.5 470.8 547.1 472.3 547.5 473.9 547.9 475.6 548.1 477.3 548.3 479.1 548.4 480.8 548.4 482.6 548.4 484.2 548.2 485.9 547.9 487.6 547.6 489.3 547.1 490.9 546.5 492.6 545.9 494.2 545.3 495.7 544.6 497.0 544.0 498.4 543.3 500.2 542.2 501.8 541.0 503.3 539.7 504.5 538.5 505.4 537.6 506.1 536.9 A1.6 1.6 0 0 0 504.1 534.5 L504.1 534.5 503.3 535.2 502.2 536.1 501.0 537.1 499.7 538.2 498.2 539.2 496.6 540.1 495.5 540.6 494.1 541.2 492.7 541.8 491.2 542.3 489.7 542.9 488.2 543.3 486.7 543.7 485.2 544.0 483.8 544.2 482.3 544.3 480.8 544.4 479.2 544.3 477.6 544.3 476.1 544.1 474.6 543.9 473.3 543.6 472.2 543.3 471.4 542.9 470.1 542.1 469.2 541.2 468.6 540.1 468.2 538.7 467.9 537.0 467.9 536.0 468.0 534.6 468.1 533.2 468.4 531.6 468.7 530.0 469.1 528.5 469.6 527.0 470.1 525.7 470.6 524.6 471.5 523.3 472.6 522.1 473.8 520.9 475.1 519.9 476.4 519.0 477.6 518.4 478.4 518.1 479.7 517.9 480.8 518.1 482.0 518.6 483.1 519.3 483.9 520.3 484.3 521.1 484.7 522.2 485.1 523.6 485.3 525.1 485.4 526.6 485.3 527.9 485.1 529.1 484.6 530.3 483.9 531.6 483.0 532.8 482.0 534.1 480.9 535.2 479.7 536.2 478.6 536.9 477.6 537.3 476.4 537.5 474.9 537.6 473.3 537.7 471.6 537.7 469.9 537.7 468.3 537.9 466.6 538.3 464.3 539.6 462.4 541.3 461.2 542.7 460.4 543.7 A2.0 2.0 0 0 0 463.4 546.3 Z M518.7 494.0 518.4 494.9 518.0 496.1 517.5 497.6 517.0 499.2 516.4 501.0 515.9 502.8 515.4 504.5 515.1 506.0 514.7 507.6 514.3 509.3 514.0 511.0 513.6 512.7 513.3 514.4 513.0 516.1 512.7 517.7 512.5 519.3 512.3 520.8 512.1 522.4 511.9 523.9 511.8 525.5 511.7 527.0 511.6 528.5 511.6 530.0 511.6 531.7 511.7 533.4 511.7 535.2 511.9 536.9 512.1 538.6 512.3 540.2 512.7 541.7 513.6 544.0 514.8 546.0 516.2 547.6 518.0 549.0 520.6 549.7 523.1 549.5 524.6 549.3 A1.8 1.8 0 0 0 524.4 545.7 L524.4 545.7 523.0 545.6 521.2 545.5 520.0 545.0 519.4 544.4 518.6 543.4 517.9 542.0 517.3 540.3 517.0 539.2 516.8 537.9 516.6 536.5 516.5 534.9 516.4 533.3 516.4 531.6 516.4 530.0 516.4 528.6 516.4 527.2 516.5 525.8 516.6 524.3 516.7 522.9 516.9 521.4 517.1 519.9 517.3 518.3 517.5 516.8 517.7 515.1 518.0 513.5 518.3 511.8 518.6 510.2 518.9 508.6 519.2 507.0 519.6 505.5 519.9 503.8 520.4 502.1 520.8 500.3 521.3 498.7 521.7 497.2 522.0 496.0 522.3 495.0 A1.8 1.8 0 0 0 518.7 494.0 Z M650.4 492.5 651.4 492.3 652.5 492.2 653.9 492.0 655.5 491.7 657.2 491.5 659.0 491.2 660.8 490.9 662.7 490.6 664.5 490.3 666.3 490.1 668.0 489.8 669.5 489.6 671.1 489.3 672.6 489.0 674.1 488.8 675.6 488.5 677.1 488.3 678.7 488.0 680.2 487.8 681.7 487.6 683.2 487.4 684.8 487.2 686.3 487.0 687.9 486.9 689.7 486.7 691.5 486.6 693.3 486.4 695.2 486.3 697.0 486.2 698.8 486.1 700.4 486.1 702.0 486.0 703.3 486.0 704.4 486.1 704.5 485.9 705.2 486.0 704.5 485.7 A2.1 2.1 0 0 0 708.3 487.7 L708.3 487.7 709.2 484.6 706.5 482.1 704.6 481.8 703.3 481.8 701.9 481.8 700.3 481.8 698.6 481.9 696.8 482.0 694.9 482.1 693.0 482.2 691.2 482.3 689.3 482.5 687.6 482.6 685.9 482.8 684.3 483.0 682.7 483.2 681.1 483.4 679.5 483.6 678.0 483.8 676.4 484.1 674.9 484.4 673.4 484.6 671.9 484.9 670.4 485.1 668.9 485.4 667.4 485.6 665.7 485.9 663.9 486.1 662.0 486.4 660.2 486.7 658.3 487.0 656.5 487.3 654.8 487.5 653.3 487.8 651.9 488.0 650.7 488.2 649.8 488.3 A2.1 2.1 0 0 0 650.4 492.5 Z M661.9 483.9 661.8 484.8 661.8 485.9 661.7 487.1 661.6 488.5 661.5 490.1 661.4 491.7 661.3 493.4 661.2 495.2 661.1 497.1 661.1 498.9 661.0 500.8 660.9 502.6 660.9 504.4 660.9 506.1 660.9 507.6 660.9 509.1 660.9 510.6 661.0 512.2 661.0 513.8 661.1 515.4 661.1 517.0 661.2 518.5 661.3 520.1 661.4 521.7 661.4 523.2 661.5 524.7 661.6 526.2 661.7 527.6 661.8 528.9 661.9 530.3 662.0 532.1 662.2 534.0 662.4 535.8 662.6 537.6 662.8 539.3 663.0 540.9 663.1 542.5 663.3 543.8 663.5 545.1 663.6 546.1 663.7 546.9 A2.1 2.1 0 0 0 667.9 546.5 L667.9 546.5 667.8 545.6 667.7 544.5 667.5 543.3 667.3 541.9 667.2 540.4 667.0 538.8 666.8 537.1 666.6 535.4 666.4 533.6 666.2 531.8 666.1 529.9 666.0 528.7 665.9 527.3 665.8 525.9 665.8 524.5 665.7 523.0 665.6 521.4 665.5 519.9 665.4 518.3 665.4 516.8 665.3 515.2 665.3 513.6 665.2 512.1 665.2 510.5 665.1 509.0 665.1 507.5 665.1 506.1 665.1 504.4 665.2 502.7 665.2 500.9 665.3 499.1 665.4 497.3 665.5 495.4 665.6 493.7 665.6 491.9 665.7 490.3 665.8 488.8 665.9 487.4 666.0 486.1 666.1 485.0 666.1 484.1 A2.1 2.1 0 0 0 661.9 483.9 Z M655.5 521.9 656.3 522.0 657.5 522.2 658.9 522.4 660.5 522.6 662.3 522.8 664.1 522.9 666.0 523.0 667.8 522.9 669.5 522.8 671.1 522.5 672.8 522.2 674.5 521.9 676.1 521.5 677.8 521.1 679.5 520.8 681.2 520.4 682.8 520.1 684.3 519.8 686.0 519.5 687.7 519.2 689.4 518.8 691.1 518.5 692.7 518.2 694.2 517.9 695.6 517.7 696.7 517.5 697.6 517.3 A2.0 2.0 0 0 0 696.8 513.3 L696.8 513.3 695.9 513.5 694.8 513.7 693.5 513.9 692.0 514.2 690.3 514.5 688.6 514.9 686.9 515.2 685.2 515.5 683.6 515.8 682.0 516.1 680.3 516.5 678.6 516.8 676.9 517.2 675.3 517.6 673.6 517.9 672.0 518.3 670.5 518.5 669.0 518.7 667.6 518.9 666.0 518.9 664.3 518.9 662.7 518.7 661.0 518.6 659.5 518.4 658.1 518.2 656.9 518.0 655.9 517.9 A2.0 2.0 0 0 0 655.5 521.9 Z M737.3 474.9 735.9 473.7 732.9 471.9 729.4 472.8 728.0 474.3 727.4 475.3 726.7 476.5 726.0 477.8 725.3 479.3 724.7 480.8 724.0 482.4 723.4 484.0 722.7 485.7 722.1 487.3 721.5 489.0 720.9 490.6 720.4 491.9 720.0 493.3 719.5 494.7 719.1 496.1 718.7 497.6 718.2 499.0 717.8 500.5 717.4 502.0 717.0 503.5 716.7 505.0 716.3 506.5 715.9 508.1 715.6 509.6 715.2 511.1 714.9 512.7 714.6 514.3 714.2 515.9 713.9 517.6 713.5 519.3 713.2 521.0 712.9 522.7 712.6 524.3 712.3 526.0 712.1 527.7 711.9 529.3 711.7 530.8 711.6 532.3 711.6 533.8 711.6 535.8 711.8 537.7 712.1 539.5 712.4 541.3 712.8 543.0 713.2 544.6 713.7 546.0 714.3 547.4 714.9 548.6 715.7 549.9 717.4 551.6 719.6 552.6 721.7 552.9 723.6 552.8 725.4 552.5 727.5 551.7 729.4 550.4 730.9 549.2 731.8 548.4 A2.2 2.2 0 0 0 729.0 545.0 L729.0 545.0 728.0 545.8 726.7 546.9 725.4 547.8 724.2 548.3 723.2 548.4 721.9 548.5 720.8 548.3 719.9 548.0 719.1 547.1 718.8 546.5 718.3 545.6 717.9 544.5 717.4 543.2 717.0 541.9 716.7 540.4 716.4 538.8 716.2 537.2 716.1 535.5 716.0 533.8 716.0 532.5 716.1 531.2 716.3 529.7 716.4 528.2 716.7 526.7 716.9 525.1 717.2 523.4 717.5 521.8 717.8 520.1 718.2 518.5 718.5 516.8 718.9 515.2 719.2 513.6 719.6 512.1 719.9 510.6 720.2 509.1 720.6 507.6 720.9 506.1 721.3 504.6 721.7 503.1 722.1 501.7 722.5 500.2 722.9 498.8 723.3 497.4 723.8 496.0 724.2 494.7 724.6 493.3 725.1 492.0 725.6 490.5 726.2 488.9 726.8 487.3 727.5 485.7 728.1 484.1 728.7 482.5 729.4 481.1 730.0 479.8 730.6 478.6 731.2 477.6 731.7 476.8 731.4 476.8 732.2 476.3 733.2 477.2 734.5 478.3 A2.2 2.2 0 0 0 737.3 474.9 Z M738.4 506.7 738.6 507.6 738.9 508.7 739.3 510.2 739.6 511.8 740.1 513.5 740.6 515.3 741.1 517.1 741.7 518.8 742.4 520.5 743.2 522.0 744.2 523.6 745.3 525.0 746.4 526.4 747.7 527.6 748.9 528.7 750.3 529.8 751.6 530.8 753.0 531.9 754.4 532.8 755.8 533.8 757.3 534.7 758.9 535.6 760.5 536.5 762.0 537.3 763.5 538.0 764.9 538.7 766.2 539.4 768.2 540.3 770.1 541.1 771.9 541.8 773.5 542.4 774.8 542.8 775.7 543.2 A2.2 2.2 0 0 0 777.3 539.0 L777.3 539.0 776.3 538.7 775.0 538.2 773.4 537.6 771.7 537.0 770.0 536.2 768.2 535.4 766.9 534.8 765.5 534.1 764.0 533.3 762.6 532.6 761.1 531.7 759.6 530.9 758.2 530.0 756.8 529.2 755.6 528.3 754.3 527.3 753.0 526.3 751.8 525.4 750.7 524.4 749.7 523.3 748.7 522.2 747.8 521.1 747.0 519.8 746.4 518.7 745.9 517.3 745.3 515.7 744.8 514.1 744.4 512.4 743.9 510.7 743.5 509.1 743.2 507.7 742.9 506.4 742.6 505.5 A2.2 2.2 0 0 0 738.4 506.7 Z M770.0 489.3 769.5 490.1 769.0 491.0 768.4 492.1 767.6 493.3 766.9 494.7 766.0 496.1 765.2 497.6 764.3 499.1 763.4 500.7 762.5 502.3 761.6 503.8 760.7 505.4 759.9 506.9 759.1 508.2 758.4 509.5 757.6 510.8 756.9 512.2 756.1 513.6 755.3 515.1 754.5 516.5 753.7 517.9 753.0 519.3 752.2 520.7 751.5 522.1 750.7 523.4 750.0 524.8 749.4 526.0 748.7 527.2 747.9 528.8 747.1 530.4 746.3 531.9 745.5 533.4 744.8 534.9 744.1 536.3 743.4 537.6 742.8 538.9 742.3 540.1 741.8 541.2 741.3 542.3 740.4 545.3 740.2 547.3 740.2 548.4 A2.1 2.1 0 0 0 744.4 548.6 L744.4 548.6 744.4 547.5 744.5 546.2 745.3 543.7 745.7 542.9 746.1 541.8 746.6 540.7 747.2 539.5 747.9 538.1 748.6 536.8 749.3 535.3 750.0 533.9 750.8 532.3 751.6 530.8 752.5 529.2 753.1 528.0 753.8 526.7 754.5 525.4 755.2 524.1 755.9 522.7 756.7 521.4 757.4 519.9 758.2 518.5 759.0 517.1 759.8 515.7 760.6 514.3 761.3 512.9 762.1 511.5 762.8 510.2 763.5 508.9 764.4 507.5 765.2 505.9 766.1 504.4 767.0 502.8 767.9 501.2 768.8 499.7 769.7 498.2 770.5 496.8 771.3 495.5 772.0 494.3 772.6 493.2 773.2 492.2 773.6 491.5 A2.1 2.1 0 0 0 770.0 489.3 Z M786.0 478.8 787.0 479.1 788.3 479.4 789.7 479.7 791.2 480.1 792.7 480.6 794.0 481.2 795.3 482.1 796.1 482.9 797.0 483.7 797.9 484.7 798.8 485.8 799.7 487.0 800.6 488.2 801.5 489.6 802.3 491.0 803.1 492.5 803.9 494.2 804.4 495.3 804.9 496.6 805.4 497.9 805.9 499.3 806.4 500.8 806.9 502.2 807.4 503.8 807.9 505.3 808.3 506.9 808.7 508.4 809.1 509.9 809.4 511.4 809.7 512.9 809.9 514.3 810.1 515.6 810.3 517.2 810.5 518.9 810.6 520.5 810.6 522.1 810.7 523.6 810.6 525.1 810.5 526.6 810.4 528.1 810.2 529.4 810.0 530.7 809.7 531.9 809.3 533.0 808.8 534.4 808.1 535.6 807.2 536.8 806.2 538.0 805.2 539.1 804.0 540.1 802.9 541.2 801.8 542.1 800.8 543.1 799.3 544.3 797.9 545.4 796.4 546.3 795.0 547.2 793.7 547.9 792.8 548.4 A2.3 2.3 0 0 0 795.2 552.4 L795.2 552.4 796.1 551.8 797.3 551.1 798.8 550.2 800.5 549.2 802.2 547.9 803.8 546.5 804.9 545.6 806.0 544.6 807.2 543.5 808.4 542.3 809.6 541.0 810.8 539.6 811.9 538.1 812.9 536.4 813.7 534.6 814.1 533.1 814.5 531.7 814.7 530.2 815.0 528.6 815.1 527.0 815.2 525.3 815.3 523.7 815.2 522.0 815.2 520.2 815.1 518.5 814.9 516.7 814.7 515.0 814.5 513.5 814.2 512.0 813.9 510.5 813.5 508.9 813.1 507.3 812.7 505.7 812.3 504.1 811.8 502.4 811.3 500.9 810.8 499.3 810.3 497.8 809.7 496.3 809.2 494.9 808.6 493.5 808.1 492.2 807.2 490.5 806.3 488.8 805.4 487.2 804.4 485.6 803.4 484.2 802.4 482.9 801.4 481.7 800.3 480.5 799.3 479.5 798.1 478.5 796.4 477.3 794.5 476.3 792.6 475.7 790.8 475.2 789.3 474.9 788.1 474.6 787.2 474.4 A2.3 2.3 0 0 0 786.0 478.8 Z M828.8 521.8 829.8 521.4 831.0 520.9 832.4 520.4 834.0 519.8 835.7 519.2 837.6 518.6 839.6 518.2 840.9 518.0 842.4 517.8 844.1 517.6 845.9 517.4 847.8 517.2 849.7 517.1 851.6 516.9 853.3 516.8 855.0 516.7 856.5 516.6 857.7 516.5 858.7 516.4 A2.0 2.0 0 0 0 858.3 512.4 L858.3 512.4 857.4 512.5 856.2 512.6 854.7 512.7 853.0 512.8 851.3 512.9 849.4 513.1 847.5 513.2 845.6 513.4 843.7 513.6 841.9 513.8 840.3 514.0 838.8 514.2 836.6 514.7 834.5 515.3 832.6 515.9 830.9 516.6 829.5 517.2 828.3 517.7 827.4 518.0 A2.0 2.0 0 0 0 828.8 521.8 Z M830.5 535.8 831.4 535.9 832.5 536.2 833.9 536.4 835.4 536.7 837.2 537.0 839.0 537.3 840.8 537.5 842.7 537.6 844.2 537.6 845.8 537.6 847.5 537.5 849.3 537.5 851.1 537.3 852.9 537.2 854.5 537.1 856.1 537.0 857.5 536.9 858.6 536.8 859.5 536.7 A2.0 2.0 0 0 0 859.3 532.7 L859.3 532.7 858.4 532.7 857.2 532.8 855.8 532.9 854.2 533.1 852.6 533.2 850.8 533.3 849.1 533.4 847.3 533.5 845.7 533.6 844.2 533.6 842.9 533.6 841.2 533.5 839.5 533.3 837.8 533.0 836.2 532.8 834.7 532.5 833.3 532.2 832.2 532.0 831.3 531.8 A2.0 2.0 0 0 0 830.5 535.8 Z M890.2 530.2 891.1 530.2 892.2 530.2 893.5 530.1 895.0 530.1 896.6 530.0 898.4 530.0 900.2 530.0 902.1 529.9 904.0 529.9 905.3 529.9 906.8 529.9 908.4 530.0 910.1 530.0 911.9 530.0 913.7 530.0 915.4 530.1 917.2 530.1 918.9 530.1 920.4 530.1 921.9 530.2 923.2 530.2 924.3 530.2 925.2 530.2 A2.0 2.0 0 0 0 925.2 526.2 L925.2 526.2 924.4 526.2 923.3 526.1 922.0 526.1 920.5 526.1 918.9 526.1 917.2 526.0 915.5 526.0 913.7 526.0 911.9 526.0 910.2 525.9 908.5 525.9 906.8 525.9 905.3 525.9 904.0 525.9 902.0 525.9 900.1 525.9 898.3 525.9 896.5 526.0 894.9 526.0 893.4 526.1 892.1 526.1 890.9 526.2 890.0 526.2 A2.0 2.0 0 0 0 890.2 530.2 Z M947.0 485.5 947.6 484.9 948.4 484.2 950.8 483.2 951.7 483.0 952.9 482.7 954.2 482.4 955.6 482.1 957.2 481.7 958.8 481.4 960.5 481.1 962.2 480.8 963.9 480.5 965.6 480.2 967.3 479.9 968.9 479.6 970.4 479.3 972.0 479.0 973.7 478.8 975.4 478.5 977.0 478.3 978.7 478.0 980.3 477.8 981.9 477.6 983.4 477.4 984.8 477.2 986.1 477.0 987.2 476.9 989.6 476.7 991.6 476.5 993.1 476.5 994.0 476.6 993.5 475.9 993.4 475.9 992.6 477.2 991.4 478.6 990.2 479.6 A2.1 2.1 0 0 0 993.0 482.8 L993.0 482.8 994.4 481.5 996.0 479.6 997.5 477.0 997.1 473.7 994.8 472.4 993.2 472.3 991.4 472.3 989.3 472.5 986.8 472.7 985.6 472.8 984.2 473.0 982.8 473.2 981.3 473.4 979.7 473.6 978.1 473.8 976.4 474.1 974.7 474.3 973.0 474.6 971.4 474.9 969.7 475.1 968.1 475.4 966.6 475.7 964.9 476.0 963.2 476.3 961.5 476.6 959.7 476.9 958.0 477.3 956.4 477.6 954.8 477.9 953.3 478.2 951.9 478.6 950.6 478.9 949.4 479.2 946.4 480.4 944.8 481.7 944.0 482.5 A2.1 2.1 0 0 0 947.0 485.5 Z M950.7 485.7 950.6 486.5 950.6 487.5 950.5 488.7 950.4 490.0 950.3 491.4 950.2 492.9 950.1 494.6 950.0 496.3 950.0 498.1 949.9 500.0 949.8 502.0 949.8 504.0 949.8 506.1 949.8 507.4 949.8 508.8 949.8 510.3 949.9 511.8 949.9 513.5 949.9 515.2 950.0 516.9 950.0 518.7 950.1 520.5 950.1 522.3 950.2 524.0 950.2 525.8 950.3 527.5 950.3 529.2 950.4 530.8 950.5 532.4 950.5 533.8 950.6 535.2 950.6 536.4 950.6 537.5 950.7 538.5 950.7 539.4 A2.1 2.1 0 0 0 954.9 539.2 L954.9 539.2 954.9 538.4 954.9 537.4 954.8 536.3 954.8 535.0 954.7 533.7 954.7 532.2 954.6 530.7 954.6 529.1 954.5 527.4 954.5 525.7 954.4 523.9 954.4 522.1 954.3 520.3 954.2 518.6 954.2 516.8 954.2 515.1 954.1 513.4 954.1 511.8 954.1 510.2 954.0 508.7 954.0 507.4 954.0 506.1 954.0 504.1 954.1 502.1 954.1 500.2 954.2 498.3 954.3 496.5 954.4 494.8 954.5 493.2 954.5 491.7 954.6 490.3 954.7 489.0 954.8 487.8 954.9 486.8 954.9 485.9 A2.1 2.1 0 0 0 950.7 485.7 Z M948.3 515.5 949.2 515.5 950.5 515.4 952.0 515.4 953.8 515.2 955.8 515.0 957.8 514.6 959.2 514.2 960.6 513.8 962.0 513.4 963.5 512.9 965.1 512.4 966.7 511.9 968.2 511.3 969.8 510.8 971.3 510.3 972.8 509.8 974.4 509.3 976.0 508.8 977.7 508.3 979.4 507.8 981.1 507.2 982.7 506.7 984.2 506.3 985.6 505.9 986.7 505.5 987.6 505.2 A2.0 2.0 0 0 0 986.4 501.4 L986.4 501.4 985.5 501.6 984.4 502.0 983.0 502.4 981.5 502.9 979.9 503.4 978.2 503.9 976.5 504.4 974.8 505.0 973.1 505.5 971.6 506.0 970.1 506.5 968.5 507.0 966.9 507.5 965.4 508.0 963.8 508.6 962.3 509.1 960.8 509.5 959.4 510.0 958.1 510.3 957.0 510.6 955.1 511.0 953.4 511.2 951.8 511.3 950.3 511.4 949.1 511.4 948.1 511.5 A2.0 2.0 0 0 0 948.3 515.5 Z M981.3 525.9 981.1 526.8 980.8 528.1 980.3 529.7 979.9 531.5 979.4 533.3 979.1 534.6 978.6 536.1 978.0 537.7 977.4 539.5 977.0 541.3 976.7 543.1 976.7 545.0 977.0 547.0 977.6 549.0 978.4 550.9 979.5 552.6 980.7 554.2 982.0 555.6 983.6 556.6 985.4 557.3 987.2 557.7 989.1 558.0 990.9 558.0 992.7 557.9 994.3 557.7 996.0 557.3 997.8 556.8 999.5 556.2 1001.1 555.5 1002.6 554.7 1003.9 553.7 1005.3 552.3 1006.4 550.6 1007.1 548.7 1007.4 546.7 1007.4 544.7 1007.3 543.1 1007.0 541.3 1006.5 539.5 1005.9 537.6 1005.2 535.8 1004.3 534.1 1003.3 532.5 1002.0 531.2 1000.6 530.0 999.0 529.0 997.5 528.2 995.9 527.5 994.5 526.9 993.2 526.3 991.0 525.6 988.9 525.2 987.3 525.1 986.2 525.0 A2.0 2.0 0 0 0 985.8 529.0 L985.8 529.0 986.9 529.1 988.4 529.3 990.0 529.5 991.8 530.1 992.9 530.6 994.3 531.2 995.6 531.8 997.0 532.5 998.2 533.3 999.3 534.2 1000.1 535.1 1000.8 536.1 1001.5 537.5 1002.1 539.0 1002.6 540.6 1003.0 542.2 1003.3 543.6 1003.4 544.9 1003.4 546.4 1003.1 547.7 1002.7 548.8 1002.1 549.8 1001.3 550.7 1000.5 551.3 999.3 551.9 998.0 552.5 996.5 553.0 995.0 553.4 993.6 553.7 992.3 553.9 990.8 554.0 989.3 553.9 987.9 553.8 986.6 553.5 985.5 553.0 984.6 552.4 983.7 551.6 982.8 550.4 982.1 549.1 981.4 547.6 981.0 546.1 980.7 544.6 980.7 543.5 980.9 542.1 981.3 540.6 981.8 539.0 982.4 537.4 982.9 535.8 983.4 534.3 983.8 532.5 984.3 530.7 984.7 529.2 985.0 527.9 985.3 526.9 A2.0 2.0 0 0 0 981.3 525.9 Z M1054.1 512.2 1053.4 511.4 1052.6 510.1 1051.5 508.6 1050.2 507.0 1048.7 505.5 1047.1 504.3 1045.5 503.5 1043.8 502.8 1042.0 502.3 1040.1 502.0 1038.2 502.0 1036.3 502.2 1034.6 502.7 1033.0 503.4 1031.3 504.2 1029.8 505.2 1028.3 506.2 1027.0 507.3 1025.8 508.5 1024.7 510.2 1023.9 512.1 1023.4 514.0 1023.4 515.9 1023.7 517.8 1024.3 519.4 1025.3 520.9 1026.6 522.2 1028.2 523.4 1030.2 524.6 1031.4 525.2 1032.8 525.7 1034.3 526.3 1035.9 526.8 1037.5 527.3 1039.1 527.9 1040.7 528.4 1042.3 529.0 1043.8 529.5 1045.1 530.1 1046.7 530.9 1048.3 531.6 1049.9 532.4 1051.5 533.2 1053.1 534.1 1054.5 534.9 1055.7 535.7 1056.7 536.4 1057.3 536.9 1058.3 538.4 1058.6 539.5 1058.4 540.7 1057.9 542.1 1057.4 542.9 1056.6 543.9 1055.6 544.9 1054.4 546.0 1053.1 547.0 1051.8 547.8 1050.6 548.5 1049.3 549.0 1047.9 549.4 1046.3 549.8 1044.7 550.0 1043.2 550.1 1041.8 550.2 1040.7 550.1 1038.8 549.8 1037.4 549.3 1036.5 548.6 1035.9 547.6 1035.8 547.0 1035.8 545.7 1035.8 544.1 1036.0 542.4 1036.3 540.8 1036.6 539.2 1036.9 538.1 1037.6 536.5 1038.5 535.3 1039.5 534.1 1040.2 533.3 A2.1 2.1 0 0 0 1037.0 530.5 L1037.0 530.5 1036.3 531.4 1035.1 532.6 1033.9 534.5 1032.9 536.7 1032.5 538.3 1032.1 540.0 1031.8 541.9 1031.6 543.8 1031.5 545.7 1031.6 547.5 1032.1 549.4 1033.4 551.5 1035.5 553.0 1037.8 553.9 1040.1 554.3 1041.7 554.4 1043.4 554.4 1045.2 554.2 1047.1 553.9 1048.9 553.5 1050.7 553.0 1052.4 552.3 1054.0 551.5 1055.6 550.4 1057.1 549.2 1058.5 548.0 1059.8 546.7 1060.8 545.3 1061.7 543.9 1062.6 541.6 1062.8 539.1 1062.1 536.5 1060.5 534.3 1059.4 533.1 1058.1 532.2 1056.7 531.3 1055.1 530.4 1053.5 529.5 1051.8 528.6 1050.1 527.8 1048.5 527.0 1046.9 526.3 1045.4 525.6 1043.7 525.0 1042.1 524.4 1040.4 523.9 1038.8 523.3 1037.2 522.8 1035.7 522.3 1034.4 521.8 1033.2 521.3 1032.2 520.8 1030.5 519.9 1029.4 519.0 1028.6 518.2 1028.1 517.4 1027.7 516.6 1027.6 515.7 1027.6 514.6 1027.9 513.4 1028.4 512.2 1029.2 511.1 1029.9 510.4 1030.9 509.6 1032.1 508.7 1033.4 507.9 1034.7 507.2 1036.0 506.7 1037.1 506.4 1038.4 506.2 1039.7 506.3 1041.1 506.5 1042.5 506.8 1043.8 507.3 1044.9 507.9 1045.9 508.7 1047.0 509.8 1048.1 511.2 1049.1 512.6 1050.0 513.9 1050.7 514.8 A2.1 2.1 0 0 0 1054.1 512.2 Z M1072.7 496.0 1072.7 497.0 1072.7 498.0 A0.9 0.9 0 0 0 1074.5 498.0 L1074.5 498.0 1074.5 497.0 1074.5 496.0 A0.9 0.9 0 0 0 1072.7 496.0 Z M1071.6 513.6 1071.6 514.6 1071.7 515.9 1071.8 517.4 1071.9 519.1 1072.0 521.0 1072.1 522.9 1072.2 524.8 1072.3 526.6 1072.5 528.4 1072.7 530.1 1072.9 532.0 1073.1 533.9 1073.4 535.9 1073.6 537.7 1073.9 539.4 1074.1 541.0 1074.3 542.3 1074.4 543.3 A2.0 2.0 0 0 0 1078.4 542.7 L1078.4 542.7 1078.3 541.7 1078.1 540.4 1077.9 538.9 1077.6 537.2 1077.4 535.3 1077.1 533.4 1076.9 531.5 1076.7 529.7 1076.5 528.0 1076.4 526.3 1076.2 524.5 1076.1 522.6 1076.0 520.7 1075.9 518.9 1075.8 517.2 1075.7 515.7 1075.7 514.4 1075.6 513.4 A2.0 2.0 0 0 0 1071.6 513.6 Z M1092.1 541.7 1092.4 540.6 1092.8 539.2 1093.3 537.6 1093.8 535.9 1094.4 534.1 1095.0 532.5 1095.7 531.1 1096.5 529.7 1097.4 528.4 1098.3 527.1 1099.4 525.8 1100.4 524.6 1101.5 523.5 1102.6 522.4 1103.8 521.4 1105.1 520.5 1106.5 519.6 1107.8 518.7 1109.1 518.1 1110.2 517.6 1111.0 517.3 1112.4 517.0 1112.6 517.0 1113.3 518.2 1113.5 518.8 1113.8 520.1 1114.0 521.6 1114.2 523.3 1114.4 525.1 1114.6 527.0 1114.8 528.7 1115.0 530.4 1115.2 532.0 1115.3 533.8 1115.5 535.5 1115.6 537.3 1115.9 539.0 1116.4 540.7 1117.2 542.4 1119.0 543.9 1121.1 544.9 1123.1 545.4 1124.7 545.6 1125.8 545.9 A2.0 2.0 0 0 0 1126.6 541.9 L1126.6 541.9 1125.5 541.7 1123.9 541.4 1122.3 541.0 1121.1 540.5 1120.4 539.8 1120.1 539.3 1119.9 538.2 1119.7 536.8 1119.5 535.2 1119.4 533.5 1119.2 531.6 1119.0 529.8 1118.8 528.3 1118.6 526.5 1118.4 524.7 1118.2 522.9 1118.0 521.0 1117.8 519.3 1117.4 517.8 1116.9 516.2 1115.2 513.9 1112.6 512.9 1110.0 513.3 1108.7 513.8 1107.3 514.4 1105.8 515.2 1104.3 516.2 1102.8 517.2 1101.3 518.3 1100.0 519.4 1098.7 520.6 1097.5 521.8 1096.3 523.2 1095.1 524.6 1094.0 526.1 1093.0 527.6 1092.1 529.1 1091.3 530.9 1090.6 532.8 1089.9 534.7 1089.4 536.5 1088.9 538.2 1088.6 539.5 1088.3 540.5 A2.0 2.0 0 0 0 1092.1 541.7 Z M1192.5 445.6 1191.7 446.1 1190.6 446.6 1189.3 447.3 1187.7 448.0 1186.0 449.0 1184.4 450.1 1182.7 451.3 1181.3 452.7 1180.4 453.9 1179.5 455.0 1178.7 456.2 1178.0 457.4 1177.2 458.7 1176.5 460.1 1175.8 461.6 1175.1 463.1 1174.4 464.6 1173.7 466.3 1172.9 468.0 1172.4 469.3 1171.9 470.6 1171.4 471.9 1170.8 473.3 1170.3 474.8 1169.7 476.2 1169.2 477.7 1168.7 479.3 1168.1 480.8 1167.6 482.4 1167.1 484.1 1166.6 485.7 1166.1 487.4 1165.6 489.0 1165.2 490.7 1164.7 492.4 1164.4 493.9 1164.0 495.4 1163.6 496.9 1163.3 498.5 1162.9 500.2 1162.5 501.8 1162.2 503.5 1161.8 505.2 1161.5 506.9 1161.1 508.6 1160.8 510.2 1160.6 511.9 1160.3 513.5 1160.1 515.1 1159.8 516.6 1159.7 518.1 1159.5 519.6 1159.4 520.9 1159.4 522.3 1159.4 524.3 1159.5 526.2 1159.7 528.0 1160.0 529.7 1160.3 531.2 1160.8 532.6 1161.3 534.0 1161.8 535.4 1162.4 536.6 1163.0 537.9 1163.6 539.3 1164.3 540.8 1165.1 542.4 1166.0 543.9 1167.0 545.5 1168.0 547.0 1169.1 548.4 1170.1 549.8 1171.2 551.1 1172.3 552.2 1173.5 553.4 1175.2 554.7 1177.2 555.8 1179.1 556.6 1181.0 557.2 1182.6 557.8 1183.9 558.2 1184.8 558.5 A2.0 2.0 0 0 0 1186.2 554.7 L1186.2 554.7 1185.2 554.3 1183.8 553.9 1182.2 553.4 1180.6 552.8 1179.0 552.1 1177.5 551.3 1176.1 550.2 1175.2 549.4 1174.3 548.4 1173.3 547.2 1172.3 546.0 1171.3 544.6 1170.4 543.3 1169.5 541.8 1168.7 540.4 1167.9 539.0 1167.2 537.5 1166.6 536.2 1166.1 535.0 1165.5 533.8 1165.0 532.6 1164.6 531.4 1164.2 530.1 1163.9 528.8 1163.7 527.4 1163.5 525.9 1163.4 524.2 1163.4 522.3 1163.5 521.2 1163.6 519.9 1163.7 518.6 1163.9 517.1 1164.1 515.7 1164.3 514.1 1164.5 512.6 1164.8 510.9 1165.1 509.3 1165.4 507.7 1165.8 506.0 1166.1 504.3 1166.5 502.7 1166.8 501.0 1167.2 499.4 1167.6 497.8 1167.9 496.3 1168.3 494.8 1168.7 493.4 1169.1 491.7 1169.5 490.1 1170.0 488.5 1170.5 486.9 1171.0 485.3 1171.5 483.7 1172.0 482.1 1172.5 480.6 1173.0 479.1 1173.5 477.6 1174.1 476.2 1174.6 474.8 1175.1 473.4 1175.7 472.1 1176.2 470.8 1176.7 469.6 1177.4 467.9 1178.1 466.3 1178.8 464.7 1179.4 463.3 1180.1 462.0 1180.8 460.7 1181.4 459.5 1182.1 458.4 1182.8 457.3 1183.6 456.4 1184.3 455.5 1185.4 454.4 1186.7 453.4 1188.1 452.4 1189.6 451.6 1191.0 450.9 1192.4 450.2 1193.6 449.7 1194.5 449.2 A2.0 2.0 0 0 0 1192.5 445.6 Z M1221.6 435.3 1222.3 434.5 1223.3 433.3 1224.4 432.1 1225.5 431.0 1226.5 430.3 1228.0 429.6 1229.5 429.1 1230.8 428.9 1231.4 429.0 1232.0 429.5 1232.6 430.7 1233.1 432.3 1233.2 434.1 1233.0 435.1 1232.7 436.3 1232.2 437.8 1231.6 439.3 1230.9 440.8 1230.1 442.4 1229.3 443.9 1228.5 445.2 1227.6 446.6 1226.5 448.0 1225.4 449.4 1224.3 450.8 1223.3 452.1 1222.3 453.3 1221.6 454.2 1219.5 456.1 1217.5 457.6 1217.5 460.7 1219.5 461.4 1220.8 461.4 1222.3 461.3 1224.0 461.1 1225.9 460.9 1227.7 460.6 1229.6 460.2 1231.3 459.9 1232.9 459.5 1234.5 459.1 1236.3 458.6 1238.0 458.0 1239.7 457.5 1241.3 457.0 1242.8 456.5 1243.9 456.1 1244.8 455.9 A1.8 1.8 0 0 0 1243.8 452.3 L1243.8 452.3 1242.8 452.6 1241.6 453.0 1240.2 453.5 1238.6 454.0 1236.9 454.5 1235.2 455.0 1233.5 455.5 1232.0 456.0 1230.5 456.3 1228.9 456.6 1227.1 456.9 1225.3 457.2 1223.6 457.5 1222.0 457.7 1220.7 457.8 1219.7 457.8 1220.3 458.3 1220.3 460.0 1221.9 458.9 1224.2 456.8 1225.2 455.7 1226.1 454.5 1227.2 453.1 1228.3 451.7 1229.5 450.2 1230.6 448.7 1231.6 447.2 1232.5 445.7 1233.4 444.1 1234.2 442.4 1235.0 440.7 1235.7 439.0 1236.2 437.4 1236.6 435.8 1236.8 434.1 1236.7 431.7 1236.0 429.3 1234.9 427.3 1233.2 425.8 1230.9 425.2 1228.7 425.5 1226.6 426.2 1224.7 427.1 1223.2 428.2 1221.8 429.5 1220.5 430.9 1219.5 432.1 1218.8 432.9 A1.8 1.8 0 0 0 1221.6 435.3 Z M1241.7 431.9 1242.6 431.9 1243.8 431.8 1245.3 431.7 1246.9 431.7 1248.6 431.6 1250.4 431.5 1252.3 431.4 1254.1 431.3 1256.0 431.2 1257.8 431.1 1259.3 431.1 1260.9 431.0 1262.7 431.0 1264.5 430.9 1266.3 430.8 1268.1 430.8 1269.9 430.7 1271.5 430.7 1273.0 430.6 1274.4 430.6 1275.5 430.6 1276.5 430.5 A1.8 1.8 0 0 0 1276.3 426.9 L1276.3 426.9 1275.4 426.9 1274.3 426.9 1272.9 427.0 1271.4 427.0 1269.7 427.1 1268.0 427.1 1266.2 427.2 1264.4 427.2 1262.6 427.3 1260.8 427.3 1259.2 427.4 1257.6 427.5 1255.8 427.5 1254.0 427.6 1252.1 427.7 1250.2 427.8 1248.4 427.9 1246.7 428.0 1245.1 428.1 1243.7 428.2 1242.5 428.2 1241.5 428.3 A1.8 1.8 0 0 0 1241.7 431.9 Z M1257.2 431.3 1257.1 432.2 1257.0 433.3 1256.9 434.7 1256.8 436.2 1256.7 437.9 1256.5 439.6 1256.4 441.4 1256.2 443.2 1256.1 445.1 1256.0 446.8 1255.9 448.5 1255.9 450.0 1255.8 451.8 1255.8 453.7 1255.8 455.6 1255.8 457.5 1255.8 459.3 1255.8 461.1 1255.8 462.7 1255.8 464.1 1255.9 465.3 1255.9 466.2 A1.8 1.8 0 0 0 1259.5 466.2 L1259.5 466.2 1259.5 465.2 1259.5 464.0 1259.5 462.6 1259.5 461.0 1259.5 459.3 1259.4 457.5 1259.4 455.6 1259.5 453.8 1259.5 451.9 1259.5 450.2 1259.6 448.7 1259.7 447.0 1259.8 445.3 1259.9 443.5 1260.1 441.7 1260.2 439.9 1260.3 438.1 1260.4 436.5 1260.6 435.0 1260.7 433.6 1260.8 432.5 1260.8 431.5 A1.8 1.8 0 0 0 1257.2 431.3 Z M1269.3 431.3 1269.2 432.2 1269.2 433.4 1269.1 434.7 1269.1 436.2 1269.0 437.9 1268.9 439.6 1268.9 441.4 1268.8 443.2 1268.7 445.0 1268.7 446.8 1268.7 448.5 1268.7 450.1 1268.7 451.8 1268.7 453.6 1268.8 455.5 1268.8 457.3 1268.9 459.2 1269.0 460.9 1269.0 462.6 1269.1 464.1 1269.2 465.5 1269.2 466.7 1269.3 467.6 A1.8 1.8 0 0 0 1272.9 467.4 L1272.9 467.4 1272.9 466.5 1272.8 465.3 1272.8 464.0 1272.7 462.4 1272.6 460.8 1272.6 459.0 1272.5 457.2 1272.4 455.4 1272.4 453.5 1272.4 451.8 1272.3 450.1 1272.3 448.5 1272.4 446.9 1272.4 445.1 1272.5 443.3 1272.5 441.5 1272.6 439.7 1272.7 438.0 1272.7 436.4 1272.8 434.9 1272.9 433.5 1272.9 432.4 1272.9 431.5 A1.8 1.8 0 0 0 1269.3 431.3 Z M1296.2 427.0 1296.7 427.9 1297.4 428.9 1298.2 430.3 1299.1 431.7 1300.1 433.2 1301.0 434.8 1302.0 436.3 1302.9 437.7 1303.7 439.1 1304.6 440.5 1305.4 441.9 1306.3 443.3 1307.2 444.7 1308.0 446.0 1308.8 447.3 1309.6 448.5 1310.9 450.3 1312.2 451.9 1313.3 453.3 1314.3 454.5 1315.0 455.3 A1.9 1.9 0 0 0 1318.0 452.9 L1318.0 452.9 1317.3 452.0 1316.3 450.9 1315.2 449.5 1314.0 447.9 1312.8 446.3 1312.0 445.2 1311.3 444.0 1310.4 442.7 1309.6 441.3 1308.7 439.9 1307.9 438.5 1307.0 437.1 1306.1 435.7 1305.3 434.3 1304.3 432.7 1303.3 431.2 1302.4 429.7 1301.5 428.2 1300.6 426.9 1300.0 425.8 1299.4 425.0 A1.9 1.9 0 0 0 1296.2 427.0 Z M1320.4 419.5 1319.8 420.1 1319.1 421.0 1318.3 422.0 1317.3 423.1 1316.3 424.3 1315.1 425.6 1314.0 427.0 1312.8 428.4 1311.6 429.8 1310.4 431.3 1309.2 432.7 1308.1 434.1 1307.0 435.5 1306.1 436.7 1305.2 437.9 1304.2 439.1 1303.3 440.4 1302.4 441.6 1301.4 442.9 1300.5 444.2 1299.6 445.4 1298.7 446.7 1297.8 448.0 1296.9 449.3 1296.0 450.6 1295.1 451.9 1294.3 453.2 1293.5 454.5 1292.6 455.9 1291.7 457.3 1290.8 458.9 1289.9 460.4 1289.0 462.0 1288.1 463.6 1287.2 465.1 1286.4 466.6 1285.6 468.0 1284.9 469.3 1284.2 470.5 1283.7 471.6 1283.1 472.5 1282.7 473.3 A1.9 1.9 0 0 0 1286.1 475.1 L1286.1 475.1 1286.5 474.4 1287.0 473.4 1287.6 472.4 1288.3 471.2 1289.0 469.8 1289.8 468.4 1290.6 467.0 1291.4 465.4 1292.3 463.9 1293.2 462.4 1294.1 460.8 1295.0 459.3 1295.9 457.9 1296.7 456.5 1297.5 455.3 1298.4 454.0 1299.2 452.8 1300.1 451.5 1301.0 450.2 1301.8 449.0 1302.7 447.7 1303.7 446.4 1304.6 445.2 1305.5 443.9 1306.4 442.7 1307.3 441.4 1308.2 440.2 1309.1 439.0 1310.0 437.9 1311.1 436.5 1312.2 435.1 1313.4 433.7 1314.5 432.3 1315.7 430.9 1316.9 429.5 1318.1 428.1 1319.2 426.8 1320.2 425.6 1321.2 424.5 1322.0 423.5 1322.8 422.7 1323.4 421.9 A1.9 1.9 0 0 0 1320.4 419.5 Z M1227.0 493.7 1227.8 493.7 1228.7 493.6 1229.7 493.6 1230.8 493.6 1232.0 493.5 1233.3 493.5 1234.7 493.4 1236.1 493.4 1237.6 493.3 1239.1 493.2 1240.7 493.2 1242.4 493.1 1244.1 493.0 1245.8 493.0 1247.6 492.9 1249.4 492.8 1251.2 492.7 1253.1 492.7 1254.9 492.6 1256.8 492.5 1258.6 492.4 1260.5 492.3 1261.8 492.2 1263.2 492.2 1264.6 492.1 1266.2 492.0 1267.7 491.9 1269.3 491.9 1271.0 491.8 1272.6 491.7 1274.3 491.6 1276.1 491.5 1277.8 491.4 1279.6 491.3 1281.4 491.2 1283.1 491.1 1284.9 491.0 1286.7 490.9 1288.4 490.8 1290.1 490.7 1291.8 490.6 1293.5 490.6 1295.1 490.5 1296.6 490.4 1298.2 490.3 1299.6 490.2 1301.0 490.1 1302.4 490.1 1303.6 490.0 1304.8 489.9 1305.9 489.9 1306.9 489.8 1307.8 489.8 1308.6 489.7 A2.1 2.1 0 0 0 1308.4 485.5 L1308.4 485.5 1307.6 485.5 1306.7 485.6 1305.7 485.6 1304.6 485.7 1303.4 485.8 1302.1 485.8 1300.8 485.9 1299.4 486.0 1297.9 486.1 1296.4 486.1 1294.8 486.2 1293.2 486.3 1291.6 486.4 1289.9 486.5 1288.2 486.6 1286.4 486.7 1284.7 486.8 1282.9 486.9 1281.1 487.0 1279.4 487.1 1277.6 487.2 1275.9 487.3 1274.1 487.4 1272.4 487.5 1270.7 487.5 1269.1 487.6 1267.5 487.7 1265.9 487.8 1264.4 487.9 1263.0 488.0 1261.6 488.0 1260.3 488.1 1258.4 488.2 1256.6 488.3 1254.7 488.3 1252.9 488.4 1251.0 488.5 1249.2 488.6 1247.4 488.7 1245.6 488.7 1243.9 488.8 1242.2 488.9 1240.6 488.9 1239.0 489.0 1237.4 489.1 1235.9 489.1 1234.5 489.2 1233.1 489.2 1231.9 489.3 1230.7 489.3 1229.6 489.4 1228.5 489.4 1227.6 489.5 1226.8 489.5 A2.1 2.1 0 0 0 1227.0 493.7 Z M1261.0 508.8 1260.9 509.8 1260.8 510.9 1260.7 512.3 1260.6 513.8 1260.4 515.5 1260.3 517.3 1260.1 519.1 1260.0 521.0 1259.8 523.0 1259.7 524.9 1259.6 526.3 1259.5 527.8 1259.4 529.5 1259.3 531.2 1259.2 533.0 1259.1 534.8 1258.9 536.6 1258.8 538.3 1258.7 540.0 1258.7 541.6 1258.6 543.0 1258.5 544.3 1258.4 545.4 1258.4 546.3 A2.0 2.0 0 0 0 1262.4 546.5 L1262.4 546.5 1262.5 545.6 1262.5 544.5 1262.6 543.3 1262.7 541.8 1262.8 540.2 1262.9 538.6 1263.0 536.8 1263.1 535.0 1263.2 533.2 1263.3 531.5 1263.4 529.7 1263.5 528.1 1263.6 526.5 1263.7 525.1 1263.9 523.3 1264.0 521.4 1264.1 519.5 1264.3 517.6 1264.4 515.8 1264.6 514.2 1264.7 512.6 1264.8 511.3 1264.9 510.1 1265.0 509.2 A2.0 2.0 0 0 0 1261.0 508.8 Z M1264.6 542.3 1265.2 541.6 1265.9 540.6 1266.8 539.4 1267.7 538.1 1268.8 536.7 1269.8 535.2 1270.9 533.8 1272.1 532.4 1273.1 531.2 1274.1 530.1 1275.0 529.2 1276.5 528.0 1278.1 526.8 1279.6 525.9 1281.0 525.1 1282.4 524.6 1283.4 524.3 1284.0 524.3 1284.7 524.6 1285.5 525.3 1286.4 526.4 1287.1 527.8 1287.6 529.2 1287.8 530.4 1287.7 531.4 1287.3 532.8 1286.7 534.2 1285.9 535.7 1285.0 537.2 1284.0 538.5 1283.0 539.6 1281.9 540.5 1280.6 541.3 1279.1 542.0 1277.5 542.7 1275.9 543.3 1274.3 543.9 1272.9 544.5 1270.8 545.5 1269.0 546.2 1267.5 546.8 1266.4 547.2 A2.0 2.0 0 0 0 1267.8 551.0 L1267.8 551.0 1268.9 550.6 1270.5 550.0 1272.4 549.2 1274.5 548.3 1275.8 547.7 1277.3 547.1 1279.0 546.5 1280.8 545.7 1282.6 544.9 1284.3 543.8 1285.8 542.6 1287.1 541.1 1288.3 539.5 1289.4 537.8 1290.4 535.9 1291.1 534.1 1291.6 532.2 1291.8 530.4 1291.6 528.3 1290.9 526.2 1289.8 524.2 1288.5 522.5 1286.8 521.1 1284.8 520.3 1282.9 520.3 1281.1 520.7 1279.3 521.4 1277.5 522.4 1275.8 523.5 1274.0 524.8 1272.4 526.2 1271.2 527.3 1270.1 528.5 1268.9 529.8 1267.8 531.3 1266.6 532.8 1265.5 534.3 1264.5 535.7 1263.5 537.0 1262.7 538.2 1262.0 539.1 1261.4 539.9 A2.0 2.0 0 0 0 1264.6 542.3 Z M1355.1 448.3 1355.5 449.1 1356.0 450.2 1356.7 451.3 1357.4 452.6 1358.1 454.0 1358.9 455.5 1359.7 457.2 1360.5 458.8 1361.2 460.6 1361.9 462.4 1362.5 464.2 1362.9 465.4 1363.2 466.7 1363.6 468.0 1364.0 469.4 1364.3 470.8 1364.7 472.2 1365.1 473.7 1365.4 475.2 1365.7 476.7 1366.1 478.3 1366.4 479.8 1366.7 481.4 1366.9 482.9 1367.2 484.5 1367.4 486.0 1367.6 487.5 1367.8 489.0 1367.9 490.5 1368.1 492.0 1368.2 493.6 1368.3 495.2 1368.4 496.7 1368.4 498.3 1368.5 499.9 1368.5 501.5 1368.5 503.1 1368.4 504.7 1368.4 506.3 1368.3 507.8 1368.2 509.4 1368.1 510.9 1368.0 512.4 1367.9 513.8 1367.7 515.3 1367.5 516.6 1367.3 518.3 1367.1 519.9 1366.8 521.6 1366.4 523.2 1366.1 524.8 1365.7 526.4 1365.3 528.0 1364.9 529.5 1364.5 530.9 1364.0 532.3 1363.5 533.7 1363.1 535.0 1362.6 536.2 1362.2 537.3 1361.4 539.0 1360.6 540.5 1359.7 541.8 1358.8 543.0 1357.9 544.2 1356.9 545.3 1355.9 546.4 1355.0 547.6 1353.8 549.0 1352.5 550.3 1351.3 551.5 1350.2 552.6 1349.3 553.6 1348.6 554.3 A2.1 2.1 0 0 0 1351.4 557.3 L1351.4 557.3 1352.2 556.7 1353.2 555.8 1354.4 554.7 1355.7 553.4 1357.1 552.1 1358.4 550.6 1359.4 549.6 1360.4 548.6 1361.5 547.5 1362.7 546.3 1363.9 544.9 1365.1 543.4 1366.2 541.5 1367.2 539.5 1367.8 538.2 1368.3 536.9 1368.8 535.6 1369.3 534.1 1369.8 532.6 1370.3 531.1 1370.8 529.5 1371.2 527.8 1371.6 526.1 1372.0 524.4 1372.4 522.7 1372.7 520.9 1373.0 519.1 1373.3 517.4 1373.4 515.9 1373.6 514.4 1373.7 512.8 1373.8 511.3 1373.9 509.7 1373.9 508.1 1374.0 506.4 1374.0 504.8 1374.0 503.1 1374.0 501.5 1374.0 499.8 1373.9 498.1 1373.8 496.5 1373.7 494.8 1373.6 493.2 1373.4 491.5 1373.3 489.9 1373.1 488.4 1372.8 486.8 1372.6 485.2 1372.3 483.6 1372.0 482.0 1371.7 480.4 1371.3 478.8 1371.0 477.2 1370.6 475.6 1370.2 474.1 1369.8 472.5 1369.4 471.0 1369.0 469.5 1368.6 468.1 1368.1 466.7 1367.7 465.3 1367.3 464.0 1366.9 462.8 1366.1 460.8 1365.3 458.8 1364.4 457.0 1363.5 455.2 1362.6 453.6 1361.7 452.0 1360.8 450.6 1360.1 449.4 1359.4 448.2 1358.8 447.3 1358.3 446.5 A1.8 1.8 0 0 0 1355.1 448.3 Z"/>
<path fill="#dff0da" d="M335.1 348.3 334.3 349.3 333.4 350.9 332.2 352.7 331.2 354.6 330.5 356.1 329.7 357.7 328.9 359.3 328.2 361.0 327.6 362.7 327.1 364.1 326.6 365.5 326.1 367.0 325.7 368.6 325.3 370.2 325.0 371.8 324.9 373.5 324.8 375.3 324.7 377.2 324.7 379.0 324.7 380.7 324.7 382.1 324.7 383.2 A0.5 0.5 0 0 0 325.7 383.2 L325.7 383.2 325.8 382.2 326.0 380.8 326.1 379.1 326.3 377.3 326.5 375.4 326.7 373.7 327.0 372.2 327.3 370.6 327.6 369.0 328.0 367.6 328.5 366.1 329.0 364.7 329.4 363.3 330.0 361.7 330.7 360.0 331.4 358.4 332.1 356.9 332.8 355.4 333.7 353.5 334.6 351.6 335.4 349.9 335.9 348.7 A0.5 0.5 0 0 0 335.1 348.3 Z M347.9 348.4 347.7 349.3 347.5 350.4 347.2 351.8 346.9 353.4 346.6 355.0 346.2 356.8 345.8 358.5 345.4 360.2 344.9 361.8 344.5 363.3 343.9 365.0 343.4 366.7 342.7 368.4 342.1 370.2 341.5 371.8 340.9 373.4 340.4 374.8 339.9 376.0 339.6 376.9 A0.4 0.4 0 0 0 340.4 377.1 L340.4 377.1 340.7 376.3 341.2 375.1 341.8 373.7 342.4 372.2 343.0 370.5 343.7 368.8 344.4 367.0 345.0 365.3 345.6 363.7 346.1 362.2 346.5 360.5 347.0 358.8 347.4 357.0 347.8 355.3 348.1 353.6 348.4 352.1 348.7 350.7 348.9 349.5 349.1 348.6 A0.6 0.6 0 0 0 347.9 348.4 Z M449.2 350.3 450.4 352.1 451.6 353.9 A0.5 0.5 0 0 0 452.4 353.3 L452.4 353.3 451.2 351.5 450.0 349.7 A0.5 0.5 0 0 0 449.2 350.3 Z M447.6 364.7 446.8 366.0 445.7 367.9 444.6 369.7 443.5 371.6 442.3 373.4 441.6 374.7 A0.5 0.5 0 0 0 442.4 375.3 L442.4 375.3 443.2 374.0 444.3 372.1 445.4 370.3 446.5 368.4 447.7 366.6 448.4 365.3 A0.5 0.5 0 0 0 447.6 364.7 Z M540.5 371.3 541.2 370.3 542.2 368.9 543.3 367.3 544.4 365.8 545.2 364.2 546.1 362.6 547.0 361.0 547.8 359.6 548.8 357.9 549.8 356.4 550.4 355.4 A0.4 0.4 0 0 0 549.8 354.8 L549.8 354.8 548.9 355.6 547.6 356.9 546.2 358.4 545.1 359.7 544.0 361.2 542.9 362.8 541.8 364.4 541.1 366.2 540.5 368.1 540.0 369.7 539.7 370.9 A0.4 0.4 0 0 0 540.5 371.3 Z M544.3 350.4 545.7 349.5 547.8 348.3 549.3 347.4 A0.5 0.5 0 0 0 548.7 346.6 L548.7 346.6 547.3 347.5 545.2 348.7 543.7 349.6 A0.5 0.5 0 0 0 544.3 350.4 Z M629.4 372.4 630.7 371.6 632.4 370.4 634.2 369.1 635.3 367.9 636.3 366.7 637.4 365.5 638.5 364.2 639.3 362.9 640.1 361.6 641.0 360.3 641.8 359.0 642.5 357.7 643.4 356.2 644.2 354.7 645.0 353.3 645.4 352.3 A0.4 0.4 0 0 0 644.8 351.9 L644.8 351.9 644.0 352.6 642.9 353.7 641.7 355.0 640.5 356.3 639.5 357.3 638.5 358.5 637.5 359.6 636.5 360.8 635.5 361.8 634.5 363.2 633.6 364.5 632.7 365.8 631.8 366.9 630.7 368.8 629.5 370.5 628.8 371.8 A0.4 0.4 0 0 0 629.4 372.4 Z M737.3 349.5 738.3 349.0 739.3 348.5 A0.5 0.5 0 0 0 738.9 347.7 L738.9 347.7 737.9 348.2 736.9 348.7 A0.5 0.5 0 0 0 737.3 349.5 Z M734.4 365.4 735.2 364.6 736.2 363.3 737.4 361.9 738.7 360.5 739.7 359.2 740.4 358.4 A0.5 0.5 0 0 0 739.8 357.8 L739.8 357.8 739.0 358.6 738.0 359.9 736.8 361.3 735.5 362.7 734.5 364.0 733.8 364.8 A0.5 0.5 0 0 0 734.4 365.4 Z M728.3 376.5 729.8 375.6 731.9 374.4 733.3 373.5 A0.5 0.5 0 0 0 732.9 372.7 L732.9 372.7 731.4 373.6 729.3 374.8 727.9 375.7 A0.5 0.5 0 0 0 728.3 376.5 Z M734.5 378.5 735.2 377.6 736.2 376.3 737.3 374.7 738.6 373.1 739.8 371.6 740.8 370.3 741.5 369.4 A0.5 0.5 0 0 0 740.7 368.8 L740.7 368.8 740.0 369.7 739.0 371.0 737.9 372.6 736.6 374.2 735.4 375.7 734.4 377.0 733.7 377.9 A0.5 0.5 0 0 0 734.5 378.5 Z M830.4 352.4 831.4 351.4 832.9 349.9 834.4 348.4 835.4 347.3 A0.5 0.5 0 0 0 834.8 346.7 L834.8 346.7 833.8 347.7 832.3 349.2 830.8 350.7 829.8 351.8 A0.5 0.5 0 0 0 830.4 352.4 Z M827.5 371.5 828.2 370.7 829.4 369.5 830.7 368.2 832.2 366.7 833.5 365.4 834.7 364.2 835.5 363.5 A0.5 0.5 0 0 0 834.7 362.7 L834.7 362.7 834.0 363.5 832.8 364.7 831.5 366.0 830.0 367.5 828.7 368.8 827.5 370.0 826.7 370.7 A0.5 0.5 0 0 0 827.5 371.5 Z M908.9 378.8 909.9 378.3 911.2 377.3 912.6 376.5 913.6 376.1 915.1 375.6 917.0 375.3 918.5 375.0 A0.8 0.8 0 0 0 918.5 373.6 L918.5 373.6 917.1 373.1 914.9 372.7 912.4 372.9 910.8 374.2 909.6 375.7 908.7 377.1 908.1 378.2 A0.5 0.5 0 0 0 908.9 378.8 Z M923.3 367.4 924.5 367.2 926.1 366.7 927.8 366.1 929.1 364.8 930.5 363.5 931.3 362.4 A0.4 0.4 0 0 0 930.9 361.8 L930.9 361.8 929.6 362.2 927.9 362.9 926.2 363.5 925.0 364.7 923.7 365.9 922.9 366.8 A0.4 0.4 0 0 0 923.3 367.4 Z M920.3 353.5 922.3 352.5 924.3 351.5 A0.5 0.5 0 0 0 923.9 350.7 L923.9 350.7 921.9 351.7 919.9 352.7 A0.5 0.5 0 0 0 920.3 353.5 Z"/>
</svg></body></html>
